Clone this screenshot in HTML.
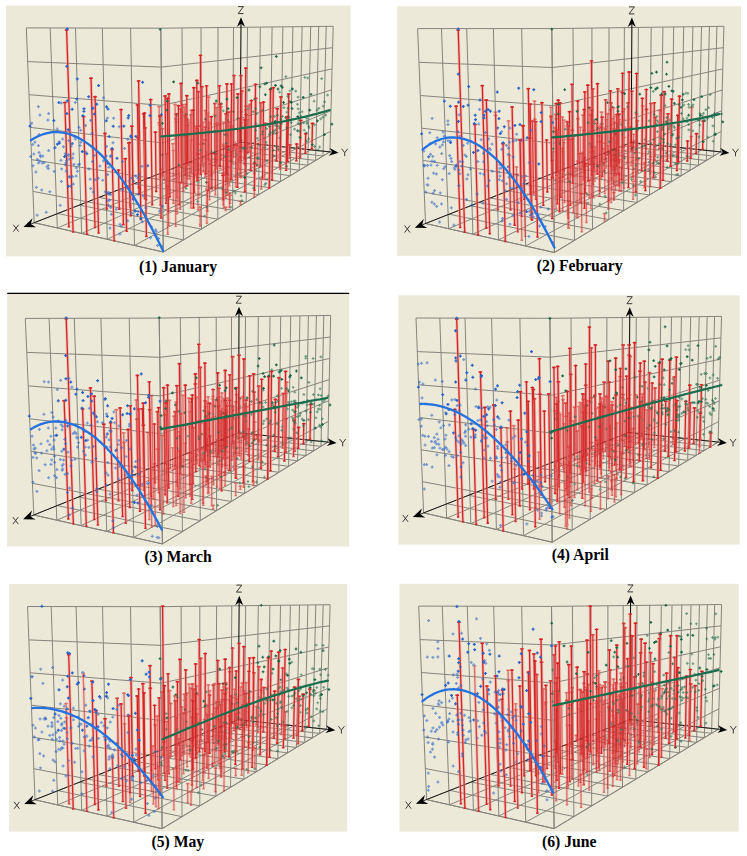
<!DOCTYPE html>
<html><head><meta charset="utf-8"><title>Figure</title>
<style>html,body{margin:0;padding:0;background:#fff;}svg{display:block;}</style></head>
<body><svg width="747" height="856" viewBox="0 0 747 856"><rect x="6" y="5.5" width="344.6" height="250.9" fill="#ECE9D8"/>
<line x1="163.3" y1="252" x2="160.8" y2="28.2" stroke="#86857d" stroke-width="1"/>
<line x1="134.5" y1="245.5" x2="130.6" y2="28.1" stroke="#86857d" stroke-width="1"/>
<line x1="107.3" y1="239.3" x2="102.3" y2="28.1" stroke="#86857d" stroke-width="1"/>
<line x1="81.6" y1="233.5" x2="75.5" y2="28" stroke="#86857d" stroke-width="1"/>
<line x1="57.3" y1="228" x2="50.2" y2="28" stroke="#86857d" stroke-width="1"/>
<line x1="34.2" y1="222.7" x2="26.3" y2="27.9" stroke="#86857d" stroke-width="1"/>
<line x1="163.3" y1="252" x2="34.2" y2="222.7" stroke="#86857d" stroke-width="1"/>
<line x1="162.9" y1="216.2" x2="33" y2="191.4" stroke="#86857d" stroke-width="1"/>
<line x1="162.5" y1="179.9" x2="31.7" y2="159.7" stroke="#86857d" stroke-width="1"/>
<line x1="162.1" y1="142.9" x2="30.4" y2="127.4" stroke="#86857d" stroke-width="1"/>
<line x1="161.7" y1="105.3" x2="29" y2="94.7" stroke="#86857d" stroke-width="1"/>
<line x1="161.2" y1="67.1" x2="27.7" y2="61.6" stroke="#86857d" stroke-width="1"/>
<line x1="160.8" y1="28.2" x2="26.3" y2="27.9" stroke="#86857d" stroke-width="1"/>
<line x1="163.3" y1="252" x2="160.8" y2="28.2" stroke="#86857d" stroke-width="1"/>
<line x1="183.4" y1="239.9" x2="182" y2="28" stroke="#86857d" stroke-width="1"/>
<line x1="201.5" y1="229.1" x2="201" y2="27.7" stroke="#86857d" stroke-width="1"/>
<line x1="217.8" y1="219.2" x2="218" y2="27.6" stroke="#86857d" stroke-width="1"/>
<line x1="232.6" y1="210.3" x2="233.5" y2="27.4" stroke="#86857d" stroke-width="1"/>
<line x1="246.2" y1="202.2" x2="247.5" y2="27.2" stroke="#86857d" stroke-width="1"/>
<line x1="258.6" y1="194.7" x2="260.3" y2="27.1" stroke="#86857d" stroke-width="1"/>
<line x1="270" y1="187.8" x2="272.1" y2="26.9" stroke="#86857d" stroke-width="1"/>
<line x1="280.5" y1="181.5" x2="282.9" y2="26.8" stroke="#86857d" stroke-width="1"/>
<line x1="290.3" y1="175.7" x2="292.9" y2="26.7" stroke="#86857d" stroke-width="1"/>
<line x1="299.3" y1="170.2" x2="302.1" y2="26.6" stroke="#86857d" stroke-width="1"/>
<line x1="307.8" y1="165.2" x2="310.7" y2="26.5" stroke="#86857d" stroke-width="1"/>
<line x1="315.6" y1="160.4" x2="318.7" y2="26.4" stroke="#86857d" stroke-width="1"/>
<line x1="323" y1="156" x2="326.2" y2="26.3" stroke="#86857d" stroke-width="1"/>
<line x1="329.9" y1="151.9" x2="333.2" y2="26.3" stroke="#86857d" stroke-width="1"/>
<line x1="163.3" y1="252" x2="329.9" y2="151.9" stroke="#86857d" stroke-width="1"/>
<line x1="162.9" y1="216.2" x2="330.4" y2="131.4" stroke="#86857d" stroke-width="1"/>
<line x1="162.5" y1="179.9" x2="330.9" y2="110.8" stroke="#86857d" stroke-width="1"/>
<line x1="162.1" y1="142.9" x2="331.5" y2="89.9" stroke="#86857d" stroke-width="1"/>
<line x1="161.7" y1="105.3" x2="332" y2="68.9" stroke="#86857d" stroke-width="1"/>
<line x1="161.2" y1="67.1" x2="332.6" y2="47.7" stroke="#86857d" stroke-width="1"/>
<line x1="160.8" y1="28.2" x2="333.2" y2="26.3" stroke="#86857d" stroke-width="1"/>
<line x1="163.3" y1="252" x2="34.2" y2="222.7" stroke="#86857d" stroke-width="1"/>
<line x1="183.4" y1="239.9" x2="57.8" y2="213.5" stroke="#86857d" stroke-width="1"/>
<line x1="201.5" y1="229.1" x2="79.3" y2="205.1" stroke="#86857d" stroke-width="1"/>
<line x1="217.8" y1="219.2" x2="99" y2="197.4" stroke="#86857d" stroke-width="1"/>
<line x1="232.6" y1="210.3" x2="117.1" y2="190.4" stroke="#86857d" stroke-width="1"/>
<line x1="246.2" y1="202.2" x2="133.7" y2="183.8" stroke="#86857d" stroke-width="1"/>
<line x1="258.6" y1="194.7" x2="149.1" y2="177.8" stroke="#86857d" stroke-width="1"/>
<line x1="270" y1="187.8" x2="163.4" y2="172.2" stroke="#86857d" stroke-width="1"/>
<line x1="280.5" y1="181.5" x2="176.7" y2="167" stroke="#86857d" stroke-width="1"/>
<line x1="290.3" y1="175.7" x2="189.1" y2="162.2" stroke="#86857d" stroke-width="1"/>
<line x1="299.3" y1="170.2" x2="200.7" y2="157.7" stroke="#86857d" stroke-width="1"/>
<line x1="307.8" y1="165.2" x2="211.5" y2="153.4" stroke="#86857d" stroke-width="1"/>
<line x1="315.6" y1="160.4" x2="221.7" y2="149.4" stroke="#86857d" stroke-width="1"/>
<line x1="323" y1="156" x2="231.2" y2="145.7" stroke="#86857d" stroke-width="1"/>
<line x1="329.9" y1="151.9" x2="240.2" y2="142.2" stroke="#86857d" stroke-width="1"/>
<line x1="163.3" y1="252" x2="329.9" y2="151.9" stroke="#86857d" stroke-width="1"/>
<line x1="134.5" y1="245.5" x2="310.8" y2="149.8" stroke="#86857d" stroke-width="1"/>
<line x1="107.3" y1="239.3" x2="292.3" y2="147.8" stroke="#86857d" stroke-width="1"/>
<line x1="81.6" y1="233.5" x2="274.4" y2="145.9" stroke="#86857d" stroke-width="1"/>
<line x1="57.3" y1="228" x2="257" y2="144" stroke="#86857d" stroke-width="1"/>
<line x1="34.2" y1="222.7" x2="240.2" y2="142.2" stroke="#86857d" stroke-width="1"/>
<line x1="240.2" y1="142.2" x2="241" y2="21.2" stroke="#000" stroke-width="1"/>
<polygon points="241,17.2 245,26.8 241,23.7 237,26.7" fill="#000"/>
<line x1="240.2" y1="142.2" x2="28.2" y2="225.1" stroke="#111" stroke-width="0.9"/>
<polygon points="23.5,226.9 32.5,218.3 30.8,224.1 36,227.2" fill="#000"/>
<line x1="240.2" y1="142.2" x2="334.6" y2="152.4" stroke="#111" stroke-width="0.9"/>
<polygon points="338.6,152.8 328.7,155.7 332.2,152.1 329.6,147.9" fill="#000"/>
<path d="M238.1 6.6H243.5L238.1 13.6H243.5M13.3 224.7L18.7 231.7M18.7 224.7L13.3 231.7M341.7 148.8L344.7 152.7L347.7 148.8M344.7 152.7V156.2" stroke="#3a3a3a" stroke-width="1" fill="none"/>
<path d="M66.6 29L73.1 232M200.5 54.4L200.8 174.6M245.8 67.3L244.9 191.7M91 77.3L95 227.6M196.8 79.5L197.2 180.5M138.6 80L140.9 219.5M181 82.5L181.7 182.7M226.9 83L226.6 174.6M231.6 83L231.2 179.2M255.5 83.4L254.5 190.3M206.6 84.9L206.7 173.9M219.4 84.9L219.3 165.8M193.8 86.7L194.2 192.3M273.3 86.8L272.1 180M270.5 88.6L269.2 188.1M168.9 93L169.9 196.7M238 93L237.5 187.3M288.8 93L287.6 161.5M165.1 95L166.2 203.3M186.8 94.8L187.2 162.8M95 95.7L98.6 233.1M280.9 96L279.8 166M167.3 97.5L168.4 211.4M150.7 98.6L152.2 204.8M251.4 99.6L250.8 170.4M263.5 101.1L262.6 177.7M64.8 101.6L68.9 226.9M137.5 104L139 193.8M178.4 104.8L179.2 204.8M277.3 107.7L276.5 160.8M121 108.6L123.4 224.7M193.1 109.3L193.5 208M144.5 112.1L146.4 236.5M143.6 112.9L144.9 198.9M159.9 115.2L161.1 218.1M83.5 115.6L86.9 234.3M211.2 115.8L211.2 176.1M287 115.8L286.1 170.4M300.9 119.5L300.1 157.9M312.5 122.5L311.9 149M131.8 125.2L133.1 198.9M155.4 131.3L156.2 191.5M104.9 132.5L106.7 209M305.7 132.8L305.3 153.4M129.3 141.6L130.7 215.8M296.7 143.1L296.4 160.8M112 148.5L114.1 240.9M125.2 157.7L126.6 231.3M118.5 169.1L119.3 209.2M223 174.4L222.9 199.6" stroke="#f0a0a0" stroke-width="3" stroke-opacity="0.55" fill="none"/>
<path d="M66.6 29L73.1 232M200.5 54.4L200.8 174.6M245.8 67.3L244.9 191.7M91 77.3L95 227.6M196.8 79.5L197.2 180.5M138.6 80L140.9 219.5M181 82.5L181.7 182.7M226.9 83L226.6 174.6M231.6 83L231.2 179.2M255.5 83.4L254.5 190.3M206.6 84.9L206.7 173.9M219.4 84.9L219.3 165.8M193.8 86.7L194.2 192.3M273.3 86.8L272.1 180M270.5 88.6L269.2 188.1M168.9 93L169.9 196.7M238 93L237.5 187.3M288.8 93L287.6 161.5M165.1 95L166.2 203.3M186.8 94.8L187.2 162.8M95 95.7L98.6 233.1M280.9 96L279.8 166M167.3 97.5L168.4 211.4M150.7 98.6L152.2 204.8M251.4 99.6L250.8 170.4M263.5 101.1L262.6 177.7M64.8 101.6L68.9 226.9M137.5 104L139 193.8M178.4 104.8L179.2 204.8M277.3 107.7L276.5 160.8M121 108.6L123.4 224.7M193.1 109.3L193.5 208M144.5 112.1L146.4 236.5M143.6 112.9L144.9 198.9M159.9 115.2L161.1 218.1M83.5 115.6L86.9 234.3M211.2 115.8L211.2 176.1M287 115.8L286.1 170.4M300.9 119.5L300.1 157.9M312.5 122.5L311.9 149M131.8 125.2L133.1 198.9M155.4 131.3L156.2 191.5M104.9 132.5L106.7 209M305.7 132.8L305.3 153.4M129.3 141.6L130.7 215.8M296.7 143.1L296.4 160.8M112 148.5L114.1 240.9M125.2 157.7L126.6 231.3M118.5 169.1L119.3 209.2M223 174.4L222.9 199.6" stroke="#d42424" stroke-width="1.3" fill="none"/>
<path d="M64.8 30h3.6M198.7 55.4h3.6M244 68.3h3.6M89.2 78.3h3.6M195 80.5h3.6M136.8 81h3.6M179.2 83.5h3.6M225.1 84h3.6M229.8 84h3.6M253.7 84.4h3.6M204.8 85.9h3.6M217.6 85.9h3.6M192 87.7h3.6M271.5 87.8h3.6M268.7 89.6h3.6M167.1 94h3.6M236.2 94h3.6M287 94h3.6M163.3 96h3.6M185 95.8h3.6M93.2 96.7h3.6M279.1 97h3.6M165.5 98.5h3.6M148.9 99.6h3.6M249.6 100.6h3.6M261.7 102.1h3.6M63 102.6h3.6M135.7 105h3.6M176.6 105.8h3.6M275.5 108.7h3.6M119.2 109.6h3.6M191.3 110.3h3.6M142.7 113.1h3.6M141.8 113.9h3.6M158.1 116.2h3.6M81.7 116.6h3.6M209.4 116.8h3.6M285.2 116.8h3.6M299.1 120.5h3.6M310.7 123.5h3.6M130 126.2h3.6M153.6 132.3h3.6M103.1 133.5h3.6M303.9 133.8h3.6M127.5 142.6h3.6M294.9 144.1h3.6M110.2 149.5h3.6M123.4 158.7h3.6M116.7 170.1h3.6M221.2 175.4h3.6M71.9 232h2.4M199.6 174.6h2.4M243.7 191.7h2.4M93.8 227.6h2.4M196 180.5h2.4M139.7 219.5h2.4M180.5 182.7h2.4M225.4 174.6h2.4M230 179.2h2.4M253.3 190.3h2.4M205.5 173.9h2.4M218.1 165.8h2.4M193 192.3h2.4M270.9 180h2.4M268 188.1h2.4M168.7 196.7h2.4M236.3 187.3h2.4M286.4 161.5h2.4M165 203.3h2.4M186 162.8h2.4M97.4 233.1h2.4M278.6 166h2.4M167.2 211.4h2.4M151 204.8h2.4M249.6 170.4h2.4M261.4 177.7h2.4M67.7 226.9h2.4M137.8 193.8h2.4M178 204.8h2.4M275.3 160.8h2.4M122.2 224.7h2.4M192.3 208h2.4M145.2 236.5h2.4M143.7 198.9h2.4M159.9 218.1h2.4M85.7 234.3h2.4M210 176.1h2.4M284.9 170.4h2.4M298.9 157.9h2.4M310.7 149h2.4M131.9 198.9h2.4M155 191.5h2.4M105.5 209h2.4M304.1 153.4h2.4M129.5 215.8h2.4M295.2 160.8h2.4M112.9 240.9h2.4M125.4 231.3h2.4M118.1 209.2h2.4M221.7 199.6h2.4" stroke="#d42424" stroke-width="1.4" fill="none"/>
<path d="M65.9 28.9h3M67.4 27.4v3M65.3 66.3h3M66.8 64.8v3M141.1 82.3h3M142.6 80.8v3M75.8 78.9h3M77.3 77.4v3M75.2 98.9h3M76.7 97.4v3M97.1 85.5h3M98.6 84v3M65.8 100.9h3M67.3 99.4v3M91.3 108.1h3M92.8 106.6v3M105 106.8h3M106.5 105.3v3M148.6 105.3h3M150.1 103.8v3M70.7 109.3h3M72.2 107.8v3M65.4 113.6h3M66.9 112.1v3M95.3 104.2h3M96.8 102.7v3M148.5 115.6h3M150 114.1v3M159.9 114.5h3M161.4 113v3M82.5 108.7h3M84 107.2v3M126.7 117.9h3M128.2 116.4v3M129.2 136h3M130.7 134.5v3M91.1 108.6h3M92.6 107.1v3M28.5 126.1h3M30 124.6v3M87.2 96.7h3M88.7 95.2v3M129.8 137.1h3M131.3 135.6v3M106.5 109.1h3M108 107.6v3M82.4 111.3h3M83.9 109.8v3M107.7 136.5h3M109.2 135v3M134.4 136.4h3M135.9 134.9v3M57.4 102.5h3M58.9 101v3M52.3 120.5h3M53.8 119v3M104.8 120.8h3M106.3 119.3v3M115.5 158.3h3M117 156.8v3M92.8 114h3M94.3 112.5v3M122.3 126.2h3M123.8 124.7v3M127.2 115.6h3M128.7 114.1v3M66.7 129.7h3M68.2 128.2v3M111.7 126.3h3M113.2 124.8v3M81.4 115.7h3M82.9 114.2v3M80.8 151.6h3M82.3 150.1v3M146.2 165.8h3M147.7 164.3v3M137 183.6h3M138.5 182.1v3M131.8 199.2h3M133.3 197.7v3M57.9 143h3M59.4 141.5v3M63.1 156.5h3M64.6 155v3M55.9 144.2h3M57.4 142.7v3M133.8 211.1h3M135.3 209.6v3M85.3 153.7h3M86.8 152.2v3M139.4 218.7h3M140.9 217.2v3M110.6 148.5h3M112.1 147v3M106.2 163.3h3M107.7 161.8v3M66.9 186.3h3M68.4 184.8v3M136 214.7h3M137.5 213.2v3" stroke="#2a64c8" stroke-width="1.25" fill="none"/>
<path d="M158.7 29.3h2.8M160.1 27.9v2.8M274.9 56.5h2.8M276.3 55.1v2.8M259.7 67.8h2.8M261.1 66.4v2.8M172.2 81.9h2.8M173.6 80.5v2.8M265.2 83.2h2.8M266.6 81.8v2.8M196.5 83.2h2.8M197.9 81.8v2.8M258.5 86.8h2.8M259.9 85.4v2.8M279.7 85.9h2.8M281.1 84.5v2.8M274.1 85.4h2.8M275.5 84v2.8M263.5 83.9h2.8M264.9 82.5v2.8M276.6 89h2.8M278 87.6v2.8M291 88.9h2.8M292.4 87.5v2.8M247.6 90h2.8M249 88.6v2.8M281 87.3h2.8M282.4 85.9v2.8M269.4 88.6h2.8M270.8 87.2v2.8M235.7 97.6h2.8M237.1 96.2v2.8M264 94.7h2.8M265.4 93.3v2.8M309.6 94.3h2.8M311 92.9v2.8M225.5 99.2h2.8M226.9 97.8v2.8M288.9 101.8h2.8M290.3 100.4v2.8M165.9 101.1h2.8M167.3 99.7v2.8M301.8 97.4h2.8M303.2 96v2.8M214.8 101h2.8M216.2 99.6v2.8M219.9 103.8h2.8M221.3 102.4v2.8M290.2 102.3h2.8M291.6 100.9v2.8M282.2 102.5h2.8M283.6 101.1v2.8M165.5 110.2h2.8M166.9 108.8v2.8M232.2 111.7h2.8M233.6 110.3v2.8M226.6 108.6h2.8M228 107.2v2.8M308.3 110.1h2.8M309.7 108.7v2.8M184.7 114.3h2.8M186.1 112.9v2.8M225.6 112h2.8M227 110.6v2.8M175.4 115h2.8M176.8 113.6v2.8M226.3 120.4h2.8M227.7 119v2.8M203.9 119.2h2.8M205.3 117.8v2.8M161 123.3h2.8M162.4 121.9v2.8M273.9 121.4h2.8M275.3 120v2.8M296.4 116.6h2.8M297.8 115.2v2.8M316.1 120.8h2.8M317.5 119.4v2.8M330.5 124.1h2.8M331.9 122.7v2.8M223.3 134.7h2.8M224.7 133.3v2.8M239.5 140.4h2.8M240.9 139v2.8M201.9 143.6h2.8M203.3 142.2v2.8M323 134.6h2.8M324.4 133.2v2.8M199 150.2h2.8M200.4 148.8v2.8M310.9 144.7h2.8M312.3 143.3v2.8M160.8 155h2.8M162.2 153.6v2.8M177.1 165h2.8M178.5 163.6v2.8M205.1 182.4h2.8M206.5 181v2.8M243.3 177.5h2.8M244.7 176.1v2.8" stroke="#1b6848" stroke-width="1.1" fill="none"/>
<g opacity="0.6"><path d="M234 74.6L233.6 157.3M241 74.6L240.4 173.3M201.9 85.7L202.1 161.3M241.8 90L241.2 177.7M198.3 90.8L198.5 166.1M255.8 97.4L255.2 155.3M260.9 101.9L260.2 167.4M214.8 102.6L214.8 165.5M220.4 103.3L220.3 168.8M228.1 111.4L228 147.4M176.3 112.9L177 197.5M225.9 112.9L225.7 171.1M246.2 113.6L245.9 158.9M280.8 121.7L280.1 167.5M265.3 122.5L264.9 159.9M145.2 126.9L146.3 199.7M138 136.5L138.9 188M128.8 142L130 207.6M289.8 143.9L289.6 158.3M236 144.3L235.8 177.1M227.2 145L227 195.3M211.7 152.4L211.7 189M215.4 153.1L215.4 195.1M254.5 162.3L254.2 197.2M208.7 181.4L208.7 190.8M223.5 143.4L223.4 175.3M231.2 126.9L231 179.8M175.9 118L176.4 175.1M214.7 114.3L214.7 154.9M181.7 111L182.1 168.1M207.7 112.4L207.8 159.6M176.5 120.7L176.9 171M163.6 134.9L164.1 179.7M249.9 103.5L249.5 151.3M216.3 132.1L216.3 155.1M185.1 114.7L185.5 174.5M214.9 129.7L214.9 153.6M247.7 119L247.4 153.7M162.3 127.7L162.8 176.2M191.3 109.5L191.6 173.8M198.5 153.3L198.6 170.3M231.4 125.7L231.3 157.2M231.4 130.9L231.3 161.1M203.2 121.4L203.3 172M187.3 124.5L187.6 176M234.1 141L234 149.4M217 122L217 163.6M198.4 125.6L198.5 173.5M208.8 121.5L208.9 156M232.6 125.1L232.4 163.2M205.4 109.6L205.5 173.9M231.8 124.8L231.6 162M210.8 159L210.8 189M166.7 153L167.2 200.3M212.1 164.4L212.1 189.7M186.8 117.4L187.2 186M229.1 132.8L228.9 175.4M244.5 119.3L244.2 163.7M229.3 121.6L229.1 178.1M229.4 179.6L229.4 185.7M257.4 142.8L257.2 166.1M217.5 123.7L217.5 187.5M238.8 129.7L238.5 169.1M229 121.1L228.8 178.6M167.2 185.5L167.7 234.2M225.7 206.2L225.7 210.6M223.2 172L223.1 204.7M209.4 123.1L209.5 199.8M230.2 194.2L230.2 203.4M206.9 187.9L206.9 223.4M206.9 151.3L207 203.3M240.6 200.3L240.6 204.6M225.9 170.7L225.8 198.4M261.4 178.4L261.3 189" stroke="#f0a0a0" stroke-width="3" stroke-opacity="0.55" fill="none"/><path d="M234 74.6L233.6 157.3M241 74.6L240.4 173.3M201.9 85.7L202.1 161.3M241.8 90L241.2 177.7M198.3 90.8L198.5 166.1M255.8 97.4L255.2 155.3M260.9 101.9L260.2 167.4M214.8 102.6L214.8 165.5M220.4 103.3L220.3 168.8M228.1 111.4L228 147.4M176.3 112.9L177 197.5M225.9 112.9L225.7 171.1M246.2 113.6L245.9 158.9M280.8 121.7L280.1 167.5M265.3 122.5L264.9 159.9M145.2 126.9L146.3 199.7M138 136.5L138.9 188M128.8 142L130 207.6M289.8 143.9L289.6 158.3M236 144.3L235.8 177.1M227.2 145L227 195.3M211.7 152.4L211.7 189M215.4 153.1L215.4 195.1M254.5 162.3L254.2 197.2M208.7 181.4L208.7 190.8M223.5 143.4L223.4 175.3M231.2 126.9L231 179.8M175.9 118L176.4 175.1M214.7 114.3L214.7 154.9M181.7 111L182.1 168.1M207.7 112.4L207.8 159.6M176.5 120.7L176.9 171M163.6 134.9L164.1 179.7M249.9 103.5L249.5 151.3M216.3 132.1L216.3 155.1M185.1 114.7L185.5 174.5M214.9 129.7L214.9 153.6M247.7 119L247.4 153.7M162.3 127.7L162.8 176.2M191.3 109.5L191.6 173.8M198.5 153.3L198.6 170.3M231.4 125.7L231.3 157.2M231.4 130.9L231.3 161.1M203.2 121.4L203.3 172M187.3 124.5L187.6 176M234.1 141L234 149.4M217 122L217 163.6M198.4 125.6L198.5 173.5M208.8 121.5L208.9 156M232.6 125.1L232.4 163.2M205.4 109.6L205.5 173.9M231.8 124.8L231.6 162M210.8 159L210.8 189M166.7 153L167.2 200.3M212.1 164.4L212.1 189.7M186.8 117.4L187.2 186M229.1 132.8L228.9 175.4M244.5 119.3L244.2 163.7M229.3 121.6L229.1 178.1M229.4 179.6L229.4 185.7M257.4 142.8L257.2 166.1M217.5 123.7L217.5 187.5M238.8 129.7L238.5 169.1M229 121.1L228.8 178.6M167.2 185.5L167.7 234.2M225.7 206.2L225.7 210.6M223.2 172L223.1 204.7M209.4 123.1L209.5 199.8M230.2 194.2L230.2 203.4M206.9 187.9L206.9 223.4M206.9 151.3L207 203.3M240.6 200.3L240.6 204.6M225.9 170.7L225.8 198.4M261.4 178.4L261.3 189" stroke="#d42424" stroke-width="1.3" fill="none"/><path d="M232.2 75.6h3.6M239.2 75.6h3.6M200.1 86.7h3.6M240 91h3.6M196.5 91.8h3.6M254 98.4h3.6M259.1 102.9h3.6M213 103.6h3.6M218.6 104.3h3.6M226.3 112.4h3.6M174.5 113.9h3.6M224.1 113.9h3.6M244.4 114.6h3.6M279 122.7h3.6M263.5 123.5h3.6M143.4 127.9h3.6M136.2 137.5h3.6M127 143h3.6M288 144.9h3.6M234.2 145.3h3.6M225.4 146h3.6M209.9 153.4h3.6M213.6 154.1h3.6M252.7 163.3h3.6M206.9 182.4h3.6M221.7 144.4h3.6M229.4 127.9h3.6M174.1 119h3.6M212.9 115.3h3.6M179.9 112h3.6M205.9 113.4h3.6M174.7 121.7h3.6M161.8 135.9h3.6M248.1 104.5h3.6M214.5 133.1h3.6M183.3 115.7h3.6M213.1 130.7h3.6M245.9 120h3.6M160.5 128.7h3.6M189.5 110.5h3.6M196.7 154.3h3.6M229.6 126.7h3.6M229.6 131.9h3.6M201.4 122.4h3.6M185.5 125.5h3.6M232.3 142h3.6M215.2 123h3.6M196.6 126.6h3.6M207 122.5h3.6M230.8 126.1h3.6M203.6 110.6h3.6M230 125.8h3.6M209 160h3.6M164.9 154h3.6M210.3 165.4h3.6M185 118.4h3.6M227.3 133.8h3.6M242.7 120.3h3.6M227.5 122.6h3.6M227.6 180.6h3.6M255.6 143.8h3.6M215.7 124.7h3.6M237 130.7h3.6M227.2 122.1h3.6M165.4 186.5h3.6M223.9 207.2h3.6M221.4 173h3.6M207.6 124.1h3.6M228.4 195.2h3.6M205.1 188.9h3.6M205.1 152.3h3.6M238.8 201.3h3.6M224.1 171.7h3.6M259.6 179.4h3.6M232.4 157.3h2.4M239.2 173.3h2.4M200.9 161.3h2.4M240 177.7h2.4M197.3 166.1h2.4M254 155.3h2.4M259 167.4h2.4M213.6 165.5h2.4M219.1 168.8h2.4M226.8 147.4h2.4M175.8 197.5h2.4M224.5 171.1h2.4M244.7 158.9h2.4M278.9 167.5h2.4M263.7 159.9h2.4M145.1 199.7h2.4M137.7 188h2.4M128.8 207.6h2.4M288.4 158.3h2.4M234.6 177.1h2.4M225.8 195.3h2.4M210.5 189h2.4M214.2 195.1h2.4M253 197.2h2.4M207.5 190.8h2.4M222.2 175.3h2.4M229.8 179.8h2.4M175.2 175.1h2.4M213.5 154.9h2.4M180.9 168.1h2.4M206.6 159.6h2.4M175.7 171h2.4M162.9 179.7h2.4M248.3 151.3h2.4M215.1 155.1h2.4M184.3 174.5h2.4M213.7 153.6h2.4M246.2 153.7h2.4M161.6 176.2h2.4M190.4 173.8h2.4M197.4 170.3h2.4M230.1 157.2h2.4M230.1 161.1h2.4M202.1 172h2.4M186.4 176h2.4M232.8 149.4h2.4M215.8 163.6h2.4M197.3 173.5h2.4M207.7 156h2.4M231.2 163.2h2.4M204.3 173.9h2.4M230.4 162h2.4M209.6 189h2.4M166 200.3h2.4M210.9 189.7h2.4M186 186h2.4M227.7 175.4h2.4M243 163.7h2.4M227.9 178.1h2.4M228.2 185.7h2.4M256 166.1h2.4M216.3 187.5h2.4M237.3 169.1h2.4M227.6 178.6h2.4M166.5 234.2h2.4M224.5 210.6h2.4M221.9 204.7h2.4M208.3 199.8h2.4M229 203.4h2.4M205.7 223.4h2.4M205.8 203.3h2.4M239.4 204.6h2.4M224.6 198.4h2.4M260.1 189h2.4" stroke="#d42424" stroke-width="1.4" fill="none"/><path d="M59.9 103h3M61.4 101.5v3M102 97.7h3M103.5 96.2v3M38.4 115.1h3M39.9 113.6v3M112.1 118.2h3M113.6 116.7v3M46.4 120h3M47.9 118.5v3M79.2 142.3h3M80.7 140.8v3M111.5 142.8h3M113 141.3v3M61.1 139.1h3M62.6 137.6v3M73.8 139h3M75.3 137.5v3M31.5 165.7h3M33 164.2v3M90.5 133.4h3M92 131.9v3M84.3 152.2h3M85.8 150.7v3M78.1 164h3M79.6 162.5v3M134 176h3M135.5 174.5v3M101.2 180.3h3M102.7 178.8v3M69.7 146.1h3M71.2 144.6v3M42.6 162.6h3M44.1 161.1v3M71.3 158h3M72.8 156.5v3M126.2 220.8h3M127.7 219.3v3M107.5 194.2h3M109 192.7v3M132 181h3M133.5 179.5v3M107.2 192.4h3M108.7 190.9v3M121.2 189.7h3M122.7 188.2v3M161.1 206.4h3M162.6 204.9v3M108.5 228h3M110 226.5v3M91.8 192.1h3M93.3 190.6v3M107.4 167.3h3M108.9 165.8v3M47.2 150.6h3M48.7 149.1v3M37 162.9h3M38.5 161.4v3M36.9 145.6h3M38.4 144.1v3M41.3 156h3M42.8 154.5v3M39.1 156.7h3M40.6 155.2v3M46.8 168.6h3M48.3 167.1v3M63.7 153.7h3M65.2 152.2v3M40.2 189.9h3M41.7 188.4v3M53.8 147.6h3M55.3 146.1v3M34.9 187.3h3M36.4 185.8v3M67.9 176.5h3M69.4 175v3M38.2 161.1h3M39.7 159.6v3M57.8 141.7h3M59.3 140.2v3M58.7 205.3h3M60.2 203.8v3M59.9 181.4h3M61.4 179.9v3M69 186.2h3M70.5 184.7v3M65.2 160.7h3M66.7 159.2v3M59.4 160.3h3M60.9 158.8v3M44.7 212.3h3M46.2 210.8v3M60.1 168.9h3M61.6 167.4v3M64 164.9h3M65.5 163.4v3M34.4 172h3M35.9 170.5v3M74.6 176.1h3M76.1 174.6v3M70.8 143.5h3M72.3 142v3M71 176.5h3M72.5 175v3M106.4 200.8h3M107.9 199.3v3M88.7 179.2h3M90.2 177.7v3M109.1 207.5h3M110.6 206v3M78.5 145.5h3M80 144v3M96.9 178.2h3M98.4 176.7v3M87.4 169.1h3M88.9 167.6v3M102 160.9h3M103.5 159.4v3M118.4 234.1h3M119.9 232.6v3M106.9 204.9h3M108.4 203.4v3M108.9 156.6h3M110.4 155.1v3M93.7 179.7h3M95.2 178.2v3M102.8 159.8h3M104.3 158.3v3M141.5 195.9h3M143 194.4v3M156.1 245.4h3M157.6 243.9v3M144.3 207.9h3M145.8 206.4v3M123.1 148.4h3M124.6 146.9v3M149 237.7h3M150.5 236.2v3M158 211h3M159.5 209.5v3M127.4 180.9h3M128.9 179.4v3M160.3 246.3h3M161.8 244.8v3M136.5 211.4h3M138 209.9v3M154.8 236.2h3M156.3 234.7v3" stroke="#2a64c8" stroke-width="1.25" fill="none"/><path d="M306.4 78h2.8M307.8 76.6v2.8M284.5 76.6h2.8M285.9 75.2v2.8M294.3 91.1h2.8M295.7 89.7v2.8M278.2 92.2h2.8M279.6 90.8v2.8M286.3 96.4h2.8M287.7 95v2.8M312.7 101.2h2.8M314.1 99.8v2.8M296.1 104.4h2.8M297.5 103v2.8M290.2 108.2h2.8M291.6 106.8v2.8M286.4 108.2h2.8M287.8 106.8v2.8M319.4 118.9h2.8M320.8 117.5v2.8M236.2 118.2h2.8M237.6 116.8v2.8M284.1 117.8h2.8M285.5 116.4v2.8M305.5 118.5h2.8M306.9 117.1v2.8M299.2 123.4h2.8M300.6 122v2.8M307.2 126.3h2.8M308.6 124.9v2.8M225.5 135.3h2.8M226.9 133.9v2.8M240.4 148.3h2.8M241.8 146.9v2.8M210.2 152h2.8M211.6 150.6v2.8M313.2 146.5h2.8M314.6 145.1v2.8M277.1 149h2.8M278.5 147.6v2.8M250.2 147.7h2.8M251.6 146.3v2.8M255.5 157.9h2.8M256.9 156.5v2.8M247.9 157.2h2.8M249.3 155.8v2.8M253.3 162.3h2.8M254.7 160.9v2.8M252.1 188.1h2.8M253.5 186.7v2.8M277.1 149.5h2.8M278.5 148.1v2.8M272.6 130.9h2.8M274 129.5v2.8M267.9 126.5h2.8M269.3 125.1v2.8M305.7 122.1h2.8M307.1 120.7v2.8M279.6 119.3h2.8M281 117.9v2.8M297.4 120h2.8M298.8 118.6v2.8M274.1 130h2.8M275.5 128.6v2.8M258.3 145.4h2.8M259.7 144v2.8M317.4 108.4h2.8M318.8 107v2.8M305.2 141.2h2.8M306.6 139.8v2.8M270.9 122.3h2.8M272.3 120.9v2.8M307.3 139h2.8M308.7 137.6v2.8M313.2 124.8h2.8M314.6 123.4v2.8M263.3 138.1h2.8M264.7 136.7v2.8M273.2 116.3h2.8M274.6 114.9v2.8M279.1 163.4h2.8M280.5 162v2.8M305 132.8h2.8M306.4 131.4v2.8M299.2 137.7h2.8M300.6 136.3v2.8M278.2 128.5h2.8M279.6 127.1v2.8M268.9 132.5h2.8M270.3 131.1v2.8M316.7 150h2.8M318.1 148.6v2.8M293.1 129.1h2.8M294.5 127.7v2.8M275 133.2h2.8M276.4 131.8v2.8M302.8 130.2h2.8M304.2 128.8v2.8M296.5 131.1h2.8M297.9 129.7v2.8M276 115.4h2.8M277.4 114v2.8M298.2 131.1h2.8M299.6 129.7v2.8M255.2 164.8h2.8M256.6 163.4v2.8M229.6 161.1h2.8M231 159.7v2.8M254.4 170.2h2.8M255.8 168.8v2.8M254.7 123.6h2.8M256.1 122.2v2.8M278.3 137.9h2.8M279.7 136.5v2.8M298.1 124.1h2.8M299.5 122.7v2.8M274.7 125.9h2.8M276.1 124.5v2.8M263.4 184.8h2.8M264.8 183.4v2.8M296.6 147.1h2.8M298 145.7v2.8M259.1 127.7h2.8M260.5 126.3v2.8M289.1 134.7h2.8M290.5 133.3v2.8M273.9 125.3h2.8M275.3 123.9v2.8M184.7 188.5h2.8M186.1 187.1v2.8M229.3 207.1h2.8M230.7 205.7v2.8M236.6 174h2.8M238 172.6v2.8M240.4 126.2h2.8M241.8 124.8v2.8M239.7 195.9h2.8M241.1 194.5v2.8M208.5 188.3h2.8M209.9 186.9v2.8M234.9 154.8h2.8M236.3 153.4v2.8M240.5 200.5h2.8M241.9 199.1v2.8M245.6 173.6h2.8M247 172.2v2.8M265.5 179.2h2.8M266.9 177.8v2.8" stroke="#1b6848" stroke-width="1.1" fill="none"/></g>
<g opacity="0.6"><path d="M234 74.6L233.7 148.1M241 74.6L240.5 160.3M201.9 85.7L202.1 165.1M241.8 90L241.4 144.8M198.3 90.8L198.5 159.1M255.8 97.4L255.3 148.2M260.9 101.9L260.4 149.8M214.8 102.6L214.8 170.8M220.4 103.3L220.3 165.7M228.1 111.4L227.8 192M176.3 112.9L177.1 213.8M225.9 112.9L225.7 181.5M246.2 113.6L245.8 171.3M280.8 121.7L280.1 169.2M265.3 122.5L264.6 179.6M145.2 126.9L146 178.6M138 136.5L138.8 187M128.8 142L130 205.3M289.8 143.9L289.6 154.8M236 144.3L235.8 187M227.2 145L227.1 179.6M211.7 152.4L211.7 188.2M215.4 153.1L215.4 188.2M254.5 162.3L254.4 173.5M208.6 96.2L208.7 190.8M223.5 121.4L223.4 175.3M231.1 150.9L231 179.8M175.1 103.5L175.7 179.8M189.1 121.4L189.4 179M159.9 114.5L160.6 174.1M216.8 106.8L216.8 168.9M188 119L188.2 165M160.8 168.4L160.9 174.8M197 127.5L197.2 178.1M173.4 149.6L173.6 176.1M159.6 124.1L160.3 177.6M241.5 110.7L241.3 147.5M205.3 126.3L205.4 176.6M245.7 108.9L245.4 146.2M195.1 125.5L195.3 175M221.1 105.7L221 159.2M190.7 113.9L191 162.5M239.7 117.4L239.4 160.3M205.1 139L205.2 174M244.6 118.4L244.3 158.5M186.7 133.9L187 178.8M248.3 105.2L248 152.3M215 122.9L214.9 161.2M230.6 110.5L230.4 161.1M180.6 108.3L181.1 167.1M159.1 121.8L159.8 177.2M241.2 121.7L241 156.6M184.4 106.3L184.9 187.6M261 109.9L260.4 166.1M198.4 124.9L198.6 188M172.9 142.7L173.4 203.2M185.7 103.5L186.2 186.2M182.8 103.8L183.4 191M198.4 143.1L198.6 195.2M246.1 105.1L245.6 165M240.1 157.5L240 176M180 181.6L180.2 209.2M245.6 132.1L245.4 163.7M159.1 105.8L160.3 204.8M197.9 153.2L198.1 209.8M223.8 189.5L223.8 207.9M229.4 192L229.4 207.6M207.4 189.6L207.4 211.2M223.6 145.3L223.5 199.9M200.3 215.3L200.3 226.3M175.3 178.8L175.7 226.4M168.4 196.5L168.7 225.5M190.6 139.3L191 208.1M200.1 206.2L200.2 224.4" stroke="#f0a0a0" stroke-width="3" stroke-opacity="0.55" fill="none"/><path d="M234 74.6L233.7 148.1M241 74.6L240.5 160.3M201.9 85.7L202.1 165.1M241.8 90L241.4 144.8M198.3 90.8L198.5 159.1M255.8 97.4L255.3 148.2M260.9 101.9L260.4 149.8M214.8 102.6L214.8 170.8M220.4 103.3L220.3 165.7M228.1 111.4L227.8 192M176.3 112.9L177.1 213.8M225.9 112.9L225.7 181.5M246.2 113.6L245.8 171.3M280.8 121.7L280.1 169.2M265.3 122.5L264.6 179.6M145.2 126.9L146 178.6M138 136.5L138.8 187M128.8 142L130 205.3M289.8 143.9L289.6 154.8M236 144.3L235.8 187M227.2 145L227.1 179.6M211.7 152.4L211.7 188.2M215.4 153.1L215.4 188.2M254.5 162.3L254.4 173.5M208.6 96.2L208.7 190.8M223.5 121.4L223.4 175.3M231.1 150.9L231 179.8M175.1 103.5L175.7 179.8M189.1 121.4L189.4 179M159.9 114.5L160.6 174.1M216.8 106.8L216.8 168.9M188 119L188.2 165M160.8 168.4L160.9 174.8M197 127.5L197.2 178.1M173.4 149.6L173.6 176.1M159.6 124.1L160.3 177.6M241.5 110.7L241.3 147.5M205.3 126.3L205.4 176.6M245.7 108.9L245.4 146.2M195.1 125.5L195.3 175M221.1 105.7L221 159.2M190.7 113.9L191 162.5M239.7 117.4L239.4 160.3M205.1 139L205.2 174M244.6 118.4L244.3 158.5M186.7 133.9L187 178.8M248.3 105.2L248 152.3M215 122.9L214.9 161.2M230.6 110.5L230.4 161.1M180.6 108.3L181.1 167.1M159.1 121.8L159.8 177.2M241.2 121.7L241 156.6M184.4 106.3L184.9 187.6M261 109.9L260.4 166.1M198.4 124.9L198.6 188M172.9 142.7L173.4 203.2M185.7 103.5L186.2 186.2M182.8 103.8L183.4 191M198.4 143.1L198.6 195.2M246.1 105.1L245.6 165M240.1 157.5L240 176M180 181.6L180.2 209.2M245.6 132.1L245.4 163.7M159.1 105.8L160.3 204.8M197.9 153.2L198.1 209.8M223.8 189.5L223.8 207.9M229.4 192L229.4 207.6M207.4 189.6L207.4 211.2M223.6 145.3L223.5 199.9M200.3 215.3L200.3 226.3M175.3 178.8L175.7 226.4M168.4 196.5L168.7 225.5M190.6 139.3L191 208.1M200.1 206.2L200.2 224.4" stroke="#d42424" stroke-width="1.3" fill="none"/><path d="M232.2 75.6h3.6M239.2 75.6h3.6M200.1 86.7h3.6M240 91h3.6M196.5 91.8h3.6M254 98.4h3.6M259.1 102.9h3.6M213 103.6h3.6M218.6 104.3h3.6M226.3 112.4h3.6M174.5 113.9h3.6M224.1 113.9h3.6M244.4 114.6h3.6M279 122.7h3.6M263.5 123.5h3.6M143.4 127.9h3.6M136.2 137.5h3.6M127 143h3.6M288 144.9h3.6M234.2 145.3h3.6M225.4 146h3.6M209.9 153.4h3.6M213.6 154.1h3.6M252.7 163.3h3.6M206.8 97.2h3.6M221.7 122.4h3.6M229.3 151.9h3.6M173.3 104.5h3.6M187.3 122.4h3.6M158.1 115.5h3.6M215 107.8h3.6M186.2 120h3.6M159 169.4h3.6M195.2 128.5h3.6M171.6 150.6h3.6M157.8 125.1h3.6M239.7 111.7h3.6M203.5 127.3h3.6M243.9 109.9h3.6M193.3 126.5h3.6M219.3 106.7h3.6M188.9 114.9h3.6M237.9 118.4h3.6M203.3 140h3.6M242.8 119.4h3.6M184.9 134.9h3.6M246.5 106.2h3.6M213.2 123.9h3.6M228.8 111.5h3.6M178.8 109.3h3.6M157.3 122.8h3.6M239.4 122.7h3.6M182.6 107.3h3.6M259.2 110.9h3.6M196.6 125.9h3.6M171.1 143.7h3.6M183.9 104.5h3.6M181 104.8h3.6M196.6 144.1h3.6M244.3 106.1h3.6M238.3 158.5h3.6M178.2 182.6h3.6M243.8 133.1h3.6M157.3 106.8h3.6M196.1 154.2h3.6M222 190.5h3.6M227.6 193h3.6M205.6 190.6h3.6M221.8 146.3h3.6M198.5 216.3h3.6M173.5 179.8h3.6M166.6 197.5h3.6M188.8 140.3h3.6M198.3 207.2h3.6M232.5 148.1h2.4M239.3 160.3h2.4M200.9 165.1h2.4M240.2 144.8h2.4M197.3 159.1h2.4M254.1 148.2h2.4M259.2 149.8h2.4M213.6 170.8h2.4M219.1 165.7h2.4M226.6 192h2.4M175.9 213.8h2.4M224.5 181.5h2.4M244.6 171.3h2.4M278.9 169.2h2.4M263.4 179.6h2.4M144.8 178.6h2.4M137.6 187h2.4M128.8 205.3h2.4M288.4 154.8h2.4M234.6 187h2.4M225.9 179.6h2.4M210.5 188.2h2.4M214.2 188.2h2.4M253.2 173.5h2.4M207.5 190.8h2.4M222.2 175.3h2.4M229.8 179.8h2.4M174.5 179.8h2.4M188.2 179h2.4M159.4 174.1h2.4M215.6 168.9h2.4M187 165h2.4M159.7 174.8h2.4M196 178.1h2.4M172.4 176.1h2.4M159.1 177.6h2.4M240.1 147.5h2.4M204.2 176.6h2.4M244.2 146.2h2.4M194.1 175h2.4M219.8 159.2h2.4M189.8 162.5h2.4M238.2 160.3h2.4M204 174h2.4M243.1 158.5h2.4M185.8 178.8h2.4M246.8 152.3h2.4M213.7 161.2h2.4M229.2 161.1h2.4M179.9 167.1h2.4M158.6 177.2h2.4M239.8 156.6h2.4M183.7 187.6h2.4M259.2 166.1h2.4M197.4 188h2.4M172.2 203.2h2.4M185 186.2h2.4M182.2 191h2.4M197.4 195.2h2.4M244.4 165h2.4M238.8 176h2.4M179 209.2h2.4M244.2 163.7h2.4M159.1 204.8h2.4M196.9 209.8h2.4M222.6 207.9h2.4M228.2 207.6h2.4M206.2 211.2h2.4M222.3 199.9h2.4M199.1 226.3h2.4M174.5 226.4h2.4M167.5 225.5h2.4M189.8 208.1h2.4M199 224.4h2.4" stroke="#d42424" stroke-width="1.4" fill="none"/><path d="M36.9 106.7h3M38.4 105.2v3M73.9 102.4h3M75.4 100.9v3M47.1 113.5h3M48.6 112v3M37.6 134.5h3M39.1 133v3M30.2 123.2h3M31.7 121.7v3M61.9 146.7h3M63.4 145.2v3M71.7 153.9h3M73.2 152.4v3M72.6 136.4h3M74.1 134.9v3M67.1 140.7h3M68.6 139.2v3M126.3 139.3h3M127.8 137.8v3M117.8 126.7h3M119.3 125.2v3M105.1 146.4h3M106.6 144.9v3M104.8 155.9h3M106.3 154.4v3M137.3 174.7h3M138.8 173.2v3M140.7 166.3h3M142.2 164.8v3M29.1 156.6h3M30.6 155.1v3M40.7 163.1h3M42.2 161.6v3M67.5 159.1h3M69 157.6v3M118.6 224.4h3M120.1 222.9v3M125.8 187h3M127.3 185.5v3M103.8 191.8h3M105.3 190.3v3M105.7 193h3M107.2 191.5v3M109.1 194.5h3M110.6 193v3M119.7 226.3h3M121.2 224.8v3M105.9 118h3M107.4 116.5v3M91 161.5h3M92.5 160v3M108.1 200.3h3M109.6 198.8v3M55.7 129h3M57.2 127.5v3M67 154.6h3M68.5 153.1v3M31.2 144.6h3M32.7 143.1v3M70.8 143.5h3M72.3 142v3M35.9 159.4h3M37.4 157.9v3M35.7 215.2h3M37.2 213.7v3M72.4 164.4h3M73.9 162.9v3M48.3 191.7h3M49.8 190.2v3M38.8 155.3h3M40.3 153.8v3M45.6 166.7h3M47.1 165.2v3M76.9 164.8h3M78.4 163.3v3M46.7 165.5h3M48.2 164v3M64.3 163.2h3M65.8 161.7v3M53 148h3M54.5 146.5v3M32.3 154h3M33.8 152.5v3M74.9 167.8h3M76.4 166.3v3M71.8 184h3M73.3 182.5v3M75.9 171.3h3M77.4 169.8v3M64.8 171.1h3M66.3 169.6v3M64.5 155.5h3M66 154v3M52.7 171.4h3M54.2 169.9v3M67.2 155.5h3M68.7 154v3M33.4 142.2h3M34.9 140.7v3M37.5 152.4h3M39 150.9v3M68.3 177.3h3M69.8 175.8v3M79.2 130.2h3M80.7 128.7v3M109.3 155.7h3M110.8 154.2v3M92.7 155.4h3M94.2 153.9v3M98.4 166.1h3M99.9 164.6v3M77.5 127.3h3M79 125.8v3M84.1 125.4h3M85.6 123.9v3M106.2 174.5h3M107.7 173v3M91.2 147h3M92.7 145.5v3M109.9 214.3h3M111.4 212.8v3M114.8 209.3h3M116.3 207.8v3M89.2 188.5h3M90.7 187v3M89.1 120.4h3M90.6 118.9v3M130.1 178.1h3M131.6 176.6v3M150.1 227h3M151.6 225.5v3M154.6 231.4h3M156.1 229.9v3M140.8 221.8h3M142.3 220.3v3M136.3 178h3M137.8 176.5v3M157.1 238.6h3M158.6 237.1v3M136.8 194.4h3M138.3 192.9v3M130.4 213.3h3M131.9 211.8v3M121 161.6h3M122.5 160.1v3M154.2 229.8h3M155.7 228.3v3" stroke="#2a64c8" stroke-width="1.25" fill="none"/><path d="M320.3 78.6h2.8M321.7 77.2v2.8M303.4 77.5h2.8M304.8 76.1v2.8M288.7 90.8h2.8M290.1 89.4v2.8M326.2 95.1h2.8M327.6 93.7v2.8M296.7 97.1h2.8M298.1 95.7v2.8M323.2 101.9h2.8M324.6 100.5v2.8M321.7 106.2h2.8M323.1 104.8v2.8M282.5 107.6h2.8M283.9 106.2v2.8M291 108.6h2.8M292.4 107.2v2.8M255.2 113.7h2.8M256.6 112.3v2.8M213.8 116.2h2.8M215.2 114.8v2.8M269.3 116.6h2.8M270.7 115.2v2.8M287.7 117.1h2.8M289.1 115.7v2.8M296.8 123.2h2.8M298.2 121.8v2.8M279.6 123.9h2.8M281 122.5v2.8M255.9 138.4h2.8M257.3 137v2.8M241.8 148.5h2.8M243.2 147.1v2.8M213.3 152.4h2.8M214.7 151v2.8M318.2 147h2.8M319.6 145.6v2.8M263.4 147.5h2.8M264.8 146.1v2.8M271.9 150.2h2.8M273.3 148.8v2.8M256.6 158h2.8M258 156.6v2.8M257.3 158.3h2.8M258.7 156.9v2.8M285.4 166.3h2.8M286.8 164.9v2.8M252.9 99.2h2.8M254.3 97.8v2.8M277.5 126.4h2.8M278.9 125v2.8M272.3 155.8h2.8M273.7 154.4v2.8M261.1 110.2h2.8M262.5 108.8v2.8M265.1 128.6h2.8M266.5 127.2v2.8M266.1 124.1h2.8M267.5 122.7v2.8M285.5 112.2h2.8M286.9 110.8v2.8M285.4 128h2.8M286.8 126.6v2.8M264.4 183.4h2.8M265.8 182v2.8M267.9 134.6h2.8M269.3 133.2v2.8M265.5 161.1h2.8M266.9 159.7v2.8M260.7 134.2h2.8M262.1 132.8v2.8M321.6 117.1h2.8M323 115.7v2.8M271.8 132.9h2.8M273.2 131.5v2.8M324.2 115.1h2.8M325.6 113.7v2.8M272 133h2.8M273.4 131.6v2.8M300.6 111.8h2.8M302 110.4v2.8M289.8 122.5h2.8M291.2 121.1v2.8M302.2 122.9h2.8M303.6 121.5v2.8M275.4 146.8h2.8M276.8 145.4v2.8M305.6 123.7h2.8M307 122.3v2.8M264.7 142.3h2.8M266.1 140.9v2.8M315.7 110.2h2.8M317.1 108.8v2.8M296.1 130.5h2.8M297.5 129.1v2.8M299.5 116.1h2.8M300.9 114.7v2.8M281 116.5h2.8M282.4 115.1v2.8M261.1 131.8h2.8M262.5 130.4v2.8M307.7 127.8h2.8M309.1 126.4v2.8M251.9 111.7h2.8M253.3 110.3v2.8M297.8 112.8h2.8M299.2 111.4v2.8M254.2 130.4h2.8M255.6 129v2.8M227.2 149.2h2.8M228.6 147.8v2.8M254.3 108.8h2.8M255.7 107.4v2.8M246.8 108.8h2.8M248.2 107.4v2.8M244 148.4h2.8M245.4 147v2.8M296.8 108.9h2.8M298.2 107.5v2.8M279.2 162.4h2.8M280.6 161v2.8M220.6 188.1h2.8M222 186.7v2.8M298.1 137.3h2.8M299.5 135.9v2.8M221.9 110.9h2.8M223.3 109.5v2.8M224.1 156.6h2.8M225.5 155.2v2.8M232.5 191h2.8M233.9 189.6v2.8M234.1 193h2.8M235.5 191.6v2.8M224.4 192.5h2.8M225.8 191.1v2.8M243.3 147.7h2.8M244.7 146.3v2.8M203.2 216.1h2.8M204.6 214.7v2.8M196.9 182.3h2.8M198.3 180.9v2.8M196.3 201.5h2.8M197.7 200.1v2.8M224.8 143.2h2.8M226.2 141.8v2.8M205.5 207.3h2.8M206.9 205.9v2.8" stroke="#1b6848" stroke-width="1.1" fill="none"/></g>
<polyline points="163.1,250.9 160.5,245.6 158,240.5 155.4,235.5 152.9,230.6 150.4,225.8 147.9,221.2 145.4,216.6 142.9,212.2 140.4,208 137.9,203.8 135.5,199.8 133,195.9 130.6,192.1 128.1,188.4 125.7,184.9 123.3,181.4 120.9,178.1 118.5,174.9 116.1,171.9 113.7,168.9 111.4,166.1 109,163.4 106.7,160.8 104.4,158.3 102.1,155.9 99.8,153.7 97.5,151.5 95.2,149.5 92.9,147.6 90.7,145.8 88.4,144.1 86.2,142.6 84,141.1 81.8,139.8 79.6,138.5 77.4,137.4 75.2,136.4 73.1,135.5 71,134.7 68.8,134 66.7,133.4 64.6,132.9 62.5,132.6 60.4,132.3 58.4,132.1 56.3,132.1 54.3,132.1 52.3,132.2 50.3,132.5 48.3,132.8 46.3,133.3 44.3,133.8 42.4,134.5 40.4,135.2 38.5,136 36.6,137 34.7,138 32.8,139.1 30.9,140.3" fill="none" stroke="#2472e0" stroke-width="2.3" stroke-linecap="round"/>
<polyline points="161,136.5 168.7,135.9 176,135.3 183.1,134.7 189.9,134.1 196.4,133.5 202.7,132.9 208.8,132.2 214.6,131.6 220.3,131 225.7,130.3 231,129.7 236.1,129 241,128.4 245.8,127.7 250.4,127 254.9,126.3 259.2,125.7 263.5,125 267.5,124.3 271.5,123.6 275.4,122.9 279.1,122.2 282.7,121.5 286.3,120.8 289.7,120.1 293.1,119.4 296.3,118.7 299.5,118 302.6,117.3 305.6,116.6 308.6,115.8 311.4,115.1 314.2,114.4 317,113.7 319.6,112.9 322.2,112.2 324.8,111.5 327.3,110.7 329.7,110" fill="none" stroke="#1a6e4e" stroke-width="2.2" stroke-linecap="round"/>
<text x="178" y="271.7" text-anchor="middle" font-family="Liberation Serif" font-weight="bold" font-size="15.7">(1) January</text>
<rect x="397.1" y="6.3" width="343.9" height="249.5" fill="#ECE9D8"/>
<line x1="554.4" y1="252.5" x2="551.8" y2="28.6" stroke="#86857d" stroke-width="1"/>
<line x1="525.7" y1="246" x2="521.7" y2="28.6" stroke="#86857d" stroke-width="1"/>
<line x1="498.5" y1="239.9" x2="493.4" y2="28.6" stroke="#86857d" stroke-width="1"/>
<line x1="472.9" y1="234.2" x2="466.7" y2="28.6" stroke="#86857d" stroke-width="1"/>
<line x1="448.6" y1="228.7" x2="441.5" y2="28.6" stroke="#86857d" stroke-width="1"/>
<line x1="425.5" y1="223.5" x2="417.6" y2="28.6" stroke="#86857d" stroke-width="1"/>
<line x1="554.4" y1="252.5" x2="425.5" y2="223.5" stroke="#86857d" stroke-width="1"/>
<line x1="554" y1="216.7" x2="424.3" y2="192.2" stroke="#86857d" stroke-width="1"/>
<line x1="553.6" y1="180.3" x2="423" y2="160.4" stroke="#86857d" stroke-width="1"/>
<line x1="553.2" y1="143.3" x2="421.7" y2="128.2" stroke="#86857d" stroke-width="1"/>
<line x1="552.7" y1="105.7" x2="420.3" y2="95.5" stroke="#86857d" stroke-width="1"/>
<line x1="552.3" y1="67.5" x2="419" y2="62.3" stroke="#86857d" stroke-width="1"/>
<line x1="551.8" y1="28.6" x2="417.6" y2="28.6" stroke="#86857d" stroke-width="1"/>
<line x1="554.4" y1="252.5" x2="551.8" y2="28.6" stroke="#86857d" stroke-width="1"/>
<line x1="574.5" y1="240.4" x2="573" y2="28.3" stroke="#86857d" stroke-width="1"/>
<line x1="592.5" y1="229.5" x2="591.9" y2="28.1" stroke="#86857d" stroke-width="1"/>
<line x1="608.8" y1="219.6" x2="609" y2="27.8" stroke="#86857d" stroke-width="1"/>
<line x1="623.6" y1="210.6" x2="624.4" y2="27.6" stroke="#86857d" stroke-width="1"/>
<line x1="637.1" y1="202.5" x2="638.4" y2="27.4" stroke="#86857d" stroke-width="1"/>
<line x1="649.5" y1="195" x2="651.2" y2="27.3" stroke="#86857d" stroke-width="1"/>
<line x1="660.9" y1="188.1" x2="662.9" y2="27.1" stroke="#86857d" stroke-width="1"/>
<line x1="671.4" y1="181.7" x2="673.7" y2="26.9" stroke="#86857d" stroke-width="1"/>
<line x1="681.1" y1="175.8" x2="683.7" y2="26.8" stroke="#86857d" stroke-width="1"/>
<line x1="690.1" y1="170.4" x2="692.9" y2="26.7" stroke="#86857d" stroke-width="1"/>
<line x1="698.5" y1="165.3" x2="701.5" y2="26.6" stroke="#86857d" stroke-width="1"/>
<line x1="706.4" y1="160.5" x2="709.4" y2="26.5" stroke="#86857d" stroke-width="1"/>
<line x1="713.7" y1="156.1" x2="716.9" y2="26.4" stroke="#86857d" stroke-width="1"/>
<line x1="720.6" y1="151.9" x2="723.9" y2="26.3" stroke="#86857d" stroke-width="1"/>
<line x1="554.4" y1="252.5" x2="720.6" y2="151.9" stroke="#86857d" stroke-width="1"/>
<line x1="554" y1="216.7" x2="721.1" y2="131.5" stroke="#86857d" stroke-width="1"/>
<line x1="553.6" y1="180.3" x2="721.7" y2="110.8" stroke="#86857d" stroke-width="1"/>
<line x1="553.2" y1="143.3" x2="722.2" y2="90" stroke="#86857d" stroke-width="1"/>
<line x1="552.7" y1="105.7" x2="722.8" y2="68.9" stroke="#86857d" stroke-width="1"/>
<line x1="552.3" y1="67.5" x2="723.3" y2="47.7" stroke="#86857d" stroke-width="1"/>
<line x1="551.8" y1="28.6" x2="723.9" y2="26.3" stroke="#86857d" stroke-width="1"/>
<line x1="554.4" y1="252.5" x2="425.5" y2="223.5" stroke="#86857d" stroke-width="1"/>
<line x1="574.5" y1="240.4" x2="449.1" y2="214.2" stroke="#86857d" stroke-width="1"/>
<line x1="592.5" y1="229.5" x2="470.5" y2="205.8" stroke="#86857d" stroke-width="1"/>
<line x1="608.8" y1="219.6" x2="490.2" y2="198" stroke="#86857d" stroke-width="1"/>
<line x1="623.6" y1="210.6" x2="508.2" y2="190.9" stroke="#86857d" stroke-width="1"/>
<line x1="637.1" y1="202.5" x2="524.8" y2="184.4" stroke="#86857d" stroke-width="1"/>
<line x1="649.5" y1="195" x2="540.2" y2="178.3" stroke="#86857d" stroke-width="1"/>
<line x1="660.9" y1="188.1" x2="554.5" y2="172.7" stroke="#86857d" stroke-width="1"/>
<line x1="671.4" y1="181.7" x2="567.7" y2="167.5" stroke="#86857d" stroke-width="1"/>
<line x1="681.1" y1="175.8" x2="580.1" y2="162.6" stroke="#86857d" stroke-width="1"/>
<line x1="690.1" y1="170.4" x2="591.6" y2="158" stroke="#86857d" stroke-width="1"/>
<line x1="698.5" y1="165.3" x2="602.5" y2="153.8" stroke="#86857d" stroke-width="1"/>
<line x1="706.4" y1="160.5" x2="612.6" y2="149.8" stroke="#86857d" stroke-width="1"/>
<line x1="713.7" y1="156.1" x2="622.2" y2="146" stroke="#86857d" stroke-width="1"/>
<line x1="720.6" y1="151.9" x2="631.2" y2="142.5" stroke="#86857d" stroke-width="1"/>
<line x1="554.4" y1="252.5" x2="720.6" y2="151.9" stroke="#86857d" stroke-width="1"/>
<line x1="525.7" y1="246" x2="701.5" y2="149.9" stroke="#86857d" stroke-width="1"/>
<line x1="498.5" y1="239.9" x2="683.1" y2="148" stroke="#86857d" stroke-width="1"/>
<line x1="472.9" y1="234.2" x2="665.2" y2="146.1" stroke="#86857d" stroke-width="1"/>
<line x1="448.6" y1="228.7" x2="647.9" y2="144.2" stroke="#86857d" stroke-width="1"/>
<line x1="425.5" y1="223.5" x2="631.2" y2="142.5" stroke="#86857d" stroke-width="1"/>
<line x1="631.2" y1="142.5" x2="631.9" y2="21.5" stroke="#000" stroke-width="1"/>
<polygon points="631.9,17.5 635.8,27 631.9,23.9 627.8,26.9" fill="#000"/>
<line x1="631.2" y1="142.5" x2="419.5" y2="225.9" stroke="#111" stroke-width="0.9"/>
<polygon points="414.8,227.7 423.8,219.1 422.1,224.9 427.3,228" fill="#000"/>
<line x1="631.2" y1="142.5" x2="725.4" y2="152.4" stroke="#111" stroke-width="0.9"/>
<polygon points="729.4,152.9 719.5,155.7 722.9,152.2 720.3,148" fill="#000"/>
<path d="M629 6.9H634.4L629 13.9H634.4M404.6 225.5L410 232.5M410 225.5L404.6 232.5M732.5 148.9L735.5 152.8L738.5 148.9M735.5 152.8V156.3" stroke="#3a3a3a" stroke-width="1" fill="none"/>
<path d="M458.2 29.1L464.7 232.3M591.5 59.9L591.8 175M629.1 71L628.4 187.6M622.6 72.4L622.1 179.5M636.7 72.6L635.8 192M597.5 82.7L597.7 174.3M572 83.4L572.7 183.1M587.8 84.2L588.2 180.9M482.3 84.7L486.2 228.2M528.3 87.8L530.1 194.3M617.8 87.9L617.5 174.9M646.3 88.6L645.4 190.6M610.4 90L610.3 166.1M584.8 90.9L585.2 192.7M664.1 90.8L663 180.2M622.3 91.5L621.9 180.1M661.2 94.2L660.1 188.3M679.5 95.3L678.4 161.7M642.3 97.4L641.7 170.7M671.6 98.2L670.6 166.2M486.3 99L489.8 233.7M558.3 99.3L559.5 211.9M577.8 100.1L578.2 163.2M541.9 101.8L543.3 205.3M560 102L561 197.2M654.3 101.9L653.5 177.9M556.2 102.6L557.3 203.8M530.1 103.3L532 220M456.1 105.3L460.2 227.6M512.1 106L514.6 225.3M584.1 108.6L584.5 208.4M569.5 110.7L570.2 205.2M668 112.9L667.3 161M677.8 114.4L676.9 170.6M551 115.5L552.2 218.6M602.1 116.3L602.2 176.5M703.3 120.3L702.7 149.1M535.7 120.7L537.5 237M474.9 123.5L478.1 235M522.9 124.7L524.2 199.4M696.5 132.8L696.1 153.5M520.4 138.7L521.8 216.4M546.6 139.1L547.3 192M687.6 140.1L687.2 161M503 142.7L505.3 241.5" stroke="#f0a0a0" stroke-width="3" stroke-opacity="0.55" fill="none"/>
<path d="M458.2 29.1L464.7 232.3M591.5 59.9L591.8 175M629.1 71L628.4 187.6M622.6 72.4L622.1 179.5M636.7 72.6L635.8 192M597.5 82.7L597.7 174.3M572 83.4L572.7 183.1M587.8 84.2L588.2 180.9M482.3 84.7L486.2 228.2M528.3 87.8L530.1 194.3M617.8 87.9L617.5 174.9M646.3 88.6L645.4 190.6M610.4 90L610.3 166.1M584.8 90.9L585.2 192.7M664.1 90.8L663 180.2M622.3 91.5L621.9 180.1M661.2 94.2L660.1 188.3M679.5 95.3L678.4 161.7M642.3 97.4L641.7 170.7M671.6 98.2L670.6 166.2M486.3 99L489.8 233.7M558.3 99.3L559.5 211.9M577.8 100.1L578.2 163.2M541.9 101.8L543.3 205.3M560 102L561 197.2M654.3 101.9L653.5 177.9M556.2 102.6L557.3 203.8M530.1 103.3L532 220M456.1 105.3L460.2 227.6M512.1 106L514.6 225.3M584.1 108.6L584.5 208.4M569.5 110.7L570.2 205.2M668 112.9L667.3 161M677.8 114.4L676.9 170.6M551 115.5L552.2 218.6M602.1 116.3L602.2 176.5M703.3 120.3L702.7 149.1M535.7 120.7L537.5 237M474.9 123.5L478.1 235M522.9 124.7L524.2 199.4M696.5 132.8L696.1 153.5M520.4 138.7L521.8 216.4M546.6 139.1L547.3 192M687.6 140.1L687.2 161M503 142.7L505.3 241.5" stroke="#d42424" stroke-width="1.3" fill="none"/>
<path d="M456.4 30.1h3.6M589.7 60.9h3.6M627.3 72h3.6M620.8 73.4h3.6M634.9 73.6h3.6M595.7 83.7h3.6M570.2 84.4h3.6M586 85.2h3.6M480.5 85.7h3.6M526.5 88.8h3.6M616 88.9h3.6M644.5 89.6h3.6M608.6 91h3.6M583 91.9h3.6M662.3 91.8h3.6M620.5 92.5h3.6M659.4 95.2h3.6M677.7 96.3h3.6M640.5 98.4h3.6M669.8 99.2h3.6M484.5 100h3.6M556.5 100.3h3.6M576 101.1h3.6M540.1 102.8h3.6M558.2 103h3.6M652.5 102.9h3.6M554.4 103.6h3.6M528.3 104.3h3.6M454.3 106.3h3.6M510.3 107h3.6M582.3 109.6h3.6M567.7 111.7h3.6M666.2 113.9h3.6M676 115.4h3.6M549.2 116.5h3.6M600.3 117.3h3.6M701.5 121.3h3.6M533.9 121.7h3.6M473.1 124.5h3.6M521.1 125.7h3.6M694.7 133.8h3.6M518.6 139.7h3.6M544.8 140.1h3.6M685.8 141.1h3.6M501.2 143.7h3.6M463.5 232.3h2.4M590.6 175h2.4M627.2 187.6h2.4M620.9 179.5h2.4M634.6 192h2.4M596.5 174.3h2.4M571.5 183.1h2.4M587 180.9h2.4M485 228.2h2.4M528.9 194.3h2.4M616.3 174.9h2.4M644.2 190.6h2.4M609.1 166.1h2.4M584 192.7h2.4M661.8 180.2h2.4M620.7 180.1h2.4M658.9 188.3h2.4M677.2 161.7h2.4M640.5 170.7h2.4M669.4 166.2h2.4M488.6 233.7h2.4M558.3 211.9h2.4M577 163.2h2.4M542.1 205.3h2.4M559.8 197.2h2.4M652.3 177.9h2.4M556.1 203.8h2.4M530.8 220h2.4M459 227.6h2.4M513.4 225.3h2.4M583.3 208.4h2.4M569 205.2h2.4M666.1 161h2.4M675.7 170.6h2.4M551 218.6h2.4M601 176.5h2.4M701.5 149.1h2.4M536.3 237h2.4M476.9 235h2.4M523 199.4h2.4M694.9 153.5h2.4M520.6 216.4h2.4M546.1 192h2.4M686 161h2.4M504.1 241.5h2.4" stroke="#d42424" stroke-width="1.4" fill="none"/>
<path d="M456.7 29.1h3M458.2 27.6v3M456.8 74.1h3M458.3 72.6v3M517.2 88.2h3M518.7 86.7v3M495.8 92.1h3M497.3 90.6v3M532.3 89.7h3M533.8 88.2v3M461.8 106.4h3M463.3 104.9v3M457 102.2h3M458.5 100.7v3M466.6 105.2h3M468.1 103.7v3M467.2 86.5h3M468.7 85v3M442.9 101.2h3M444.4 99.7v3M482.6 115.2h3M484.1 113.7v3M539.7 112.5h3M541.2 111v3M456.9 121.4h3M458.4 119.9v3M486.6 109.6h3M488.1 108.1v3M539.6 121.6h3M541.1 120.1v3M497.4 118.5h3M498.9 117v3M551 122.5h3M552.5 121v3M520.4 139.9h3M521.9 138.4v3M498.8 133.5h3M500.3 132v3M521 140.9h3M522.5 139.4v3M478.5 100.1h3M480 98.6v3M497.7 111.2h3M499.2 109.7v3M420.1 133.8h3M421.6 132.3v3M473.7 115.2h3M475.2 113.7v3M474 119.7h3M475.5 118.2v3M525.6 137.8h3M527.1 136.3v3M482.5 117.8h3M484 116.3v3M488.9 111.2h3M490.4 109.7v3M448.8 106.3h3M450.3 104.8v3M483.9 111.3h3M485.4 109.8v3M513.4 125.4h3M514.9 123.9v3M496.1 127.9h3M497.6 126.4v3M506.8 166.8h3M508.3 165.3v3M537.3 163.9h3M538.8 162.4v3M502.8 126.7h3M504.3 125.2v3M472 152.4h3M473.5 150.9v3M522.8 195.8h3M524.3 194.3v3M518.5 124.5h3M520 123v3M472.8 123.6h3M474.3 122.1v3M449.1 142.5h3M450.6 141v3M525 211.5h3M526.5 210v3M476.4 150.6h3M477.9 149.1v3M454.6 166.1h3M456.1 164.6v3M530.4 214.1h3M531.9 212.6v3M501.6 142.7h3M503.1 141.2v3" stroke="#2a64c8" stroke-width="1.25" fill="none"/>
<path d="M550.4 29.1h2.8M551.8 27.7v2.8M665.6 62.2h2.8M667 60.8v2.8M655.1 72.1h2.8M656.5 70.7v2.8M665.1 74.2h2.8M666.5 72.8v2.8M650.5 73.3h2.8M651.9 71.9v2.8M667.5 86.4h2.8M668.9 85v2.8M649.4 87.6h2.8M650.8 86.2v2.8M655.9 87.9h2.8M657.3 86.5v2.8M563.3 89.7h2.8M564.7 88.3v2.8M623.2 93.7h2.8M624.6 92.3v2.8M670.5 90.9h2.8M671.9 89.5v2.8M654.3 89.1h2.8M655.7 87.7v2.8M681.7 94.3h2.8M683.1 92.9v2.8M638.4 94.2h2.8M639.8 92.8v2.8M671.8 91.3h2.8M673.2 89.9v2.8M663.9 94h2.8M665.3 92.6v2.8M660.2 94.2h2.8M661.6 92.8v2.8M700.3 96.6h2.8M701.7 95.2v2.8M681 99.9h2.8M682.4 98.5v2.8M692.5 99.6h2.8M693.9 98.2v2.8M557 104.5h2.8M558.4 103.1v2.8M605.8 102.7h2.8M607.2 101.3v2.8M679.6 107.3h2.8M681 105.9v2.8M610.8 107.1h2.8M612.2 105.7v2.8M626.5 106.9h2.8M627.9 105.5v2.8M673 103.3h2.8M674.4 101.9v2.8M616.4 107.2h2.8M617.8 105.8v2.8M587.6 107.8h2.8M589 106.4v2.8M556.6 114h2.8M558 112.6v2.8M575.7 111.3h2.8M577.1 109.9v2.8M616.6 111.2h2.8M618 109.8v2.8M617.5 114.7h2.8M618.9 113.3v2.8M699 115.3h2.8M700.4 113.9v2.8M687.2 115.2h2.8M688.6 113.8v2.8M594.9 119.4h2.8M596.3 118v2.8M664.8 121.7h2.8M666.2 120.3v2.8M721.3 121.9h2.8M722.7 120.5v2.8M566.5 123.7h2.8M567.9 122.3v2.8M552.1 131.6h2.8M553.5 130.2v2.8M614.2 133.9h2.8M615.6 132.5v2.8M713.7 134.5h2.8M715.1 133.1v2.8M590 146.9h2.8M591.4 145.5v2.8M630.4 148.6h2.8M631.8 147.2v2.8M701.8 141.6h2.8M703.2 140.2v2.8M551.7 148.8h2.8M553.1 147.4v2.8" stroke="#1b6848" stroke-width="1.1" fill="none"/>
<g opacity="0.6"><path d="M592.8 87.9L593 162M631.8 90.1L631.3 165.7M605.6 98.9L605.6 161.7M611 101.9L610.9 162.1M628.1 101.9L627.8 162.1M650.9 102.6L650.2 174.1M646.5 108.5L646.2 143.9M618.8 113.3L618.7 152.9M616.6 113.6L616.4 178.2M655.3 116.6L654.8 160M532.4 120.3L533.5 191.7M567.3 120.7L568.1 218.1M523.2 124.9L524.5 194.8M529.7 137.2L531.1 219.3M519.9 139.1L521.8 240.3M534.7 118.3L536 199.4M691.9 106.5L690.9 158M495.5 111.3L497.9 209.6M516.4 166.1L517.7 231.9M508.5 120L510.5 209.8M613.9 162.4L613.9 199.9M599.6 135L599.7 191.2M614.5 115.4L614.4 175.6M623.6 118.3L623.5 147.1M577.8 117.8L578.1 167.8M602 122.7L602 158.1M624.1 107.9L623.9 156M567.3 124.8L567.7 172.7M600.6 137L600.7 169.6M611.4 130.7L611.3 168.7M583.9 129.2L584.1 166.7M590.9 113.7L591.1 160.7M624.2 126.1L624.1 145.8M550.9 106.4L551.7 177.5M617.9 123.5L617.8 162.7M606.1 118.9L606.1 168.1M555.7 113.6L556.4 175.4M572.3 129.3L572.6 175.6M595.2 145.8L595.2 160.7M633.6 133.4L633.5 147.9M613.5 106.7L613.5 152.5M568.4 125L568.7 167.3M619.3 118.6L619.1 163.1M586 163L586 166.4M599 164L599 167.4M552.8 150.9L553.1 178.2M596.4 122.4L596.5 173.6M562.7 150.8L563 176.8M619.5 172.2L619.5 186M594.6 150L594.7 181.1M562.1 147.5L562.7 210.9M580.2 126.4L580.7 202.2M611.8 137.1L611.8 179.5M601 124.1L601.1 178.9M617.2 142.3L617 185.9M613.1 149.3L613.1 170M581.7 151.6L581.9 192.9M563.9 119.3L564.6 202.5M593.4 163.4L593.5 197.7M637.8 158.7L637.7 172.5M633.2 180.4L633.1 199.2M615.6 147.9L615.5 190.5M621.2 166.7L621.1 191.2M567.6 190.4L567.8 214.9M575.9 166.6L576.2 216.9M608.4 181L608.4 209.1M608.3 144.9L608.3 201.6M624.1 136.5L623.9 188.3M590.9 151L591 208.6M577.5 160.2L577.8 217.9" stroke="#f0a0a0" stroke-width="3" stroke-opacity="0.55" fill="none"/><path d="M592.8 87.9L593 162M631.8 90.1L631.3 165.7M605.6 98.9L605.6 161.7M611 101.9L610.9 162.1M628.1 101.9L627.8 162.1M650.9 102.6L650.2 174.1M646.5 108.5L646.2 143.9M618.8 113.3L618.7 152.9M616.6 113.6L616.4 178.2M655.3 116.6L654.8 160M532.4 120.3L533.5 191.7M567.3 120.7L568.1 218.1M523.2 124.9L524.5 194.8M529.7 137.2L531.1 219.3M519.9 139.1L521.8 240.3M534.7 118.3L536 199.4M691.9 106.5L690.9 158M495.5 111.3L497.9 209.6M516.4 166.1L517.7 231.9M508.5 120L510.5 209.8M613.9 162.4L613.9 199.9M599.6 135L599.7 191.2M614.5 115.4L614.4 175.6M623.6 118.3L623.5 147.1M577.8 117.8L578.1 167.8M602 122.7L602 158.1M624.1 107.9L623.9 156M567.3 124.8L567.7 172.7M600.6 137L600.7 169.6M611.4 130.7L611.3 168.7M583.9 129.2L584.1 166.7M590.9 113.7L591.1 160.7M624.2 126.1L624.1 145.8M550.9 106.4L551.7 177.5M617.9 123.5L617.8 162.7M606.1 118.9L606.1 168.1M555.7 113.6L556.4 175.4M572.3 129.3L572.6 175.6M595.2 145.8L595.2 160.7M633.6 133.4L633.5 147.9M613.5 106.7L613.5 152.5M568.4 125L568.7 167.3M619.3 118.6L619.1 163.1M586 163L586 166.4M599 164L599 167.4M552.8 150.9L553.1 178.2M596.4 122.4L596.5 173.6M562.7 150.8L563 176.8M619.5 172.2L619.5 186M594.6 150L594.7 181.1M562.1 147.5L562.7 210.9M580.2 126.4L580.7 202.2M611.8 137.1L611.8 179.5M601 124.1L601.1 178.9M617.2 142.3L617 185.9M613.1 149.3L613.1 170M581.7 151.6L581.9 192.9M563.9 119.3L564.6 202.5M593.4 163.4L593.5 197.7M637.8 158.7L637.7 172.5M633.2 180.4L633.1 199.2M615.6 147.9L615.5 190.5M621.2 166.7L621.1 191.2M567.6 190.4L567.8 214.9M575.9 166.6L576.2 216.9M608.4 181L608.4 209.1M608.3 144.9L608.3 201.6M624.1 136.5L623.9 188.3M590.9 151L591 208.6M577.5 160.2L577.8 217.9" stroke="#d42424" stroke-width="1.3" fill="none"/><path d="M591 88.9h3.6M630 91.1h3.6M603.8 99.9h3.6M609.2 102.9h3.6M626.3 102.9h3.6M649.1 103.6h3.6M644.7 109.5h3.6M617 114.3h3.6M614.8 114.6h3.6M653.5 117.6h3.6M530.6 121.3h3.6M565.5 121.7h3.6M521.4 125.9h3.6M527.9 138.2h3.6M518.1 140.1h3.6M532.9 119.3h3.6M690.1 107.5h3.6M493.7 112.3h3.6M514.6 167.1h3.6M506.7 121h3.6M612.1 163.4h3.6M597.8 136h3.6M612.7 116.4h3.6M621.8 119.3h3.6M576 118.8h3.6M600.2 123.7h3.6M622.3 108.9h3.6M565.5 125.8h3.6M598.8 138h3.6M609.6 131.7h3.6M582.1 130.2h3.6M589.1 114.7h3.6M622.4 127.1h3.6M549.1 107.4h3.6M616.1 124.5h3.6M604.3 119.9h3.6M553.9 114.6h3.6M570.5 130.3h3.6M593.4 146.8h3.6M631.8 134.4h3.6M611.7 107.7h3.6M566.6 126h3.6M617.5 119.6h3.6M584.2 164h3.6M597.2 165h3.6M551 151.9h3.6M594.6 123.4h3.6M560.9 151.8h3.6M617.7 173.2h3.6M592.8 151h3.6M560.3 148.5h3.6M578.4 127.4h3.6M610 138.1h3.6M599.2 125.1h3.6M615.4 143.3h3.6M611.3 150.3h3.6M579.9 152.6h3.6M562.1 120.3h3.6M591.6 164.4h3.6M636 159.7h3.6M631.4 181.4h3.6M613.8 148.9h3.6M619.4 167.7h3.6M565.8 191.4h3.6M574.1 167.6h3.6M606.6 182h3.6M606.5 145.9h3.6M622.3 137.5h3.6M589.1 152h3.6M575.7 161.2h3.6M591.8 162h2.4M630.1 165.7h2.4M604.4 161.7h2.4M609.7 162.1h2.4M626.6 162.1h2.4M649 174.1h2.4M645 143.9h2.4M617.5 152.9h2.4M615.2 178.2h2.4M653.6 160h2.4M532.3 191.7h2.4M566.9 218.1h2.4M523.3 194.8h2.4M529.9 219.3h2.4M520.6 240.3h2.4M534.8 199.4h2.4M689.7 158h2.4M496.7 209.6h2.4M516.5 231.9h2.4M509.3 209.8h2.4M612.7 199.9h2.4M598.5 191.2h2.4M613.2 175.6h2.4M622.3 147.1h2.4M576.9 167.8h2.4M600.8 158.1h2.4M622.7 156h2.4M566.5 172.7h2.4M599.5 169.6h2.4M610.1 168.7h2.4M582.9 166.7h2.4M589.9 160.7h2.4M622.9 145.8h2.4M550.5 177.5h2.4M616.6 162.7h2.4M604.9 168.1h2.4M555.2 175.4h2.4M571.4 175.6h2.4M594 160.7h2.4M632.3 147.9h2.4M612.3 152.5h2.4M567.5 167.3h2.4M617.9 163.1h2.4M584.8 166.4h2.4M597.8 167.4h2.4M551.9 178.2h2.4M595.3 173.6h2.4M561.8 176.8h2.4M618.3 186h2.4M593.5 181.1h2.4M561.5 210.9h2.4M579.5 202.2h2.4M610.6 179.5h2.4M599.9 178.9h2.4M615.8 185.9h2.4M611.9 170h2.4M580.7 192.9h2.4M563.4 202.5h2.4M592.3 197.7h2.4M636.5 172.5h2.4M631.9 199.2h2.4M614.3 190.5h2.4M619.9 191.2h2.4M566.6 214.9h2.4M575 216.9h2.4M607.2 209.1h2.4M607.1 201.6h2.4M622.7 188.3h2.4M589.8 208.6h2.4M576.6 217.9h2.4" stroke="#d42424" stroke-width="1.4" fill="none"/><path d="M430.6 118.4h3M432.1 116.9v3M477.2 124h3M478.7 122.5v3M442.6 136.1h3M444.1 134.6v3M448.9 141h3M450.4 139.5v3M466.1 143.2h3M467.6 141.7v3M514.7 140.4h3M516.2 138.9v3M442.2 168.7h3M443.7 167.2v3M435.7 165.3h3M437.2 163.8v3M489 149.5h3M490.5 148v3M490.8 171.3h3M492.3 169.8v3M442 141.8h3M443.5 140.3v3M515.1 134.2h3M516.6 132.7v3M440.8 144.9h3M442.3 143.4v3M488 148.5h3M489.5 147v3M511.8 141h3M513.3 139.5v3M458.2 136.2h3M459.7 134.7v3M527.7 162.6h3M529.2 161.1v3M446.4 120.9h3M447.9 119.4v3M497.6 172.1h3M499.1 170.6v3M456.4 131.5h3M457.9 130v3M526.8 199.7h3M528.3 198.2v3M498.3 168.4h3M499.8 166.9v3M482 153.3h3M483.5 151.8v3M426.5 178.3h3M428 176.8v3M431.3 156.4h3M432.8 154.9v3M432.1 173.2h3M433.6 171.7v3M448.2 155.6h3M449.7 154.1v3M433 161.6h3M434.5 160.1v3M457.3 185.5h3M458.8 184v3M465.4 178.9h3M466.9 177.4v3M434.9 173.9h3M436.4 172.4v3M427.1 156.5h3M428.6 155v3M424.3 192h3M425.8 190.5v3M428.3 132.7h3M429.8 131.2v3M458.3 173.7h3M459.8 172.2v3M458.5 161.6h3M460 160.1v3M428.4 143.6h3M429.9 142.1v3M443.7 166.7h3M445.2 165.2v3M432.9 204h3M434.4 202.5v3M440 203.9h3M441.5 202.4v3M429 154.3h3M430.5 152.8v3M422.3 165.3h3M423.8 163.8v3M460.4 166.3h3M461.9 164.8v3M438 222h3M439.5 220.5v3M452.4 225.1h3M453.9 223.6v3M433.1 190.6h3M434.6 189.1v3M461.1 161.8h3M462.6 160.3v3M438.8 192.9h3M440.3 191.4v3M508.5 224.2h3M510 222.7v3M475.6 193.9h3M477.1 192.4v3M500.1 167.7h3M501.6 166.2v3M500.2 149.3h3M501.7 147.8v3M487.8 180.5h3M489.3 179v3M476.3 161.5h3M477.8 160v3M505.1 183.8h3M506.6 182.3v3M470.5 204.9h3M472 203.4v3M486 185.9h3M487.5 184.4v3M487 138.9h3M488.5 137.4v3M505 199.3h3M506.5 197.8v3M500.5 221h3M502 219.5v3M543.7 226.5h3M545.2 225v3M512 188h3M513.5 186.5v3M519 213h3M520.5 211.5v3M511.6 215.3h3M513.1 213.8v3M520.9 188.1h3M522.4 186.6v3M536.7 215.1h3M538.2 213.6v3M524 175.9h3M525.5 174.4v3M515.8 175.6h3M517.3 174.1v3M520.2 176.8h3M521.7 175.3v3M523.6 180.4h3M525.1 178.9v3" stroke="#2a64c8" stroke-width="1.25" fill="none"/><path d="M684.5 93.2h2.8M685.9 91.8v2.8M686.4 93.3h2.8M687.8 91.9v2.8M687.2 104.5h2.8M688.6 103.1v2.8M687.6 107.3h2.8M689 105.9v2.8M690.6 106.3h2.8M692 104.9v2.8M677.7 104.5h2.8M679.1 103.1v2.8M720.3 114h2.8M721.7 112.6v2.8M702.3 120.1h2.8M703.7 118.7v2.8M665.2 117.6h2.8M666.6 116.2v2.8M698.2 120.1h2.8M699.6 118.7v2.8M627.7 129.4h2.8M629.1 128v2.8M599.5 123.8h2.8M600.9 122.4v2.8M620.9 134.8h2.8M622.3 133.4v2.8M588.5 143.9h2.8M589.9 142.5v2.8M558 143.6h2.8M559.4 142.2v2.8M617.2 126h2.8M618.6 124.6v2.8M707.2 107.7h2.8M708.6 106.3v2.8M592.9 120.1h2.8M594.3 118.7v2.8M568.2 173.8h2.8M569.6 172.4v2.8M596 128.5h2.8M597.4 127.1v2.8M634.3 165.2h2.8M635.7 163.8v2.8M643.4 139.6h2.8M644.8 138.2v2.8M668.4 120h2.8M669.8 118.6v2.8M711.6 125.9h2.8M713 124.5v2.8M672.5 126.2h2.8M673.9 124.8v2.8M691.3 130.9h2.8M692.7 129.5v2.8M698.8 113.6h2.8M700.2 112.2v2.8M663 134.1h2.8M664.4 132.7v2.8M674 144.8h2.8M675.4 143.4v2.8M677.5 137.2h2.8M678.9 135.8v2.8M675.1 138.3h2.8M676.5 136.9v2.8M685.6 121.6h2.8M687 120.2v2.8M713.5 134.4h2.8M714.9 133v2.8M652.7 114.5h2.8M654.1 113.1v2.8M687.5 129.9h2.8M688.9 128.5v2.8M677.5 125.2h2.8M678.9 123.8v2.8M656.7 122.3h2.8M658.1 120.9v2.8M659.7 138.2h2.8M661.1 136.8v2.8M685.8 156.1h2.8M687.2 154.7v2.8M711.7 141.2h2.8M713.1 139.8v2.8M702.1 113.3h2.8M703.5 111.9v2.8M671.1 135h2.8M672.5 133.6v2.8M687.2 124.5h2.8M688.6 123.1v2.8M675.3 174.9h2.8M676.7 173.5v2.8M676.3 174.3h2.8M677.7 172.9v2.8M651.5 163.2h2.8M652.9 161.8v2.8M667.7 129h2.8M669.1 127.6v2.8M655.6 162.3h2.8M657 160.9v2.8M654.2 177.1h2.8M655.6 175.7v2.8M656.2 157.3h2.8M657.6 155.9v2.8M607.8 153h2.8M609.2 151.6v2.8M624.1 130.7h2.8M625.5 129.3v2.8M662.2 142.4h2.8M663.6 141v2.8M660.9 129.7h2.8M662.3 128.3v2.8M654.2 146.4h2.8M655.6 145v2.8M675.7 156.7h2.8M677.1 155.3v2.8M637 158.4h2.8M638.4 157v2.8M619.9 124.5h2.8M621.3 123.1v2.8M632.8 168.7h2.8M634.2 167.3v2.8M676.6 163.6h2.8M678 162.2v2.8M639.3 181.5h2.8M640.7 180.1v2.8M647.5 151.7h2.8M648.9 150.3v2.8M647.5 170.3h2.8M648.9 168.9v2.8M603.7 196.4h2.8M605.1 195v2.8M603.2 170.5h2.8M604.6 169.1v2.8M620.9 183h2.8M622.3 181.6v2.8M631.1 147.6h2.8M632.5 146.2v2.8M652.4 139.5h2.8M653.8 138.1v2.8M617.7 154.4h2.8M619.1 153v2.8M602.2 163.6h2.8M603.6 162.2v2.8" stroke="#1b6848" stroke-width="1.1" fill="none"/></g>
<g opacity="0.6"><path d="M592.8 87.9L593.1 184.4M631.8 90.1L631.4 150.4M605.6 98.9L605.6 158.7M611 101.9L610.9 178.5M628.1 101.9L627.8 168.3M650.9 102.6L650.2 170.7M646.5 108.5L646.1 148.9M618.8 113.3L618.6 185.5M616.6 113.6L616.5 166.4M655.3 116.6L654.9 156.1M532.4 120.3L533.6 194M567.3 120.7L568.2 227.9M523.2 124.9L525.2 236.4M529.7 137.2L530.5 186M519.9 139.1L521.1 200.7M534.5 100.2L536 199.4M691.3 135.6L690.9 158M495.6 114.5L497.9 209.6M516.6 173.5L517.7 231.9M509.3 154.4L510.5 209.8M613.9 191.6L613.9 199.9M599.6 141L599.7 191.2M614.5 121.5L614.4 175.6M582.4 152.6L582.5 166.9M594 120.6L594.1 169.5M589.8 106.6L590 164.3M583 114.3L583.3 180.1M636.5 112.9L636.2 152.4M573.7 134.9L574 176.8M562.4 116.3L562.9 177.5M570.9 138.8L571.1 174.6M563.6 141.6L563.9 170.7M610.5 108.9L610.4 152.9M604.9 128L604.9 154.1M607.6 112.8L607.6 155.4M557.4 128.8L557.9 171.9M556.3 117.9L556.9 172.3M622.7 110.6L622.5 147.5M568.1 134.8L568.4 182M630.7 126.1L630.6 146M568.4 125.3L568.8 167.7M584.5 156.8L584.6 172.7M642.6 105.1L642.2 154.3M637.4 119.7L637.1 157.6M601.6 111.2L601.7 162M552.2 159.4L552.4 177M659.6 109.5L659.1 148.7M604 147.6L604 171.5M604.8 142.3L604.8 193.6M632.7 141L632.5 177.3M633.5 140.2L633.3 179.5M615.3 128.6L615.2 173.4M611.9 117.7L611.8 190.1M599.4 126.2L599.5 196.3M613.9 127.6L613.8 184.2M584.9 162.5L585 188.6M579.5 152.6L579.8 202.6M591.8 109.1L592 196.6M555.1 126.7L556 208.7M589 179.3L589.1 197.5M568.6 199.9L568.8 228.2M572.9 137.9L573.4 212.8M604.6 212.6L604.6 220.9M586.4 201.8L586.4 222.5M650.6 155.6L650.3 186.6M608.8 150.4L608.8 200.2M611.2 176.6L611.1 202.5M581.6 192.9L581.8 231.7M619.3 158.7L619.2 191M644.7 161.8L644.4 187.6" stroke="#f0a0a0" stroke-width="3" stroke-opacity="0.55" fill="none"/><path d="M592.8 87.9L593.1 184.4M631.8 90.1L631.4 150.4M605.6 98.9L605.6 158.7M611 101.9L610.9 178.5M628.1 101.9L627.8 168.3M650.9 102.6L650.2 170.7M646.5 108.5L646.1 148.9M618.8 113.3L618.6 185.5M616.6 113.6L616.5 166.4M655.3 116.6L654.9 156.1M532.4 120.3L533.6 194M567.3 120.7L568.2 227.9M523.2 124.9L525.2 236.4M529.7 137.2L530.5 186M519.9 139.1L521.1 200.7M534.5 100.2L536 199.4M691.3 135.6L690.9 158M495.6 114.5L497.9 209.6M516.6 173.5L517.7 231.9M509.3 154.4L510.5 209.8M613.9 191.6L613.9 199.9M599.6 141L599.7 191.2M614.5 121.5L614.4 175.6M582.4 152.6L582.5 166.9M594 120.6L594.1 169.5M589.8 106.6L590 164.3M583 114.3L583.3 180.1M636.5 112.9L636.2 152.4M573.7 134.9L574 176.8M562.4 116.3L562.9 177.5M570.9 138.8L571.1 174.6M563.6 141.6L563.9 170.7M610.5 108.9L610.4 152.9M604.9 128L604.9 154.1M607.6 112.8L607.6 155.4M557.4 128.8L557.9 171.9M556.3 117.9L556.9 172.3M622.7 110.6L622.5 147.5M568.1 134.8L568.4 182M630.7 126.1L630.6 146M568.4 125.3L568.8 167.7M584.5 156.8L584.6 172.7M642.6 105.1L642.2 154.3M637.4 119.7L637.1 157.6M601.6 111.2L601.7 162M552.2 159.4L552.4 177M659.6 109.5L659.1 148.7M604 147.6L604 171.5M604.8 142.3L604.8 193.6M632.7 141L632.5 177.3M633.5 140.2L633.3 179.5M615.3 128.6L615.2 173.4M611.9 117.7L611.8 190.1M599.4 126.2L599.5 196.3M613.9 127.6L613.8 184.2M584.9 162.5L585 188.6M579.5 152.6L579.8 202.6M591.8 109.1L592 196.6M555.1 126.7L556 208.7M589 179.3L589.1 197.5M568.6 199.9L568.8 228.2M572.9 137.9L573.4 212.8M604.6 212.6L604.6 220.9M586.4 201.8L586.4 222.5M650.6 155.6L650.3 186.6M608.8 150.4L608.8 200.2M611.2 176.6L611.1 202.5M581.6 192.9L581.8 231.7M619.3 158.7L619.2 191M644.7 161.8L644.4 187.6" stroke="#d42424" stroke-width="1.3" fill="none"/><path d="M591 88.9h3.6M630 91.1h3.6M603.8 99.9h3.6M609.2 102.9h3.6M626.3 102.9h3.6M649.1 103.6h3.6M644.7 109.5h3.6M617 114.3h3.6M614.8 114.6h3.6M653.5 117.6h3.6M530.6 121.3h3.6M565.5 121.7h3.6M521.4 125.9h3.6M527.9 138.2h3.6M518.1 140.1h3.6M532.7 101.2h3.6M689.5 136.6h3.6M493.8 115.5h3.6M514.8 174.5h3.6M507.5 155.4h3.6M612.1 192.6h3.6M597.8 142h3.6M612.7 122.5h3.6M580.6 153.6h3.6M592.2 121.6h3.6M588 107.6h3.6M581.2 115.3h3.6M634.7 113.9h3.6M571.9 135.9h3.6M560.6 117.3h3.6M569.1 139.8h3.6M561.8 142.6h3.6M608.7 109.9h3.6M603.1 129h3.6M605.8 113.8h3.6M555.6 129.8h3.6M554.5 118.9h3.6M620.9 111.6h3.6M566.3 135.8h3.6M628.9 127.1h3.6M566.6 126.3h3.6M582.7 157.8h3.6M640.8 106.1h3.6M635.6 120.7h3.6M599.8 112.2h3.6M550.4 160.4h3.6M657.8 110.5h3.6M602.2 148.6h3.6M603 143.3h3.6M630.9 142h3.6M631.7 141.2h3.6M613.5 129.6h3.6M610.1 118.7h3.6M597.6 127.2h3.6M612.1 128.6h3.6M583.1 163.5h3.6M577.7 153.6h3.6M590 110.1h3.6M553.3 127.7h3.6M587.2 180.3h3.6M566.8 200.9h3.6M571.1 138.9h3.6M602.8 213.6h3.6M584.6 202.8h3.6M648.8 156.6h3.6M607 151.4h3.6M609.4 177.6h3.6M579.8 193.9h3.6M617.5 159.7h3.6M642.9 162.8h3.6M591.9 184.4h2.4M630.2 150.4h2.4M604.4 158.7h2.4M609.7 178.5h2.4M626.6 168.3h2.4M649 170.7h2.4M644.9 148.9h2.4M617.4 185.5h2.4M615.3 166.4h2.4M653.7 156.1h2.4M532.4 194h2.4M567 227.9h2.4M524 236.4h2.4M529.3 186h2.4M519.9 200.7h2.4M534.8 199.4h2.4M689.7 158h2.4M496.7 209.6h2.4M516.5 231.9h2.4M509.3 209.8h2.4M612.7 199.9h2.4M598.5 191.2h2.4M613.2 175.6h2.4M581.3 166.9h2.4M592.9 169.5h2.4M588.8 164.3h2.4M582.1 180.1h2.4M635 152.4h2.4M572.8 176.8h2.4M561.7 177.5h2.4M569.9 174.6h2.4M562.7 170.7h2.4M609.2 152.9h2.4M603.7 154.1h2.4M606.4 155.4h2.4M556.7 171.9h2.4M555.7 172.3h2.4M621.3 147.5h2.4M567.2 182h2.4M629.4 146h2.4M567.6 167.7h2.4M583.4 172.7h2.4M641 154.3h2.4M635.9 157.6h2.4M600.5 162h2.4M551.2 177h2.4M657.9 148.7h2.4M602.8 171.5h2.4M603.6 193.6h2.4M631.3 177.3h2.4M632.1 179.5h2.4M614 173.4h2.4M610.6 190.1h2.4M598.3 196.3h2.4M612.6 184.2h2.4M583.8 188.6h2.4M578.6 202.6h2.4M590.8 196.6h2.4M554.8 208.7h2.4M587.9 197.5h2.4M567.6 228.2h2.4M572.2 212.8h2.4M603.4 220.9h2.4M585.2 222.5h2.4M649.1 186.6h2.4M607.6 200.2h2.4M609.9 202.5h2.4M580.6 231.7h2.4M618 191h2.4M643.2 187.6h2.4" stroke="#d42424" stroke-width="1.4" fill="none"/><path d="M478.1 109.4h3M479.6 107.9v3M441.6 131.9h3M443.1 130.4v3M435.7 137.7h3M437.2 136.2v3M483.9 132.5h3M485.4 131v3M479.6 139.7h3M481.1 138.2v3M508 142.3h3M509.5 140.8v3M454.9 165h3M456.4 163.5v3M504.9 145.4h3M506.4 143.9v3M464.8 156.4h3M466.3 154.9v3M482.2 174.2h3M483.7 172.7v3M446.5 140.7h3M448 139.2v3M529.6 130.3h3M531.1 128.8v3M508.6 128.1h3M510.1 126.6v3M429.4 165.1h3M430.9 163.6v3M449.5 158.4h3M451 156.9v3M457.5 114.8h3M459 113.3v3M528.5 210.5h3M530 209v3M446.5 124.5h3M448 123v3M497.8 179.7h3M499.3 178.2v3M457.6 170h3M459.1 168.5v3M527.4 236.4h3M528.9 234.9v3M498.5 176.1h3M500 174.6v3M482.2 161.7h3M483.7 160.2v3M435.2 206.4h3M436.7 204.9v3M450.1 161.5h3M451.6 160v3M434.1 143.9h3M435.6 142.4v3M461.8 145.4h3M463.3 143.9v3M452.9 167.9h3M454.4 166.4v3M447.7 173.6h3M449.2 172.1v3M438.4 147h3M439.9 145.5v3M440.9 179.7h3M442.4 178.2v3M426.4 185h3M427.9 183.5v3M427.2 157h3M428.7 155.5v3M425.8 184.7h3M427.3 183.2v3M430.5 161h3M432 159.5v3M422.9 166.1h3M424.4 164.6v3M422.3 151.1h3M423.8 149.6v3M426 165.4h3M427.5 163.9v3M453.3 169.3h3M454.8 167.8v3M431.7 193.2h3M433.2 191.7v3M423.2 165.4h3M424.7 163.9v3M449.9 207.8h3M451.4 206.3v3M463.5 155.1h3M465 153.6v3M466.5 174.8h3M468 173.3v3M440.2 153.6h3M441.7 152.1v3M430.4 202.3h3M431.9 200.8v3M469 169h3M470.5 167.5v3M465 199.4h3M466.5 197.9v3M507.4 177h3M508.9 175.5v3M504 190.8h3M505.5 189.3v3M509 188.1h3M510.5 186.6v3M478.7 173.4h3M480.2 171.9v3M507 148h3M508.5 146.5v3M506.8 154.3h3M508.3 152.8v3M498.5 164.8h3M500 163.3v3M481.5 203.2h3M483 201.7v3M500.9 180.8h3M502.4 179.3v3M500.1 131.7h3M501.6 130.2v3M490.5 144h3M492 142.5v3M501.1 218.4h3M502.6 216.9v3M531.9 216.9h3M533.4 215.4v3M511.6 156.9h3M513.1 155.4v3M551.1 242.6h3M552.6 241.1v3M538 225.9h3M539.5 224.4v3M539.2 207.1h3M540.7 205.6v3M522.3 183.6h3M523.8 182.1v3M528.8 215.1h3M530.3 213.6v3M546.8 209h3M548.3 207.5v3M516.6 202.4h3M518.1 200.9v3M535.2 213.6h3M536.7 212.1v3" stroke="#2a64c8" stroke-width="1.25" fill="none"/><path d="M651.9 91.4h2.8M653.3 90v2.8M708.8 94.6h2.8M710.2 93.2v2.8M691.6 104.8h2.8M693 103.4v2.8M663.8 105.7h2.8M665.2 104.3v2.8M681.7 105.7h2.8M683.1 104.3v2.8M682.4 104.8h2.8M683.8 103.4v2.8M713 113.5h2.8M714.4 112.1v2.8M655.5 116.3h2.8M656.9 114.9v2.8M682 119h2.8M683.4 117.6v2.8M703.7 120.6h2.8M705.1 119.2v2.8M624.3 129.1h2.8M625.7 127.7v2.8M586.6 122.6h2.8M588 121.2v2.8M563.9 129.1h2.8M565.3 127.7v2.8M635.1 149.1h2.8M636.5 147.7v2.8M611.6 149.8h2.8M613 148.4v2.8M617.3 106.4h2.8M618.7 105v2.8M706.5 137.2h2.8M707.9 135.8v2.8M592.9 123.6h2.8M594.3 122.2v2.8M568.3 181.5h2.8M569.7 180.1v2.8M596.1 166.1h2.8M597.5 164.7v2.8M634.1 195h2.8M635.5 193.6v2.8M643.3 145.9h2.8M644.7 144.5v2.8M668.3 126.3h2.8M669.7 124.9v2.8M674.1 163.9h2.8M675.5 162.5v2.8M673.1 127.8h2.8M674.5 126.4v2.8M680.1 113.5h2.8M681.5 112.1v2.8M655.7 120.5h2.8M657.1 119.1v2.8M706 118.5h2.8M707.4 117.1v2.8M658.1 143.9h2.8M659.5 142.5v2.8M655.1 124.5h2.8M656.5 123.1v2.8M660.7 148.7h2.8M662.1 147.3v2.8M664.8 153.1h2.8M666.2 151.7v2.8M700.9 115.8h2.8M702.3 114.4v2.8M697.6 137h2.8M699 135.6v2.8M696.6 120h2.8M698 118.6v2.8M662 139.4h2.8M663.4 138v2.8M661.4 127.4h2.8M662.8 126v2.8M711.1 117.5h2.8M712.5 116.1v2.8M649.5 143.5h2.8M650.9 142.1v2.8M714.2 133.8h2.8M715.6 132.4v2.8M670.5 135.2h2.8M671.9 133.8v2.8M665.9 167.2h2.8M667.3 165.8v2.8M704.5 109.6h2.8M705.9 108.2v2.8M698.5 125h2.8M699.9 123.6v2.8M685.7 118h2.8M687.1 116.6v2.8M653 172.9h2.8M654.4 171.5v2.8M715.3 113.7h2.8M716.7 112.3v2.8M671.7 155.4h2.8M673.1 154v2.8M641.1 146.4h2.8M642.5 145v2.8M669.2 145h2.8M670.6 143.6v2.8M666.3 143.7h2.8M667.7 142.3v2.8M671.5 134.1h2.8M672.9 132.7v2.8M647.7 120.8h2.8M649.1 119.4v2.8M636.4 129.8h2.8M637.8 128.4v2.8M656.1 131.6h2.8M657.5 130.2v2.8M643.4 170.3h2.8M644.8 168.9v2.8M623.2 158.1h2.8M624.6 156.7v2.8M634.5 112.5h2.8M635.9 111.1v2.8M609.2 132.2h2.8M610.6 130.8v2.8M632.1 185.8h2.8M633.5 184.4v2.8M586.7 203.2h2.8M588.1 201.8v2.8M608 141.8h2.8M609.4 140.4v2.8M604.8 212.9h2.8M606.2 211.5v2.8M598.4 204h2.8M599.8 202.6v2.8M659.8 156.8h2.8M661.2 155.4v2.8M633 153.3h2.8M634.4 151.9v2.8M630.2 179.5h2.8M631.6 178.1v2.8M585.5 193.7h2.8M586.9 192.3v2.8M647.6 162.4h2.8M649 161v2.8M657.2 163.5h2.8M658.6 162.1v2.8" stroke="#1b6848" stroke-width="1.1" fill="none"/></g>
<polyline points="554.4,247.4 551.8,242.2 549.3,237.2 546.7,232.3 544.2,227.6 541.7,222.9 539.2,218.4 536.7,214.1 534.2,209.8 531.7,205.7 529.2,201.7 526.7,197.8 524.3,194.1 521.8,190.5 519.4,187 517,183.6 514.6,180.3 512.2,177.2 509.8,174.2 507.4,171.3 505,168.6 502.7,165.9 500.3,163.4 498,161 495.7,158.7 493.4,156.6 491.1,154.6 488.8,152.6 486.5,150.8 484.2,149.1 482,147.6 479.8,146.1 477.5,144.8 475.3,143.6 473.1,142.4 471,141.4 468.8,140.6 466.6,139.8 464.5,139.1 462.3,138.6 460.2,138.1 458.1,137.8 456,137.6 453.9,137.5 451.9,137.4 449.8,137.5 447.8,137.7 445.8,138 443.7,138.5 441.7,139 439.8,139.6 437.8,140.3 435.8,141.1 433.9,142 432,143 430,144.2 428.1,145.4 426.3,146.7 424.4,148.1 422.5,149.6" fill="none" stroke="#2472e0" stroke-width="2.3" stroke-linecap="round"/>
<polyline points="552.2,137.4 559.8,136.8 567.1,136.1 574.1,135.4 580.8,134.8 587.3,134.1 593.5,133.5 599.6,132.8 605.4,132.2 611,131.6 616.4,130.9 621.6,130.3 626.7,129.7 631.6,129.1 636.3,128.5 640.9,127.9 645.3,127.3 649.7,126.7 653.8,126.1 657.9,125.5 661.8,124.9 665.7,124.3 669.4,123.7 673,123.1 676.5,122.5 679.9,122 683.3,121.4 686.5,120.8 689.7,120.2 692.8,119.7 695.8,119.1 698.7,118.5 701.5,118 704.3,117.4 707,116.8 709.7,116.3 712.3,115.7 714.8,115.2 717.3,114.6 719.7,114" fill="none" stroke="#1a6e4e" stroke-width="2.2" stroke-linecap="round"/>
<text x="579.6" y="270.9" text-anchor="middle" font-family="Liberation Serif" font-weight="bold" font-size="15.7">(2) February</text>
<rect x="7.2" y="293.4" width="342" height="253.1" fill="#ECE9D8"/>
<line x1="162.4" y1="543.9" x2="159.2" y2="318.1" stroke="#86857d" stroke-width="1"/>
<line x1="133.7" y1="537.4" x2="129.2" y2="318.2" stroke="#86857d" stroke-width="1"/>
<line x1="106.7" y1="531.4" x2="100.9" y2="318.3" stroke="#86857d" stroke-width="1"/>
<line x1="81.1" y1="525.6" x2="74.3" y2="318.3" stroke="#86857d" stroke-width="1"/>
<line x1="56.8" y1="520.2" x2="49.1" y2="318.4" stroke="#86857d" stroke-width="1"/>
<line x1="33.8" y1="515" x2="25.3" y2="318.4" stroke="#86857d" stroke-width="1"/>
<line x1="162.4" y1="543.9" x2="33.8" y2="515" stroke="#86857d" stroke-width="1"/>
<line x1="161.9" y1="507.8" x2="32.5" y2="483.4" stroke="#86857d" stroke-width="1"/>
<line x1="161.4" y1="471.1" x2="31.1" y2="451.3" stroke="#86857d" stroke-width="1"/>
<line x1="160.9" y1="433.8" x2="29.7" y2="418.8" stroke="#86857d" stroke-width="1"/>
<line x1="160.3" y1="395.9" x2="28.2" y2="385.9" stroke="#86857d" stroke-width="1"/>
<line x1="159.8" y1="357.3" x2="26.8" y2="352.4" stroke="#86857d" stroke-width="1"/>
<line x1="159.2" y1="318.1" x2="25.3" y2="318.4" stroke="#86857d" stroke-width="1"/>
<line x1="162.4" y1="543.9" x2="159.2" y2="318.1" stroke="#86857d" stroke-width="1"/>
<line x1="182.4" y1="531.6" x2="180.3" y2="317.8" stroke="#86857d" stroke-width="1"/>
<line x1="200.3" y1="520.6" x2="199.2" y2="317.5" stroke="#86857d" stroke-width="1"/>
<line x1="216.6" y1="510.6" x2="216.2" y2="317.2" stroke="#86857d" stroke-width="1"/>
<line x1="231.3" y1="501.5" x2="231.5" y2="317" stroke="#86857d" stroke-width="1"/>
<line x1="244.7" y1="493.3" x2="245.5" y2="316.7" stroke="#86857d" stroke-width="1"/>
<line x1="257.1" y1="485.7" x2="258.3" y2="316.5" stroke="#86857d" stroke-width="1"/>
<line x1="268.4" y1="478.7" x2="270" y2="316.3" stroke="#86857d" stroke-width="1"/>
<line x1="278.9" y1="472.3" x2="280.7" y2="316.2" stroke="#86857d" stroke-width="1"/>
<line x1="288.6" y1="466.3" x2="290.7" y2="316" stroke="#86857d" stroke-width="1"/>
<line x1="297.6" y1="460.8" x2="299.9" y2="315.9" stroke="#86857d" stroke-width="1"/>
<line x1="305.9" y1="455.6" x2="308.4" y2="315.7" stroke="#86857d" stroke-width="1"/>
<line x1="313.7" y1="450.8" x2="316.4" y2="315.6" stroke="#86857d" stroke-width="1"/>
<line x1="321" y1="446.3" x2="323.8" y2="315.5" stroke="#86857d" stroke-width="1"/>
<line x1="327.9" y1="442.1" x2="330.7" y2="315.4" stroke="#86857d" stroke-width="1"/>
<line x1="162.4" y1="543.9" x2="327.9" y2="442.1" stroke="#86857d" stroke-width="1"/>
<line x1="161.9" y1="507.8" x2="328.3" y2="421.5" stroke="#86857d" stroke-width="1"/>
<line x1="161.4" y1="471.1" x2="328.8" y2="400.7" stroke="#86857d" stroke-width="1"/>
<line x1="160.9" y1="433.8" x2="329.3" y2="379.6" stroke="#86857d" stroke-width="1"/>
<line x1="160.3" y1="395.9" x2="329.8" y2="358.4" stroke="#86857d" stroke-width="1"/>
<line x1="159.8" y1="357.3" x2="330.3" y2="337" stroke="#86857d" stroke-width="1"/>
<line x1="159.2" y1="318.1" x2="330.7" y2="315.4" stroke="#86857d" stroke-width="1"/>
<line x1="162.4" y1="543.9" x2="33.8" y2="515" stroke="#86857d" stroke-width="1"/>
<line x1="182.4" y1="531.6" x2="57.3" y2="505.6" stroke="#86857d" stroke-width="1"/>
<line x1="200.3" y1="520.6" x2="78.6" y2="497" stroke="#86857d" stroke-width="1"/>
<line x1="216.6" y1="510.6" x2="98.2" y2="489.1" stroke="#86857d" stroke-width="1"/>
<line x1="231.3" y1="501.5" x2="116.2" y2="481.9" stroke="#86857d" stroke-width="1"/>
<line x1="244.7" y1="493.3" x2="132.7" y2="475.3" stroke="#86857d" stroke-width="1"/>
<line x1="257.1" y1="485.7" x2="148" y2="469.1" stroke="#86857d" stroke-width="1"/>
<line x1="268.4" y1="478.7" x2="162.3" y2="463.4" stroke="#86857d" stroke-width="1"/>
<line x1="278.9" y1="472.3" x2="175.5" y2="458.1" stroke="#86857d" stroke-width="1"/>
<line x1="288.6" y1="466.3" x2="187.8" y2="453.2" stroke="#86857d" stroke-width="1"/>
<line x1="297.6" y1="460.8" x2="199.3" y2="448.6" stroke="#86857d" stroke-width="1"/>
<line x1="305.9" y1="455.6" x2="210.1" y2="444.2" stroke="#86857d" stroke-width="1"/>
<line x1="313.7" y1="450.8" x2="220.2" y2="440.2" stroke="#86857d" stroke-width="1"/>
<line x1="321" y1="446.3" x2="229.7" y2="436.4" stroke="#86857d" stroke-width="1"/>
<line x1="327.9" y1="442.1" x2="238.6" y2="432.8" stroke="#86857d" stroke-width="1"/>
<line x1="162.4" y1="543.9" x2="327.9" y2="442.1" stroke="#86857d" stroke-width="1"/>
<line x1="133.7" y1="537.4" x2="308.9" y2="440.1" stroke="#86857d" stroke-width="1"/>
<line x1="106.7" y1="531.4" x2="290.5" y2="438.2" stroke="#86857d" stroke-width="1"/>
<line x1="81.1" y1="525.6" x2="272.6" y2="436.3" stroke="#86857d" stroke-width="1"/>
<line x1="56.8" y1="520.2" x2="255.4" y2="434.5" stroke="#86857d" stroke-width="1"/>
<line x1="33.8" y1="515" x2="238.6" y2="432.8" stroke="#86857d" stroke-width="1"/>
<line x1="238.6" y1="432.8" x2="239" y2="310.8" stroke="#000" stroke-width="1"/>
<polygon points="239,306.8 243,316.3 239,313.2 235,316.3" fill="#000"/>
<line x1="238.6" y1="432.8" x2="27.8" y2="517.4" stroke="#111" stroke-width="0.9"/>
<polygon points="23.1,519.3 32,510.5 30.4,516.4 35.6,519.4" fill="#000"/>
<line x1="238.6" y1="432.8" x2="332.7" y2="442.6" stroke="#111" stroke-width="0.9"/>
<polygon points="336.6,443 326.8,445.9 330.2,442.4 327.6,438.2" fill="#000"/>
<path d="M236.1 296.2H241.5L236.1 303.2H241.5M12.9 517.1L18.3 524.1M18.3 517.1L12.9 524.1M339.7 439L342.7 442.9L345.7 439M342.7 442.9V446.4" stroke="#3a3a3a" stroke-width="1" fill="none"/>
<path d="M66.2 317.9L73.3 523.9M198.8 343.4L199.5 465.7M243.9 358L243.4 482.7M204.9 362.1L205.4 464.9M179.4 362.7L180.5 473.9M225.2 369.5L225.2 465.5M271.5 370.5L270.5 470.8M285.6 370.5L284.4 461M217.7 372L217.9 456.7M195.3 373L195.9 471.6M253.6 373L253 481.2M229.8 373.9L229.8 470.2M137.4 374.5L140 511.2M249.7 374.9L249.2 461.2M268.6 375.7L267.6 479M279 376.8L278.1 456.6M261.7 378.4L261 468.5M149.3 380.9L151.2 496.3M167.5 384.2L168.8 488.1M185.3 384.2L185.9 453.8M176.9 384.8L178.1 496.2M163.7 386.7L165.1 494.8M236.3 386.7L236.1 478.3M90.4 387L94.3 519.6M192.3 394.1L193 483.5M94.2 395.2L97.9 525.1M191.6 397.8L192.3 499.4M275.4 398.5L274.8 451.4M64.1 399.7L68.4 519M143.2 402.2L145.5 528.4M166 402.1L167.3 502.9M209.6 402.2L209.8 467.1M295.4 402.2L294.6 451.3M310.7 403.6L310 439.3M130.4 404.9L132.2 490.5M158.6 406.8L160.1 509.7M120.1 407L122.6 516.6M142.4 407.8L143.9 490.4M82.6 408L86.3 526.4M110.6 421.9L113.4 532.9M303.8 422.8L303.4 443.8M154.2 423.1L155.1 482.9M103.8 423.3L105.9 500.8M298.6 426.5L298.3 448.3M128.1 428.5L129.8 507.5" stroke="#f0a0a0" stroke-width="3" stroke-opacity="0.55" fill="none"/>
<path d="M66.2 317.9L73.3 523.9M198.8 343.4L199.5 465.7M243.9 358L243.4 482.7M204.9 362.1L205.4 464.9M179.4 362.7L180.5 473.9M225.2 369.5L225.2 465.5M271.5 370.5L270.5 470.8M285.6 370.5L284.4 461M217.7 372L217.9 456.7M195.3 373L195.9 471.6M253.6 373L253 481.2M229.8 373.9L229.8 470.2M137.4 374.5L140 511.2M249.7 374.9L249.2 461.2M268.6 375.7L267.6 479M279 376.8L278.1 456.6M261.7 378.4L261 468.5M149.3 380.9L151.2 496.3M167.5 384.2L168.8 488.1M185.3 384.2L185.9 453.8M176.9 384.8L178.1 496.2M163.7 386.7L165.1 494.8M236.3 386.7L236.1 478.3M90.4 387L94.3 519.6M192.3 394.1L193 483.5M94.2 395.2L97.9 525.1M191.6 397.8L192.3 499.4M275.4 398.5L274.8 451.4M64.1 399.7L68.4 519M143.2 402.2L145.5 528.4M166 402.1L167.3 502.9M209.6 402.2L209.8 467.1M295.4 402.2L294.6 451.3M310.7 403.6L310 439.3M130.4 404.9L132.2 490.5M158.6 406.8L160.1 509.7M120.1 407L122.6 516.6M142.4 407.8L143.9 490.4M82.6 408L86.3 526.4M110.6 421.9L113.4 532.9M303.8 422.8L303.4 443.8M154.2 423.1L155.1 482.9M103.8 423.3L105.9 500.8M298.6 426.5L298.3 448.3M128.1 428.5L129.8 507.5" stroke="#d42424" stroke-width="1.3" fill="none"/>
<path d="M64.4 318.9h3.6M197 344.4h3.6M242.1 359h3.6M203.1 363.1h3.6M177.6 363.7h3.6M223.4 370.5h3.6M269.7 371.5h3.6M283.8 371.5h3.6M215.9 373h3.6M193.5 374h3.6M251.8 374h3.6M228 374.9h3.6M135.6 375.5h3.6M247.9 375.9h3.6M266.8 376.7h3.6M277.2 377.8h3.6M259.9 379.4h3.6M147.5 381.9h3.6M165.7 385.2h3.6M183.5 385.2h3.6M175.1 385.8h3.6M161.9 387.7h3.6M234.5 387.7h3.6M88.6 388h3.6M190.5 395.1h3.6M92.4 396.2h3.6M189.8 398.8h3.6M273.6 399.5h3.6M62.3 400.7h3.6M141.4 403.2h3.6M164.2 403.1h3.6M207.8 403.2h3.6M293.6 403.2h3.6M308.9 404.6h3.6M128.6 405.9h3.6M156.8 407.8h3.6M118.3 408h3.6M140.6 408.8h3.6M80.8 409h3.6M108.8 422.9h3.6M302 423.8h3.6M152.4 424.1h3.6M102 424.3h3.6M296.8 427.5h3.6M126.3 429.5h3.6M72.1 523.9h2.4M198.3 465.7h2.4M242.2 482.7h2.4M204.2 464.9h2.4M179.3 473.9h2.4M224 465.5h2.4M269.3 470.8h2.4M283.2 461h2.4M216.7 456.7h2.4M194.7 471.6h2.4M251.8 481.2h2.4M228.6 470.2h2.4M138.8 511.2h2.4M248 461.2h2.4M266.4 479h2.4M276.9 456.6h2.4M259.8 468.5h2.4M150 496.3h2.4M167.6 488.1h2.4M184.7 453.8h2.4M176.9 496.2h2.4M163.9 494.8h2.4M234.9 478.3h2.4M93.1 519.6h2.4M191.8 483.5h2.4M96.7 525.1h2.4M191.1 499.4h2.4M273.6 451.4h2.4M67.2 519h2.4M144.3 528.4h2.4M166.1 502.9h2.4M208.6 467.1h2.4M293.4 451.3h2.4M308.8 439.3h2.4M131 490.5h2.4M158.9 509.7h2.4M121.4 516.6h2.4M142.7 490.4h2.4M85.1 526.4h2.4M112.2 532.9h2.4M302.2 443.8h2.4M153.9 482.9h2.4M104.7 500.8h2.4M297.1 448.3h2.4M128.6 507.5h2.4" stroke="#d42424" stroke-width="1.4" fill="none"/>
<path d="M64.7 317.9h3M66.2 316.4v3M64.2 355.6h3M65.7 354.1v3M139.8 373.9h3M141.3 372.4v3M69.2 382.1h3M70.7 380.6v3M64.4 378.7h3M65.9 377.2v3M90.1 393.9h3M91.6 392.4v3M147 397.3h3M148.5 395.8v3M144.1 402.7h3M145.6 401.2v3M64.3 400.3h3M65.8 398.8v3M74.4 394.2h3M75.9 392.7v3M147.3 395.4h3M148.8 393.9v3M103.9 398.7h3M105.4 397.2v3M96.1 380.7h3M97.6 379.2v3M106.1 405.8h3M107.6 404.3v3M158.5 401.2h3M160 399.7v3M128.4 413.9h3M129.9 412.4v3M132.9 408.8h3M134.4 407.3v3M81.1 392.6h3M82.6 391.1v3M81.6 400.6h3M83.1 399.1v3M27.8 416h3M29.3 414.5v3M103.4 399.2h3M104.9 397.7v3M90.1 401h3M91.6 399.5v3M125.6 413.6h3M127.1 412.1v3M75.4 389.2h3M76.9 387.7v3M94.9 416.8h3M96.4 415.3v3M86.4 396.4h3M87.9 394.9v3M121.1 414.8h3M122.6 413.3v3M114.5 450.6h3M116 449.1v3M56.8 400.8h3M58.3 399.3v3M126 405.7h3M127.5 404.2v3M105.8 416.3h3M107.3 414.8v3M79.8 437.3h3M81.3 435.8v3M137.5 459.9h3M139 458.4v3M130.5 475.1h3M132 473.6v3M56.7 421.2h3M58.2 419.7v3M110.6 418.4h3M112.1 416.9v3M92 413h3M93.5 411.5v3M66.1 425.9h3M67.6 424.4v3M80.5 408.2h3M82 406.7v3M109.2 421.8h3M110.7 420.3v3M132.9 502.4h3M134.4 500.9v3M62.4 449.2h3M63.9 447.7v3M55.2 435.3h3M56.7 433.8v3M136.5 502.9h3M138 501.4v3M84.3 440.5h3M85.8 439v3" stroke="#2a64c8" stroke-width="1.25" fill="none"/>
<path d="M157.8 317.6h2.8M159.2 316.2v2.8M272.8 345h2.8M274.2 343.6v2.8M257.8 358.5h2.8M259.2 357.1v2.8M274.9 364.9h2.8M276.3 363.5v2.8M256.7 366h2.8M258.1 364.6v2.8M277.8 372h2.8M279.2 370.6v2.8M279.2 370.9h2.8M280.6 369.5v2.8M295 371h2.8M296.4 369.6v2.8M289 375.5h2.8M290.4 374.1v2.8M263.2 376.6h2.8M264.6 375.2v2.8M261.6 373.5h2.8M263 372.1v2.8M272.2 376.1h2.8M273.6 374.7v2.8M194.9 377.8h2.8M196.3 376.4v2.8M288.4 376.9h2.8M289.8 375.5v2.8M267.5 375.7h2.8M268.9 374.3v2.8M299.9 377.9h2.8M301.3 376.5v2.8M280.4 379.4h2.8M281.8 378v2.8M218.2 385.2h2.8M219.6 383.8v2.8M233.9 388.5h2.8M235.3 387.1v2.8M286.9 390.7h2.8M288.3 389.3v2.8M224.9 387.9h2.8M226.3 386.5v2.8M223.8 390.7h2.8M225.2 389.3v2.8M262.1 388.4h2.8M263.5 387v2.8M171 392.9h2.8M172.4 391.5v2.8M245.7 398h2.8M247.1 396.6v2.8M164.7 401h2.8M166.1 399.6v2.8M224 400.3h2.8M225.4 398.9v2.8M306.3 400.7h2.8M307.7 399.3v2.8M164.2 408.7h2.8M165.6 407.3v2.8M174 404.9h2.8M175.4 403.5v2.8M213.3 406.1h2.8M214.7 404.7v2.8M272.2 407.2h2.8M273.6 405.8v2.8M309.6 403.3h2.8M311 401.9v2.8M328.6 405h2.8M330 403.6v2.8M221.7 413h2.8M223.1 411.6v2.8M202.4 410.8h2.8M203.8 409.4v2.8M183.3 412.8h2.8M184.7 411.4v2.8M224.7 415.3h2.8M226.1 413.9v2.8M159.7 415.6h2.8M161.1 414.2v2.8M159.3 427.3h2.8M160.7 425.9v2.8M321 424.5h2.8M322.4 423.1v2.8M237.9 432h2.8M239.3 430.6v2.8M200.5 434.1h2.8M201.9 432.7v2.8M313.8 428.1h2.8M315.2 426.7v2.8M197.6 436.5h2.8M199 435.1v2.8" stroke="#1b6848" stroke-width="1.1" fill="none"/>
<g opacity="0.6"><path d="M239.1 354.3L238.8 448.9M232.5 355.8L232.4 448.2M200.4 366.5L201 467.4M195.4 383L195.9 459.8M258.7 385.2L258.2 459.8M219 387.4L219.1 453.7M213.1 388.6L213.3 446.7M254.3 391.1L254 434.9M283.3 392.6L282.6 448.3M246.2 399.2L246 444.1M225.1 399.5L225.1 485.5M226.9 404.8L226.9 446.9M139 408.1L140.5 485.4M149.7 408.8L151.7 527.1M157.4 410.7L158.6 487.6M175.1 410.7L176.2 505.6M294.1 419.5L293.6 455.9M143.4 424.3L144.3 475.8M286.8 381.2L285.8 452M136.3 399.1L138 485.3M124 441.5L125.8 523.2M117.4 456.6L118.5 500.9M221.5 434.4L221.6 490.8M207.2 437.7L207.4 482M221.9 418.6L222 466.3M229.6 399.7L229.6 470.8M223.6 418.6L223.6 448M182.9 428.4L183.2 466.6M219.6 411.8L219.6 448.4M198.9 420L199.1 451.7M242.9 395.6L242.8 437M205.8 400.2L206.1 450.1M247.2 412L247.1 442.2M196.5 396.7L196.9 463.8M254.7 421L254.6 439.5M236.6 393.8L236.5 435.3M169.4 399.5L170.3 468.8M204.6 419.2L204.8 460.3M190.5 400.7L191 461M226.2 401.9L226.2 438.4M212.9 395.3L213.1 453.5M212.6 397.9L212.8 444.2M215.2 398.9L215.4 456.6M219.8 395.8L219.8 447.3M246.5 435L246.5 445.1M246.7 406.2L246.6 441.3M259.2 400.9L258.9 441.1M210.3 435.3L210.4 460.4M196 396L196.3 450.4M209.2 412.2L209.3 453.1M212.1 403.4L212.2 444.9M208.1 395.9L208.4 479M238.3 406.9L238.2 455.4M231.8 404.5L231.7 460.2M179.6 430.9L180.2 488.8M221.4 407.9L221.5 467.5M189.7 425.8L190.2 496.3M182.9 394.4L183.8 487.1M189.4 452.1L189.7 490M220.3 400.2L220.4 476.9M241.3 433L241.2 458.9M217.6 396.6L217.8 465.3M176.2 401.3L177.1 486.2M183.6 474L184 512.4M190.9 452.4L191.3 503.2M203 458.3L203.2 505.4M220.1 418.9L220.2 488.3M235.8 482.4L235.7 495.6M217 439.1L217.1 487.1M208.3 415L208.6 492.6M235.4 418.3L235.3 477.6M243.8 465.5L243.7 487.3M172.6 446.9L173.3 506.6" stroke="#f0a0a0" stroke-width="3" stroke-opacity="0.55" fill="none"/><path d="M239.1 354.3L238.8 448.9M232.5 355.8L232.4 448.2M200.4 366.5L201 467.4M195.4 383L195.9 459.8M258.7 385.2L258.2 459.8M219 387.4L219.1 453.7M213.1 388.6L213.3 446.7M254.3 391.1L254 434.9M283.3 392.6L282.6 448.3M246.2 399.2L246 444.1M225.1 399.5L225.1 485.5M226.9 404.8L226.9 446.9M139 408.1L140.5 485.4M149.7 408.8L151.7 527.1M157.4 410.7L158.6 487.6M175.1 410.7L176.2 505.6M294.1 419.5L293.6 455.9M143.4 424.3L144.3 475.8M286.8 381.2L285.8 452M136.3 399.1L138 485.3M124 441.5L125.8 523.2M117.4 456.6L118.5 500.9M221.5 434.4L221.6 490.8M207.2 437.7L207.4 482M221.9 418.6L222 466.3M229.6 399.7L229.6 470.8M223.6 418.6L223.6 448M182.9 428.4L183.2 466.6M219.6 411.8L219.6 448.4M198.9 420L199.1 451.7M242.9 395.6L242.8 437M205.8 400.2L206.1 450.1M247.2 412L247.1 442.2M196.5 396.7L196.9 463.8M254.7 421L254.6 439.5M236.6 393.8L236.5 435.3M169.4 399.5L170.3 468.8M204.6 419.2L204.8 460.3M190.5 400.7L191 461M226.2 401.9L226.2 438.4M212.9 395.3L213.1 453.5M212.6 397.9L212.8 444.2M215.2 398.9L215.4 456.6M219.8 395.8L219.8 447.3M246.5 435L246.5 445.1M246.7 406.2L246.6 441.3M259.2 400.9L258.9 441.1M210.3 435.3L210.4 460.4M196 396L196.3 450.4M209.2 412.2L209.3 453.1M212.1 403.4L212.2 444.9M208.1 395.9L208.4 479M238.3 406.9L238.2 455.4M231.8 404.5L231.7 460.2M179.6 430.9L180.2 488.8M221.4 407.9L221.5 467.5M189.7 425.8L190.2 496.3M182.9 394.4L183.8 487.1M189.4 452.1L189.7 490M220.3 400.2L220.4 476.9M241.3 433L241.2 458.9M217.6 396.6L217.8 465.3M176.2 401.3L177.1 486.2M183.6 474L184 512.4M190.9 452.4L191.3 503.2M203 458.3L203.2 505.4M220.1 418.9L220.2 488.3M235.8 482.4L235.7 495.6M217 439.1L217.1 487.1M208.3 415L208.6 492.6M235.4 418.3L235.3 477.6M243.8 465.5L243.7 487.3M172.6 446.9L173.3 506.6" stroke="#d42424" stroke-width="1.3" fill="none"/><path d="M237.3 355.3h3.6M230.7 356.8h3.6M198.6 367.5h3.6M193.6 384h3.6M256.9 386.2h3.6M217.2 388.4h3.6M211.3 389.6h3.6M252.5 392.1h3.6M281.5 393.6h3.6M244.4 400.2h3.6M223.3 400.5h3.6M225.1 405.8h3.6M137.2 409.1h3.6M147.9 409.8h3.6M155.6 411.7h3.6M173.3 411.7h3.6M292.3 420.5h3.6M141.6 425.3h3.6M285 382.2h3.6M134.5 400.1h3.6M122.2 442.5h3.6M115.6 457.6h3.6M219.7 435.4h3.6M205.4 438.7h3.6M220.1 419.6h3.6M227.8 400.7h3.6M221.8 419.6h3.6M181.1 429.4h3.6M217.8 412.8h3.6M197.1 421h3.6M241.1 396.6h3.6M204 401.2h3.6M245.4 413h3.6M194.7 397.7h3.6M252.9 422h3.6M234.8 394.8h3.6M167.6 400.5h3.6M202.8 420.2h3.6M188.7 401.7h3.6M224.4 402.9h3.6M211.1 396.3h3.6M210.8 398.9h3.6M213.4 399.9h3.6M218 396.8h3.6M244.7 436h3.6M244.9 407.2h3.6M257.4 401.9h3.6M208.5 436.3h3.6M194.2 397h3.6M207.4 413.2h3.6M210.3 404.4h3.6M206.3 396.9h3.6M236.5 407.9h3.6M230 405.5h3.6M177.8 431.9h3.6M219.6 408.9h3.6M187.9 426.8h3.6M181.1 395.4h3.6M187.6 453.1h3.6M218.5 401.2h3.6M239.5 434h3.6M215.8 397.6h3.6M174.4 402.3h3.6M181.8 475h3.6M189.1 453.4h3.6M201.2 459.3h3.6M218.3 419.9h3.6M234 483.4h3.6M215.2 440.1h3.6M206.5 416h3.6M233.6 419.3h3.6M242 466.5h3.6M170.8 447.9h3.6M237.6 448.9h2.4M231.2 448.2h2.4M199.8 467.4h2.4M194.7 459.8h2.4M257 459.8h2.4M217.9 453.7h2.4M212.1 446.7h2.4M252.8 434.9h2.4M281.4 448.3h2.4M244.8 444.1h2.4M223.9 485.5h2.4M225.7 446.9h2.4M139.3 485.4h2.4M150.5 527.1h2.4M157.4 487.6h2.4M175 505.6h2.4M292.4 455.9h2.4M143.1 475.8h2.4M284.6 452h2.4M136.8 485.3h2.4M124.6 523.2h2.4M117.3 500.9h2.4M220.4 490.8h2.4M206.2 482h2.4M220.8 466.3h2.4M228.4 470.8h2.4M222.4 448h2.4M182 466.6h2.4M218.4 448.4h2.4M197.9 451.7h2.4M241.6 437h2.4M204.9 450.1h2.4M245.9 442.2h2.4M195.7 463.8h2.4M253.4 439.5h2.4M235.3 435.3h2.4M169.1 468.8h2.4M203.6 460.3h2.4M189.8 461h2.4M225 438.4h2.4M211.9 453.5h2.4M211.6 444.2h2.4M214.2 456.6h2.4M218.6 447.3h2.4M245.3 445.1h2.4M245.4 441.3h2.4M257.7 441.1h2.4M209.2 460.4h2.4M195.1 450.4h2.4M208.1 453.1h2.4M211 444.9h2.4M207.2 479h2.4M237 455.4h2.4M230.5 460.2h2.4M179 488.8h2.4M220.3 467.5h2.4M189 496.3h2.4M182.6 487.1h2.4M188.5 490h2.4M219.2 476.9h2.4M240 458.9h2.4M216.6 465.3h2.4M175.9 486.2h2.4M182.8 512.4h2.4M190.1 503.2h2.4M202 505.4h2.4M219 488.3h2.4M234.5 495.6h2.4M215.9 487.1h2.4M207.4 492.6h2.4M234.1 477.6h2.4M242.5 487.3h2.4M172.1 506.6h2.4" stroke="#d42424" stroke-width="1.4" fill="none"/><path d="M67.3 378.3h3M68.8 376.8v3M59.1 380.3h3M60.6 378.8v3M70.4 387.1h3M71.9 385.6v3M50.4 412.6h3M51.9 411.1v3M113.2 422.7h3M114.7 421.2v3M59.7 424.5h3M61.2 423v3M37.9 429.4h3M39.4 427.9v3M52 446.8h3M53.5 445.3v3M116.7 444.5h3M118.2 443v3M66.4 452.2h3M67.9 450.7v3M127.9 426.1h3M129.4 424.6v3M53 456h3M54.5 454.5v3M54.3 428.1h3M55.8 426.6v3M129.1 413.5h3M130.6 412v3M73.2 432.1h3M74.7 430.6v3M117.5 425.9h3M119 424.4v3M146 483.7h3M147.5 482.2v3M40 453.2h3M41.5 451.7v3M128 424.2h3M129.5 422.7v3M51.7 417h3M53.2 415.5v3M105.1 446.9h3M106.6 445.4v3M66.1 473.6h3M67.6 472.1v3M134.3 467.3h3M135.8 465.8v3M106.6 475.2h3M108.1 473.7v3M90.4 462.3h3M91.9 460.8v3M105.8 434.4h3M107.3 432.9v3M53.1 475.7h3M54.6 474.2v3M55.4 469.5h3M56.9 468v3M49.6 464.4h3M51.1 462.9v3M37.6 470.6h3M39.1 469.1v3M45.3 450.8h3M46.8 449.3v3M39.5 443.8h3M41 442.3v3M63.6 474.3h3M65.1 472.8v3M60.6 429.8h3M62.1 428.3v3M66 492.6h3M67.5 491.1v3M33.8 448.1h3M35.3 446.6v3M46.8 428.1h3M48.3 426.6v3M61.7 464.4h3M63.2 462.9v3M49.4 436.2h3M50.9 434.7v3M31.5 457.4h3M33 455.9v3M53.7 435.5h3M55.2 434v3M32 445h3M33.5 443.5v3M63.1 439.3h3M64.6 437.8v3M46.2 441h3M47.7 439.5v3M71 508.1h3M72.5 506.6v3M60.7 465.7h3M62.2 464.2v3M73.5 459.3h3M75 457.8v3M68.1 488h3M69.6 486.5v3M30.5 436.2h3M32 434.7v3M50.2 459.9h3M51.7 458.4v3M33.4 452.9h3M34.9 451.4v3M100.8 422.7h3M102.3 421.2v3M83.9 455.1h3M85.4 453.6v3M87.3 447.4h3M88.8 445.9v3M94.2 458.6h3M95.7 457.1v3M92 446.4h3M93.5 444.9v3M115.1 449.6h3M116.6 448.1v3M93.1 414.9h3M94.6 413.4v3M105.1 485.2h3M106.6 483.7v3M108.4 430.7h3M109.9 429.2v3M95.4 491.6h3M96.9 490.1v3M83.5 431.5h3M85 430v3M85.9 423.1h3M87.4 421.6v3M135.5 495.2h3M137 493.7v3M127.5 477.3h3M129 475.8v3M141.2 484.5h3M142.7 483v3M128.5 449.1h3M130 447.6v3M155.9 526.4h3M157.4 524.9v3M124.3 475h3M125.8 473.5v3M125 440.4h3M126.5 438.9v3M124.6 456.5h3M126.1 455v3M150.2 513.3h3M151.7 511.8v3M117.7 466.5h3M119.2 465v3" stroke="#2a64c8" stroke-width="1.25" fill="none"/><path d="M304.5 356.4h2.8M305.9 355v2.8M304.3 358.2h2.8M305.7 356.8v2.8M270.3 369.7h2.8M271.7 368.3v2.8M280.1 388.3h2.8M281.5 386.9v2.8M291.8 387.3h2.8M293.2 385.9v2.8M293.4 392.2h2.8M294.8 390.8v2.8M302.5 394.5h2.8M303.9 393.1v2.8M326.8 395.9h2.8M328.2 394.5v2.8M312 394.5h2.8M313.4 393.1v2.8M311.8 404.1h2.8M313.2 402.7v2.8M250 401.5h2.8M251.4 400.1v2.8M304.4 411.1h2.8M305.8 409.7v2.8M230.9 416.5h2.8M232.3 415.1v2.8M177.4 411.4h2.8M178.8 410v2.8M232.1 417.6h2.8M233.5 416.2v2.8M211.9 414.1h2.8M213.3 412.7v2.8M302.8 420.4h2.8M304.2 419v2.8M245.6 435.3h2.8M247 433.9v2.8M307.5 382.4h2.8M308.9 381v2.8M230.5 406.9h2.8M231.9 405.5v2.8M175.8 448.2h2.8M177.2 446.8v2.8M203.8 469.2h2.8M205.2 467.8v2.8M242 436.7h2.8M243.4 435.3v2.8M250.8 442.8h2.8M252.2 441.4v2.8M275.6 423.8h2.8M277 422.4v2.8M271 402.9h2.8M272.4 401.5v2.8M302 426h2.8M303.4 424.6v2.8M267.1 437.5h2.8M268.5 436.1v2.8M300.8 419h2.8M302.2 417.6v2.8M292 429.1h2.8M293.4 427.7v2.8M321.7 401.2h2.8M323.1 399.8v2.8M295.9 407.3h2.8M297.3 405.9v2.8M314.5 417.8h2.8M315.9 416.4v2.8M274.3 402.5h2.8M275.7 401.1v2.8M319.4 427.1h2.8M320.8 425.7v2.8M323.3 399.8h2.8M324.7 398.4v2.8M261.6 406.9h2.8M263 405.5v2.8M280.7 426.6h2.8M282.1 425.2v2.8M277.1 407.6h2.8M278.5 406.2v2.8M316.8 409h2.8M318.2 407.6v2.8M292.5 401.1h2.8M293.9 399.7v2.8M305.9 404.9h2.8M307.3 403.5v2.8M288.3 404.5h2.8M289.7 403.1v2.8M302.7 401.9h2.8M304.1 400.5v2.8M309.8 441.9h2.8M311.2 440.5v2.8M315.8 411.9h2.8M317.2 410.5v2.8M318.2 405.3h2.8M319.6 403.9v2.8M281.4 443.3h2.8M282.8 441.9v2.8M293.8 403.3h2.8M295.2 401.9v2.8M292 419.6h2.8M293.4 418.2v2.8M304.7 410.9h2.8M306.1 409.5v2.8M255.3 399.5h2.8M256.7 398.1v2.8M294.1 411.5h2.8M295.5 410.1v2.8M286.1 408.9h2.8M287.5 407.5v2.8M235.5 437.1h2.8M236.9 435.7v2.8M273.8 412.3h2.8M275.2 410.9v2.8M227.7 429.9h2.8M229.1 428.5v2.8M238.7 398.6h2.8M240.1 397.2v2.8M235.9 458.3h2.8M237.3 456.9v2.8M260.6 403.3h2.8M262 401.9v2.8M289.4 438.2h2.8M290.8 436.8v2.8M276.4 401h2.8M277.8 399.6v2.8M238.5 406.4h2.8M239.9 405v2.8M205.1 477.5h2.8M206.5 476.1v2.8M218.8 456.2h2.8M220.2 454.8v2.8M218.6 460.5h2.8M220 459.1v2.8M245 421.4h2.8M246.4 420v2.8M238.4 483h2.8M239.8 481.6v2.8M245.8 442.5h2.8M247.2 441.1v2.8M236.7 417.7h2.8M238.1 416.3v2.8M262.6 420.9h2.8M264 419.5v2.8M251 466.7h2.8M252.4 465.3v2.8M209.9 451.8h2.8M211.3 450.4v2.8" stroke="#1b6848" stroke-width="1.1" fill="none"/></g>
<g opacity="0.6"><path d="M239.1 354.3L238.9 438.7M232.5 355.8L232.4 443.2M200.4 366.5L200.9 460.5M195.4 383L195.9 456.1M258.7 385.2L258.3 441M219 387.4L219.1 475.9M213.1 388.6L213.4 483M254.3 391.1L254 439.6M283.3 392.6L282.6 444.7M246.2 399.2L246 451.7M225.1 399.5L225.1 475.1M226.9 404.8L226.9 468.6M139 408.1L140.5 489.2M149.7 408.8L151.3 504.8M157.4 410.7L158.6 492.8M175.1 410.7L175.7 466.9M294.1 419.5L293.5 456.6M143.4 424.3L144.7 496M286.3 417.8L285.8 452M136.7 418.3L138 485.3M123.7 432L125.8 523.2M116.2 408.7L118.5 500.9M221.5 429.7L221.6 490.8M207.2 427.8L207.4 482M221.9 392.1L222 466.3M229.6 399.1L229.6 470.8M174 415.3L174.6 469.3M221 410.1L221 451.9M243.1 412.1L243 437.2M224 412L224 455.6M188.9 397.2L189.5 474.1M227.6 416.9L227.6 437.4M157.5 448.3L157.8 467.1M193.5 426.7L193.8 464.6M204.7 399.9L205 466.9M256.7 434.1L256.7 438.9M164.7 413.6L165.4 463.6M207.5 402.5L207.8 466.2M218.4 405.6L218.5 453.7M205.4 405.6L205.6 447.9M244.8 403.4L244.6 439.2M235.9 400.7L235.8 453.1M180.9 412.7L181.4 465.2M206.3 414.9L206.5 451.4M180.1 435.3L180.4 467.5M226.4 409.4L226.4 450.9M225.1 415.3L225.1 454.8M227.2 397.1L227.2 457.1M223.4 397.6L223.4 458.7M203.5 422.6L203.6 460.4M218.9 405L219 442.8M207.8 435.3L208 480.6M239.8 397L239.7 456M207.7 410.5L208 482.7M233.6 405.4L233.5 456.8M206 475.2L206 484.7M213.2 441.5L213.3 484.9M189.3 410.9L189.9 484.2M234.1 441.5L234 469.1M151.7 394.9L153.4 499M248.4 428.1L248.3 455.5M185.2 442.4L185.7 497.7M224.5 471.5L224.5 475.3M154.4 462.7L155.4 525.6M162.2 434.6L163.3 514M240.4 485.3L240.4 489.4M213.1 504.4L213.1 509M147.8 431.6L149.3 519.6M211.7 475.4L211.8 505.9M207.8 444.8L208 493.6M179.5 449.7L180.2 513.6M253.5 481.5L253.5 485.6M202.8 448.3L203.1 503.2" stroke="#f0a0a0" stroke-width="3" stroke-opacity="0.55" fill="none"/><path d="M239.1 354.3L238.9 438.7M232.5 355.8L232.4 443.2M200.4 366.5L200.9 460.5M195.4 383L195.9 456.1M258.7 385.2L258.3 441M219 387.4L219.1 475.9M213.1 388.6L213.4 483M254.3 391.1L254 439.6M283.3 392.6L282.6 444.7M246.2 399.2L246 451.7M225.1 399.5L225.1 475.1M226.9 404.8L226.9 468.6M139 408.1L140.5 489.2M149.7 408.8L151.3 504.8M157.4 410.7L158.6 492.8M175.1 410.7L175.7 466.9M294.1 419.5L293.5 456.6M143.4 424.3L144.7 496M286.3 417.8L285.8 452M136.7 418.3L138 485.3M123.7 432L125.8 523.2M116.2 408.7L118.5 500.9M221.5 429.7L221.6 490.8M207.2 427.8L207.4 482M221.9 392.1L222 466.3M229.6 399.1L229.6 470.8M174 415.3L174.6 469.3M221 410.1L221 451.9M243.1 412.1L243 437.2M224 412L224 455.6M188.9 397.2L189.5 474.1M227.6 416.9L227.6 437.4M157.5 448.3L157.8 467.1M193.5 426.7L193.8 464.6M204.7 399.9L205 466.9M256.7 434.1L256.7 438.9M164.7 413.6L165.4 463.6M207.5 402.5L207.8 466.2M218.4 405.6L218.5 453.7M205.4 405.6L205.6 447.9M244.8 403.4L244.6 439.2M235.9 400.7L235.8 453.1M180.9 412.7L181.4 465.2M206.3 414.9L206.5 451.4M180.1 435.3L180.4 467.5M226.4 409.4L226.4 450.9M225.1 415.3L225.1 454.8M227.2 397.1L227.2 457.1M223.4 397.6L223.4 458.7M203.5 422.6L203.6 460.4M218.9 405L219 442.8M207.8 435.3L208 480.6M239.8 397L239.7 456M207.7 410.5L208 482.7M233.6 405.4L233.5 456.8M206 475.2L206 484.7M213.2 441.5L213.3 484.9M189.3 410.9L189.9 484.2M234.1 441.5L234 469.1M151.7 394.9L153.4 499M248.4 428.1L248.3 455.5M185.2 442.4L185.7 497.7M224.5 471.5L224.5 475.3M154.4 462.7L155.4 525.6M162.2 434.6L163.3 514M240.4 485.3L240.4 489.4M213.1 504.4L213.1 509M147.8 431.6L149.3 519.6M211.7 475.4L211.8 505.9M207.8 444.8L208 493.6M179.5 449.7L180.2 513.6M253.5 481.5L253.5 485.6M202.8 448.3L203.1 503.2" stroke="#d42424" stroke-width="1.3" fill="none"/><path d="M237.3 355.3h3.6M230.7 356.8h3.6M198.6 367.5h3.6M193.6 384h3.6M256.9 386.2h3.6M217.2 388.4h3.6M211.3 389.6h3.6M252.5 392.1h3.6M281.5 393.6h3.6M244.4 400.2h3.6M223.3 400.5h3.6M225.1 405.8h3.6M137.2 409.1h3.6M147.9 409.8h3.6M155.6 411.7h3.6M173.3 411.7h3.6M292.3 420.5h3.6M141.6 425.3h3.6M284.5 418.8h3.6M134.9 419.3h3.6M121.9 433h3.6M114.4 409.7h3.6M219.7 430.7h3.6M205.4 428.8h3.6M220.1 393.1h3.6M227.8 400.1h3.6M172.2 416.3h3.6M219.2 411.1h3.6M241.3 413.1h3.6M222.2 413h3.6M187.1 398.2h3.6M225.8 417.9h3.6M155.7 449.3h3.6M191.7 427.7h3.6M202.9 400.9h3.6M254.9 435.1h3.6M162.9 414.6h3.6M205.7 403.5h3.6M216.6 406.6h3.6M203.6 406.6h3.6M243 404.4h3.6M234.1 401.7h3.6M179.1 413.7h3.6M204.5 415.9h3.6M178.3 436.3h3.6M224.6 410.4h3.6M223.3 416.3h3.6M225.4 398.1h3.6M221.6 398.6h3.6M201.7 423.6h3.6M217.1 406h3.6M206 436.3h3.6M238 398h3.6M205.9 411.5h3.6M231.8 406.4h3.6M204.2 476.2h3.6M211.4 442.5h3.6M187.5 411.9h3.6M232.3 442.5h3.6M149.9 395.9h3.6M246.6 429.1h3.6M183.4 443.4h3.6M222.7 472.5h3.6M152.6 463.7h3.6M160.4 435.6h3.6M238.6 486.3h3.6M211.3 505.4h3.6M146 432.6h3.6M209.9 476.4h3.6M206 445.8h3.6M177.7 450.7h3.6M251.7 482.5h3.6M201 449.3h3.6M237.7 438.7h2.4M231.2 443.2h2.4M199.7 460.5h2.4M194.7 456.1h2.4M257.1 441h2.4M217.9 475.9h2.4M212.2 483h2.4M252.8 439.6h2.4M281.4 444.7h2.4M244.8 451.7h2.4M223.9 475.1h2.4M225.7 468.6h2.4M139.3 489.2h2.4M150.1 504.8h2.4M157.4 492.8h2.4M174.5 466.9h2.4M292.3 456.6h2.4M143.5 496h2.4M284.6 452h2.4M136.8 485.3h2.4M124.6 523.2h2.4M117.3 500.9h2.4M220.4 490.8h2.4M206.2 482h2.4M220.8 466.3h2.4M228.4 470.8h2.4M173.4 469.3h2.4M219.8 451.9h2.4M241.8 437.2h2.4M222.8 455.6h2.4M188.3 474.1h2.4M226.4 437.4h2.4M156.6 467.1h2.4M192.6 464.6h2.4M203.8 466.9h2.4M255.5 438.9h2.4M164.2 463.6h2.4M206.6 466.2h2.4M217.3 453.7h2.4M204.4 447.9h2.4M243.4 439.2h2.4M234.6 453.1h2.4M180.2 465.2h2.4M205.3 451.4h2.4M179.2 467.5h2.4M225.2 450.9h2.4M223.9 454.8h2.4M226 457.1h2.4M222.2 458.7h2.4M202.4 460.4h2.4M217.8 442.8h2.4M206.8 480.6h2.4M238.5 456h2.4M206.8 482.7h2.4M232.3 456.8h2.4M204.8 484.7h2.4M212.1 484.9h2.4M188.7 484.2h2.4M232.8 469.1h2.4M152.2 499h2.4M247.1 455.5h2.4M184.5 497.7h2.4M223.3 475.3h2.4M154.2 525.6h2.4M162.1 514h2.4M239.2 489.4h2.4M211.9 509h2.4M148.1 519.6h2.4M210.6 505.9h2.4M206.8 493.6h2.4M179 513.6h2.4M252.3 485.6h2.4M201.9 503.2h2.4" stroke="#d42424" stroke-width="1.4" fill="none"/><path d="M42.7 381.7h3M44.2 380.2v3M47 382h3M48.5 380.5v3M55.8 389.5h3M57.3 388v3M42.4 414.3h3M43.9 412.8v3M71.6 433.6h3M73.1 432.1v3M105 413.9h3M106.5 412.4v3M112.3 411.9h3M113.8 410.4v3M63.9 443.5h3M65.4 442v3M108.8 447h3M110.3 445.5v3M83.7 447.1h3M85.2 445.6v3M109.6 431.2h3M111.1 429.7v3M99.2 442.3h3M100.7 440.8v3M61.2 426.4h3M62.7 424.9v3M96 421.8h3M97.5 420.3v3M82.2 429.7h3M83.7 428.2v3M48.3 444.6h3M49.8 443.1v3M147.5 483.1h3M149 481.6v3M76.9 442.7h3M78.4 441.2v3M129.3 482.8h3M130.8 481.3v3M52.6 440.1h3M54.1 438.6v3M104.8 437h3M106.3 435.5v3M64.2 420.3h3M65.7 418.8v3M134.2 461.5h3M135.7 460v3M106.3 462.5h3M107.8 461v3M89.3 425.2h3M90.8 423.7v3M105.8 433.5h3M107.3 432v3M52.4 449.2h3M53.9 447.7v3M58.9 459.6h3M60.4 458.1v3M47.1 477.7h3M48.6 476.2v3M70.1 460.3h3M71.6 458.8v3M74.3 424.7h3M75.8 423.2v3M31.4 482.3h3M32.9 480.8v3M35.4 491.4h3M36.9 489.9v3M60.7 470.3h3M62.2 468.8v3M74.7 433.6h3M76.2 432.1v3M67.6 515.1h3M69.1 513.6v3M32.6 449h3M34.1 447.5v3M75.9 438h3M77.4 436.5v3M60.3 451.3h3M61.8 449.8v3M34.2 453.2h3M35.7 451.7v3M53.2 462.4h3M54.7 460.9v3M76 447h3M77.5 445.5v3M50.1 449.1h3M51.6 447.6v3M43.7 464.7h3M45.2 463.2v3M55.1 477.7h3M56.6 476.2v3M62 460.1h3M63.5 458.6v3M69.5 465.9h3M71 464.4v3M75.7 438h3M77.2 436.5v3M75.3 437.2h3M76.8 435.7v3M61.1 469h3M62.6 467.5v3M35.2 457.9h3M36.7 456.4v3M104.7 473.1h3M106.2 471.6v3M86.2 440.1h3M87.7 438.6v3M107.5 439.8h3M109 438.3v3M82 451.2h3M83.5 449.7v3M111.3 520.8h3M112.8 519.3v3M117.2 479h3M118.7 477.5v3M93.9 437.4h3M95.4 435.9v3M108.5 494.2h3M110 492.7v3M87.8 408.3h3M89.3 406.8v3M95.4 488.5h3M96.9 487v3M114 468.1h3M115.5 466.6v3M111.8 527.8h3M113.3 526.3v3M131.1 471.2h3M132.6 469.7v3M120.3 447.7h3M121.8 446.2v3M150.8 536.3h3M152.3 534.8v3M155.7 537.4h3M157.2 535.9v3M117.4 440.4h3M118.9 438.9v3M149.5 505.6h3M151 504.1v3M126.8 476.6h3M128.3 475.1v3M133.6 466.6h3M135.1 465.1v3M157.3 537.7h3M158.8 536.2v3M137.5 474.2h3M139 472.7v3" stroke="#2a64c8" stroke-width="1.25" fill="none"/><path d="M319.5 356.9h2.8M320.9 355.5v2.8M311.7 358.5h2.8M313.1 357.1v2.8M280.3 370.1h2.8M281.7 368.7v2.8M285.4 388.6h2.8M286.8 387.2v2.8M318.7 388.8h2.8M320.1 387.4v2.8M261.8 390.2h2.8M263.2 388.8v2.8M250.9 391.2h2.8M252.3 389.8v2.8M319.8 395.5h2.8M321.2 394.1v2.8M317 394.9h2.8M318.4 393.5v2.8M300.8 403.3h2.8M302.2 401.9v2.8M264.1 402.5h2.8M265.5 401.1v2.8M273.4 408.6h2.8M274.8 407.2v2.8M225.6 416h2.8M227 414.6v2.8M206.8 414.1h2.8M208.2 412.7v2.8M225 417h2.8M226.4 415.6v2.8M265.4 418.9h2.8M266.8 417.5v2.8M301.8 420.3h2.8M303.2 418.9v2.8M217.2 432.3h2.8M218.6 430.9v2.8M306.8 419.7h2.8M308.2 418.3v2.8M230.5 427.9h2.8M231.9 426.5v2.8M175.7 438.2h2.8M177.1 436.8v2.8M203.6 417h2.8M205 415.6v2.8M242 432h2.8M243.4 430.6v2.8M250.8 432.5h2.8M252.2 431.1v2.8M275.9 395.9h2.8M277.3 394.5v2.8M271 402.3h2.8M272.4 400.9v2.8M261.7 423.7h2.8M263.1 422.3v2.8M296 416.6h2.8M297.4 415.2v2.8M321 418.8h2.8M322.4 417.4v2.8M291.2 417.9h2.8M292.6 416.5v2.8M258.2 402.6h2.8M259.6 401.2v2.8M318.2 425.2h2.8M319.6 423.8v2.8M260.8 461.9h2.8M262.2 460.5v2.8M272.3 435.1h2.8M273.7 433.7v2.8M271.5 405.1h2.8M272.9 403.7v2.8M320.3 440.9h2.8M321.7 439.5v2.8M267.9 423.4h2.8M269.3 422v2.8M273.1 407.8h2.8M274.5 406.4v2.8M292.9 411.8h2.8M294.3 410.4v2.8M299 413.4h2.8M300.4 412v2.8M318.7 409.2h2.8M320.1 407.8v2.8M297.1 405.4h2.8M298.5 404v2.8M269 420.9h2.8M270.4 419.5v2.8M293.9 423h2.8M295.3 421.6v2.8M265.2 445.2h2.8M266.6 443.8v2.8M298.4 415.6h2.8M299.8 414.2v2.8M292.5 421.5h2.8M293.9 420.1v2.8M289.9 401.8h2.8M291.3 400.4v2.8M286.9 402.3h2.8M288.3 400.9v2.8M280.2 430.3h2.8M281.6 428.9v2.8M309 412.4h2.8M310.4 411v2.8M252.7 440.4h2.8M254.1 439v2.8M293.7 400.9h2.8M295.1 399.5v2.8M250.1 414.3h2.8M251.5 412.9v2.8M291.2 410.1h2.8M292.6 408.7v2.8M246.6 481.5h2.8M248 480.1v2.8M248 445.7h2.8M249.4 444.3v2.8M244 415.9h2.8M245.4 414.5v2.8M273.7 446.2h2.8M275.1 444.8v2.8M215.2 399.9h2.8M216.6 398.5v2.8M295.5 432.9h2.8M296.9 431.5v2.8M224.7 447.3h2.8M226.1 445.9v2.8M263 477.2h2.8M264.4 475.8v2.8M180.8 466.7h2.8M182.2 465.3v2.8M197.6 438.9h2.8M199 437.5v2.8M247.5 486.6h2.8M248.9 485.2v2.8M216.3 505.3h2.8M217.7 503.9v2.8M186.7 436.1h2.8M188.1 434.7v2.8M220 476.8h2.8M221.4 475.4v2.8M235.2 448.2h2.8M236.6 446.8v2.8M202.4 452.8h2.8M203.8 451.4v2.8M255.1 482h2.8M256.5 480.6v2.8M221.5 450.8h2.8M222.9 449.4v2.8" stroke="#1b6848" stroke-width="1.1" fill="none"/></g>
<polyline points="161.8,529.6 159.3,524.8 156.7,520.1 154.2,515.5 151.7,511 149.2,506.7 146.7,502.4 144.2,498.3 141.7,494.3 139.3,490.4 136.8,486.6 134.4,482.9 131.9,479.3 129.5,475.9 127.1,472.5 124.7,469.3 122.3,466.2 119.9,463.2 117.6,460.3 115.2,457.5 112.9,454.8 110.5,452.2 108.2,449.7 105.9,447.4 103.6,445.1 101.3,443 99,440.9 96.8,439 94.5,437.2 92.3,435.4 90,433.8 87.8,432.3 85.6,430.9 83.4,429.5 81.2,428.3 79.1,427.2 76.9,426.2 74.8,425.3 72.7,424.5 70.5,423.8 68.4,423.1 66.3,422.6 64.3,422.2 62.2,421.9 60.1,421.6 58.1,421.5 56.1,421.5 54.1,421.5 52.1,421.7 50.1,421.9 48.1,422.2 46.1,422.6 44.2,423.2 42.2,423.8 40.3,424.4 38.4,425.2 36.5,426.1 34.6,427 32.8,428.1 30.9,429.2" fill="none" stroke="#2472e0" stroke-width="2.3" stroke-linecap="round"/>
<polyline points="161,429.2 168.5,427.7 175.7,426.4 182.6,425.1 189.3,423.8 195.7,422.6 201.9,421.4 207.9,420.3 213.7,419.2 219.2,418.1 224.6,417.1 229.8,416.1 234.8,415.2 239.7,414.3 244.4,413.4 248.9,412.5 253.4,411.7 257.6,410.9 261.8,410.1 265.8,409.3 269.8,408.6 273.6,407.9 277.3,407.2 280.9,406.5 284.4,405.9 287.8,405.2 291.1,404.6 294.3,404 297.4,403.4 300.5,402.9 303.5,402.3 306.4,401.8 309.2,401.2 312,400.7 314.7,400.2 317.3,399.7 319.9,399.3 322.4,398.8 324.9,398.4 327.3,397.9" fill="none" stroke="#1a6e4e" stroke-width="2.2" stroke-linecap="round"/>
<text x="178" y="562" text-anchor="middle" font-family="Liberation Serif" font-weight="bold" font-size="15.7">(3) March</text>
<rect x="398.4" y="295.3" width="341.2" height="249.3" fill="#ECE9D8"/>
<line x1="552.2" y1="542.2" x2="549.9" y2="318.3" stroke="#86857d" stroke-width="1"/>
<line x1="523.5" y1="535.7" x2="519.9" y2="318.2" stroke="#86857d" stroke-width="1"/>
<line x1="496.4" y1="529.5" x2="491.6" y2="318.1" stroke="#86857d" stroke-width="1"/>
<line x1="470.8" y1="523.7" x2="465" y2="318.1" stroke="#86857d" stroke-width="1"/>
<line x1="446.6" y1="518.2" x2="439.8" y2="318" stroke="#86857d" stroke-width="1"/>
<line x1="423.6" y1="512.9" x2="416" y2="318" stroke="#86857d" stroke-width="1"/>
<line x1="552.2" y1="542.2" x2="423.6" y2="512.9" stroke="#86857d" stroke-width="1"/>
<line x1="551.8" y1="506.4" x2="422.4" y2="481.6" stroke="#86857d" stroke-width="1"/>
<line x1="551.4" y1="470" x2="421.2" y2="449.8" stroke="#86857d" stroke-width="1"/>
<line x1="551.1" y1="433" x2="419.9" y2="417.6" stroke="#86857d" stroke-width="1"/>
<line x1="550.7" y1="395.4" x2="418.6" y2="384.8" stroke="#86857d" stroke-width="1"/>
<line x1="550.3" y1="357.2" x2="417.3" y2="351.6" stroke="#86857d" stroke-width="1"/>
<line x1="549.9" y1="318.3" x2="416" y2="318" stroke="#86857d" stroke-width="1"/>
<line x1="552.2" y1="542.2" x2="549.9" y2="318.3" stroke="#86857d" stroke-width="1"/>
<line x1="572.2" y1="530.1" x2="571" y2="318" stroke="#86857d" stroke-width="1"/>
<line x1="590.2" y1="519.3" x2="589.9" y2="317.8" stroke="#86857d" stroke-width="1"/>
<line x1="606.5" y1="509.5" x2="606.9" y2="317.6" stroke="#86857d" stroke-width="1"/>
<line x1="621.3" y1="500.5" x2="622.3" y2="317.5" stroke="#86857d" stroke-width="1"/>
<line x1="634.7" y1="492.4" x2="636.3" y2="317.3" stroke="#86857d" stroke-width="1"/>
<line x1="647.1" y1="484.9" x2="649" y2="317.2" stroke="#86857d" stroke-width="1"/>
<line x1="658.5" y1="478.1" x2="660.7" y2="317.1" stroke="#86857d" stroke-width="1"/>
<line x1="669" y1="471.7" x2="671.5" y2="316.9" stroke="#86857d" stroke-width="1"/>
<line x1="678.7" y1="465.9" x2="681.4" y2="316.8" stroke="#86857d" stroke-width="1"/>
<line x1="687.7" y1="460.4" x2="690.7" y2="316.7" stroke="#86857d" stroke-width="1"/>
<line x1="696.1" y1="455.4" x2="699.2" y2="316.6" stroke="#86857d" stroke-width="1"/>
<line x1="703.9" y1="450.6" x2="707.2" y2="316.5" stroke="#86857d" stroke-width="1"/>
<line x1="711.3" y1="446.2" x2="714.6" y2="316.5" stroke="#86857d" stroke-width="1"/>
<line x1="718.1" y1="442.1" x2="721.5" y2="316.4" stroke="#86857d" stroke-width="1"/>
<line x1="552.2" y1="542.2" x2="718.1" y2="442.1" stroke="#86857d" stroke-width="1"/>
<line x1="551.8" y1="506.4" x2="718.7" y2="421.6" stroke="#86857d" stroke-width="1"/>
<line x1="551.4" y1="470" x2="719.3" y2="400.9" stroke="#86857d" stroke-width="1"/>
<line x1="551.1" y1="433" x2="719.8" y2="380.1" stroke="#86857d" stroke-width="1"/>
<line x1="550.7" y1="395.4" x2="720.4" y2="359.1" stroke="#86857d" stroke-width="1"/>
<line x1="550.3" y1="357.2" x2="721" y2="337.8" stroke="#86857d" stroke-width="1"/>
<line x1="549.9" y1="318.3" x2="721.5" y2="316.4" stroke="#86857d" stroke-width="1"/>
<line x1="552.2" y1="542.2" x2="423.6" y2="512.9" stroke="#86857d" stroke-width="1"/>
<line x1="572.2" y1="530.1" x2="447.1" y2="503.7" stroke="#86857d" stroke-width="1"/>
<line x1="590.2" y1="519.3" x2="468.6" y2="495.3" stroke="#86857d" stroke-width="1"/>
<line x1="606.5" y1="509.5" x2="488.2" y2="487.6" stroke="#86857d" stroke-width="1"/>
<line x1="621.3" y1="500.5" x2="506.2" y2="480.5" stroke="#86857d" stroke-width="1"/>
<line x1="634.7" y1="492.4" x2="522.8" y2="474" stroke="#86857d" stroke-width="1"/>
<line x1="647.1" y1="484.9" x2="538.1" y2="468" stroke="#86857d" stroke-width="1"/>
<line x1="658.5" y1="478.1" x2="552.3" y2="462.4" stroke="#86857d" stroke-width="1"/>
<line x1="669" y1="471.7" x2="565.6" y2="457.2" stroke="#86857d" stroke-width="1"/>
<line x1="678.7" y1="465.9" x2="577.9" y2="452.4" stroke="#86857d" stroke-width="1"/>
<line x1="687.7" y1="460.4" x2="589.4" y2="447.8" stroke="#86857d" stroke-width="1"/>
<line x1="696.1" y1="455.4" x2="600.2" y2="443.6" stroke="#86857d" stroke-width="1"/>
<line x1="703.9" y1="450.6" x2="610.4" y2="439.6" stroke="#86857d" stroke-width="1"/>
<line x1="711.3" y1="446.2" x2="619.9" y2="435.9" stroke="#86857d" stroke-width="1"/>
<line x1="718.1" y1="442.1" x2="628.9" y2="432.4" stroke="#86857d" stroke-width="1"/>
<line x1="552.2" y1="542.2" x2="718.1" y2="442.1" stroke="#86857d" stroke-width="1"/>
<line x1="523.5" y1="535.7" x2="699.1" y2="440" stroke="#86857d" stroke-width="1"/>
<line x1="496.4" y1="529.5" x2="680.7" y2="438" stroke="#86857d" stroke-width="1"/>
<line x1="470.8" y1="523.7" x2="662.9" y2="436.1" stroke="#86857d" stroke-width="1"/>
<line x1="446.6" y1="518.2" x2="645.6" y2="434.2" stroke="#86857d" stroke-width="1"/>
<line x1="423.6" y1="512.9" x2="628.9" y2="432.4" stroke="#86857d" stroke-width="1"/>
<line x1="628.9" y1="432.4" x2="629.8" y2="311.3" stroke="#000" stroke-width="1"/>
<polygon points="629.8,307.3 633.7,316.9 629.8,313.8 625.7,316.8" fill="#000"/>
<line x1="628.9" y1="432.4" x2="417.6" y2="515.3" stroke="#111" stroke-width="0.9"/>
<polygon points="412.9,517.1 421.9,508.5 420.2,514.3 425.4,517.4" fill="#000"/>
<line x1="628.9" y1="432.4" x2="722.9" y2="442.6" stroke="#111" stroke-width="0.9"/>
<polygon points="726.9,443 717,445.9 720.5,442.3 717.9,438.1" fill="#000"/>
<path d="M626.9 296.7H632.3L626.9 303.7H632.3M402.7 514.9L408.1 521.9M408.1 514.9L402.7 521.9M730 439L733 442.9L736 439M733 442.9V446.4" stroke="#3a3a3a" stroke-width="1" fill="none"/>
<path d="M456.7 318.2L462.9 521.9M589.4 326.1L589.6 464.8M634.6 341.8L633.5 481.9M595.4 344L595.5 464.1M569.8 347.4L570.5 472.9M676.4 356.2L674.5 460.6M615.7 357.2L615.3 464.8M539.4 357.8L541.1 495M662.2 358.2L660.6 470.2M669.8 359.2L668.3 456.2M608.3 360.2L608 456M644.3 360.3L643 480.5M640.3 362.1L639.4 460.6M659.3 362.1L657.7 478.3M585.7 363.1L586 470.7M575.6 364.6L576 453M557.7 365.5L558.8 486.9M553.9 366.5L555.1 493.5M620.4 367.6L619.9 469.4M480.4 371L484.2 517.8M626.8 375.3L626.1 477.5M526.4 380.9L528 484M652.2 382.1L651.1 467.9M701.5 383.9L700.3 439.2M689.8 384.2L688.5 448.1M532.4 386.6L533.9 489.1M533.4 388.5L535.3 526.7M567.4 390.5L568 495M520.5 390.8L522.1 489.1M548.8 393L550 508.3M582.7 393L583 482.5M600 393L599.9 466.3M677 399.6L676 451.7M528.2 400.4L529.9 509.7M685.8 400.4L684.8 451M665.8 400.4L665 451M556.4 402.9L557.3 501.6M493.7 404L495.8 499.2M484.8 406.5L487.7 523.3M694.5 407L693.7 443.6M454.7 408.4L458.2 517.1M544.3 410.3L545.1 481.7M510.4 410.3L512.4 514.9M518.2 419.3L519.7 506M500.9 427L503.2 531.1M473.4 428.5L476.1 524.5" stroke="#f0a0a0" stroke-width="3" stroke-opacity="0.55" fill="none"/>
<path d="M456.7 318.2L462.9 521.9M589.4 326.1L589.6 464.8M634.6 341.8L633.5 481.9M595.4 344L595.5 464.1M569.8 347.4L570.5 472.9M676.4 356.2L674.5 460.6M615.7 357.2L615.3 464.8M539.4 357.8L541.1 495M662.2 358.2L660.6 470.2M669.8 359.2L668.3 456.2M608.3 360.2L608 456M644.3 360.3L643 480.5M640.3 362.1L639.4 460.6M659.3 362.1L657.7 478.3M585.7 363.1L586 470.7M575.6 364.6L576 453M557.7 365.5L558.8 486.9M553.9 366.5L555.1 493.5M620.4 367.6L619.9 469.4M480.4 371L484.2 517.8M626.8 375.3L626.1 477.5M526.4 380.9L528 484M652.2 382.1L651.1 467.9M701.5 383.9L700.3 439.2M689.8 384.2L688.5 448.1M532.4 386.6L533.9 489.1M533.4 388.5L535.3 526.7M567.4 390.5L568 495M520.5 390.8L522.1 489.1M548.8 393L550 508.3M582.7 393L583 482.5M600 393L599.9 466.3M677 399.6L676 451.7M528.2 400.4L529.9 509.7M685.8 400.4L684.8 451M665.8 400.4L665 451M556.4 402.9L557.3 501.6M493.7 404L495.8 499.2M484.8 406.5L487.7 523.3M694.5 407L693.7 443.6M454.7 408.4L458.2 517.1M544.3 410.3L545.1 481.7M510.4 410.3L512.4 514.9M518.2 419.3L519.7 506M500.9 427L503.2 531.1M473.4 428.5L476.1 524.5" stroke="#d42424" stroke-width="1.3" fill="none"/>
<path d="M454.9 319.2h3.6M587.6 327.1h3.6M632.8 342.8h3.6M593.6 345h3.6M568 348.4h3.6M674.6 357.2h3.6M613.9 358.2h3.6M537.6 358.8h3.6M660.4 359.2h3.6M668 360.2h3.6M606.5 361.2h3.6M642.5 361.3h3.6M638.5 363.1h3.6M657.5 363.1h3.6M583.9 364.1h3.6M573.8 365.6h3.6M555.9 366.5h3.6M552.1 367.5h3.6M618.6 368.6h3.6M478.6 372h3.6M625 376.3h3.6M524.6 381.9h3.6M650.4 383.1h3.6M699.7 384.9h3.6M688 385.2h3.6M530.6 387.6h3.6M531.6 389.5h3.6M565.6 391.5h3.6M518.7 391.8h3.6M547 394h3.6M580.9 394h3.6M598.2 394h3.6M675.2 400.6h3.6M526.4 401.4h3.6M684 401.4h3.6M664 401.4h3.6M554.6 403.9h3.6M491.9 405h3.6M483 407.5h3.6M692.7 408h3.6M452.9 409.4h3.6M542.5 411.3h3.6M508.6 411.3h3.6M516.4 420.3h3.6M499.1 428h3.6M471.6 429.5h3.6M461.7 521.9h2.4M588.4 464.8h2.4M632.3 481.9h2.4M594.3 464.1h2.4M569.3 472.9h2.4M673.3 460.6h2.4M614.1 464.8h2.4M539.9 495h2.4M659.4 470.2h2.4M667.1 456.2h2.4M606.8 456h2.4M641.8 480.5h2.4M638.2 460.6h2.4M656.5 478.3h2.4M584.8 470.7h2.4M574.8 453h2.4M557.6 486.9h2.4M553.9 493.5h2.4M618.7 469.4h2.4M483 517.8h2.4M624.9 477.5h2.4M526.8 484h2.4M649.9 467.9h2.4M699.1 439.2h2.4M687.3 448.1h2.4M532.7 489.1h2.4M534.1 526.7h2.4M566.8 495h2.4M520.9 489.1h2.4M548.8 508.3h2.4M581.8 482.5h2.4M598.7 466.3h2.4M674.8 451.7h2.4M528.7 509.7h2.4M683.6 451h2.4M663.8 451h2.4M556.1 501.6h2.4M494.6 499.2h2.4M486.5 523.3h2.4M692.5 443.6h2.4M457 517.1h2.4M543.9 481.7h2.4M511.2 514.9h2.4M518.5 506h2.4M502 531.1h2.4M474.9 524.5h2.4" stroke="#d42424" stroke-width="1.4" fill="none"/>
<path d="M455.2 318.2h3M456.7 316.7v3M454 330.8h3M455.5 329.3v3M530 351.5h3M531.5 350v3M458.8 356.1h3M460.3 354.6v3M454.2 357.9h3M455.7 356.4v3M534.2 379.6h3M535.7 378.1v3M480 375.6h3M481.5 374.1v3M470.8 365.3h3M472.3 363.8v3M537.2 378.5h3M538.7 377v3M518.2 385.2h3M519.7 383.7v3M454.1 382.1h3M455.6 380.6v3M537.4 377.4h3M538.9 375.9v3M496 385.8h3M497.5 384.3v3M548.6 381.5h3M550.1 380v3M464.3 380.1h3M465.8 378.6v3M416.9 387h3M418.4 385.5v3M471.3 377.3h3M472.8 375.8v3M479.8 376.6h3M481.3 375.1v3M494 389.2h3M495.5 387.7v3M465.3 372.7h3M466.8 371.2v3M515.6 397.5h3M517.1 396v3M441.2 394.7h3M442.7 393.2v3M523.3 413.2h3M524.8 411.7v3M520 438.9h3M521.5 437.4v3M525.3 431.8h3M526.8 430.3v3M455.5 400.4h3M457 398.9v3M516.1 391.5h3M517.6 390v3M493.9 405.6h3M495.4 404.1v3M446.4 404.4h3M447.9 402.9v3M500.6 402.7h3M502.1 401.2v3M485.1 414.8h3M486.6 413.3v3M469.6 423.8h3M471.1 422.3v3M518.8 452.6h3M520.3 451.1v3M487.2 408.9h3M488.7 407.4v3M527.5 455.8h3M529 454.3v3M504.7 452.5h3M506.2 451v3M496.1 416.8h3M497.6 415.3v3M444.7 413.8h3M446.2 412.3v3M477.1 407.8h3M478.6 406.3v3M522.4 474.3h3M523.9 472.8v3M447.4 409.6h3M448.9 408.1v3M452 432.9h3M453.5 431.4v3M482.4 416.4h3M483.9 414.9v3M474.2 430.2h3M475.7 428.7v3M499.5 427h3M501 425.5v3M471.4 428.6h3M472.9 427.1v3" stroke="#2a64c8" stroke-width="1.25" fill="none"/>
<path d="M548.5 318.4h2.8M549.9 317v2.8M663.7 326.8h2.8M665.1 325.4v2.8M648.6 342.2h2.8M650 340.8v2.8M665.7 345.9h2.8M667.1 344.5v2.8M647.5 349.9h2.8M648.9 348.5v2.8M685.8 356.6h2.8M687.2 355.2v2.8M668.5 359.3h2.8M669.9 357.9v2.8M608.7 360.8h2.8M610.1 359.4v2.8M669.9 358.5h2.8M671.3 357.1v2.8M690.8 360.1h2.8M692.2 358.7v2.8M679.8 363.3h2.8M681.2 361.9v2.8M652.3 360.7h2.8M653.7 359.3v2.8M679.2 363.8h2.8M680.6 362.4v2.8M658.2 362.2h2.8M659.6 360.8v2.8M653.8 366.3h2.8M655.2 364.9v2.8M677.8 369.5h2.8M679.2 368.1v2.8M624.5 368.9h2.8M625.9 367.5v2.8M614.3 369.6h2.8M615.7 368.2v2.8M662.8 369.8h2.8M664.2 368.4v2.8M561.2 375.9h2.8M562.6 374.5v2.8M652.7 376.9h2.8M654.1 375.5v2.8M621 387.3h2.8M622.4 385.9v2.8M670.8 383.3h2.8M672.2 381.9v2.8M719.6 385.1h2.8M721 383.7v2.8M705.1 385.3h2.8M706.5 383.9v2.8M615.1 392.8h2.8M616.5 391.4v2.8M564.3 390.9h2.8M565.7 389.5v2.8M615.3 394.1h2.8M616.7 392.7v2.8M612.1 398.1h2.8M613.5 396.7v2.8M592.7 396.5h2.8M594.1 395.1v2.8M636.1 397.1h2.8M637.5 395.7v2.8M662.7 397.7h2.8M664.1 396.3v2.8M697.6 401.3h2.8M699 399.9v2.8M585.5 405.5h2.8M586.9 404.1v2.8M700 401.6h2.8M701.4 400.2v2.8M696.7 402.9h2.8M698.1 401.5v2.8M603.6 407.1h2.8M605 405.7v2.8M590.7 413.3h2.8M592.1 411.9v2.8M555.1 413.6h2.8M556.5 412.2v2.8M711.7 408.5h2.8M713.1 407.1v2.8M554.6 418.9h2.8M556 417.5v2.8M628.3 418.4h2.8M629.7 417v2.8M573.7 416.7h2.8M575.1 415.3v2.8M587.8 427h2.8M589.2 425.6v2.8M549.6 432.9h2.8M551 431.5v2.8M550.2 438.1h2.8M551.6 436.7v2.8" stroke="#1b6848" stroke-width="1.1" fill="none"/>
<g opacity="0.6"><path d="M629.2 343.8L628.5 447.4M623.2 344L622.7 435M591.3 346.9L591.4 448.7M629.2 354.2L628.6 438.8M630 355.5L629.4 433.7M639.9 370.2L639.2 442.6M649.5 371.7L648.6 447.3M570.7 373.4L571.2 456.3M674.2 376.1L673 444M558.4 380.8L559.2 476.9M645 381.2L644.3 449.9M604.1 381.3L604 442.7M609.3 381.3L609.1 467.6M585.7 384.2L585.9 475.6M655.1 387.1L654.4 442.9M540 393.3L541.1 485M615.9 394.1L615.6 470.5M534.4 397.7L535.9 507.7M690.4 401.9L689.6 442.4M565.8 402.2L566.4 494.5M600.4 403.3L600.3 467.8M700.3 412.2L699.4 453.3M710.6 432L710.2 446.8M582.1 455.6L582.3 498.2M514.6 468.2L515.6 521.5M507.2 440.7L508.4 499.4M611.8 414.8L611.6 489.8M597.4 415.9L597.4 481M612.3 403.5L612.1 465.5M620 410.4L619.7 470M560.5 413.6L560.9 465.2M628.3 397.7L627.9 448.8M581.2 404L581.4 461.8M583.2 398.4L583.4 457.3M603.6 403.3L603.5 450.1M642.3 396.4L641.9 437.6M642.7 404.6L642.4 437.2M610.5 424.6L610.5 440.2M626.5 407.3L626.3 437.3M602.2 401L602.1 450.2M584.9 404.8L585.1 470.1M578.9 405.6L579.1 467.9M558.9 411.7L559.4 466.9M607.2 396.2L607.1 448M596 407.5L596 456.4M563.2 398.7L563.8 471.7M631.4 411.4L631.1 447.1M623.2 393.7L622.9 436.2M611.8 400.8L611.6 456.8M625 404.9L624.7 446M603.3 398.5L603.2 458.9M556.4 396.5L556.9 461.1M580.8 402.1L581.1 472M580.6 416L580.8 462M640.8 401L640.4 439.9M627 411.9L626.7 459.6M599.8 402.7L599.7 466.2M601.4 423.4L601.4 478.3M611.7 470.7L611.7 474.5M629.6 393.8L629.2 459.9M649.9 409.1L649.3 459.2M629.6 412.7L629.2 461.5M594.4 449.3L594.5 483.4M574.1 423.8L574.5 497.5M614.9 410.2L614.7 465.4M580 401.6L580.3 474.1M622.8 434.3L622.6 469.5M570.4 419.8L570.9 505.5M585 426.7L585.2 505.7M616 477.1L615.9 496.8M614.6 473.7L614.5 502.1M621.4 451.5L621.2 494.6M565.3 482.5L565.6 526.5M569 460.7L569.4 518M590.9 487.9L590.9 511.4M600.5 481.1L600.5 509.4M559.1 444.8L559.7 513.9" stroke="#f0a0a0" stroke-width="3" stroke-opacity="0.55" fill="none"/><path d="M629.2 343.8L628.5 447.4M623.2 344L622.7 435M591.3 346.9L591.4 448.7M629.2 354.2L628.6 438.8M630 355.5L629.4 433.7M639.9 370.2L639.2 442.6M649.5 371.7L648.6 447.3M570.7 373.4L571.2 456.3M674.2 376.1L673 444M558.4 380.8L559.2 476.9M645 381.2L644.3 449.9M604.1 381.3L604 442.7M609.3 381.3L609.1 467.6M585.7 384.2L585.9 475.6M655.1 387.1L654.4 442.9M540 393.3L541.1 485M615.9 394.1L615.6 470.5M534.4 397.7L535.9 507.7M690.4 401.9L689.6 442.4M565.8 402.2L566.4 494.5M600.4 403.3L600.3 467.8M700.3 412.2L699.4 453.3M710.6 432L710.2 446.8M582.1 455.6L582.3 498.2M514.6 468.2L515.6 521.5M507.2 440.7L508.4 499.4M611.8 414.8L611.6 489.8M597.4 415.9L597.4 481M612.3 403.5L612.1 465.5M620 410.4L619.7 470M560.5 413.6L560.9 465.2M628.3 397.7L627.9 448.8M581.2 404L581.4 461.8M583.2 398.4L583.4 457.3M603.6 403.3L603.5 450.1M642.3 396.4L641.9 437.6M642.7 404.6L642.4 437.2M610.5 424.6L610.5 440.2M626.5 407.3L626.3 437.3M602.2 401L602.1 450.2M584.9 404.8L585.1 470.1M578.9 405.6L579.1 467.9M558.9 411.7L559.4 466.9M607.2 396.2L607.1 448M596 407.5L596 456.4M563.2 398.7L563.8 471.7M631.4 411.4L631.1 447.1M623.2 393.7L622.9 436.2M611.8 400.8L611.6 456.8M625 404.9L624.7 446M603.3 398.5L603.2 458.9M556.4 396.5L556.9 461.1M580.8 402.1L581.1 472M580.6 416L580.8 462M640.8 401L640.4 439.9M627 411.9L626.7 459.6M599.8 402.7L599.7 466.2M601.4 423.4L601.4 478.3M611.7 470.7L611.7 474.5M629.6 393.8L629.2 459.9M649.9 409.1L649.3 459.2M629.6 412.7L629.2 461.5M594.4 449.3L594.5 483.4M574.1 423.8L574.5 497.5M614.9 410.2L614.7 465.4M580 401.6L580.3 474.1M622.8 434.3L622.6 469.5M570.4 419.8L570.9 505.5M585 426.7L585.2 505.7M616 477.1L615.9 496.8M614.6 473.7L614.5 502.1M621.4 451.5L621.2 494.6M565.3 482.5L565.6 526.5M569 460.7L569.4 518M590.9 487.9L590.9 511.4M600.5 481.1L600.5 509.4M559.1 444.8L559.7 513.9" stroke="#d42424" stroke-width="1.3" fill="none"/><path d="M627.4 344.8h3.6M621.4 345h3.6M589.5 347.9h3.6M627.4 355.2h3.6M628.2 356.5h3.6M638.1 371.2h3.6M647.7 372.7h3.6M568.9 374.4h3.6M672.4 377.1h3.6M556.6 381.8h3.6M643.2 382.2h3.6M602.3 382.3h3.6M607.5 382.3h3.6M583.9 385.2h3.6M653.3 388.1h3.6M538.2 394.3h3.6M614.1 395.1h3.6M532.6 398.7h3.6M688.6 402.9h3.6M564 403.2h3.6M598.6 404.3h3.6M698.5 413.2h3.6M708.8 433h3.6M580.3 456.6h3.6M512.8 469.2h3.6M505.4 441.7h3.6M610 415.8h3.6M595.6 416.9h3.6M610.5 404.5h3.6M618.2 411.4h3.6M558.7 414.6h3.6M626.5 398.7h3.6M579.4 405h3.6M581.4 399.4h3.6M601.8 404.3h3.6M640.5 397.4h3.6M640.9 405.6h3.6M608.7 425.6h3.6M624.7 408.3h3.6M600.4 402h3.6M583.1 405.8h3.6M577.1 406.6h3.6M557.1 412.7h3.6M605.4 397.2h3.6M594.2 408.5h3.6M561.4 399.7h3.6M629.6 412.4h3.6M621.4 394.7h3.6M610 401.8h3.6M623.2 405.9h3.6M601.5 399.5h3.6M554.6 397.5h3.6M579 403.1h3.6M578.8 417h3.6M639 402h3.6M625.2 412.9h3.6M598 403.7h3.6M599.6 424.4h3.6M609.9 471.7h3.6M627.8 394.8h3.6M648.1 410.1h3.6M627.8 413.7h3.6M592.6 450.3h3.6M572.3 424.8h3.6M613.1 411.2h3.6M578.2 402.6h3.6M621 435.3h3.6M568.6 420.8h3.6M583.2 427.7h3.6M614.2 478.1h3.6M612.8 474.7h3.6M619.6 452.5h3.6M563.5 483.5h3.6M567.2 461.7h3.6M589.1 488.9h3.6M598.7 482.1h3.6M557.3 445.8h3.6M627.3 447.4h2.4M621.5 435h2.4M590.2 448.7h2.4M627.4 438.8h2.4M628.2 433.7h2.4M638 442.6h2.4M647.4 447.3h2.4M570 456.3h2.4M671.8 444h2.4M558 476.9h2.4M643.1 449.9h2.4M602.8 442.7h2.4M607.9 467.6h2.4M584.7 475.6h2.4M653.2 442.9h2.4M539.9 485h2.4M614.4 470.5h2.4M534.7 507.7h2.4M688.4 442.4h2.4M565.2 494.5h2.4M599.1 467.8h2.4M698.2 453.3h2.4M709 446.8h2.4M581.1 498.2h2.4M514.4 521.5h2.4M507.2 499.4h2.4M610.4 489.8h2.4M596.2 481h2.4M610.9 465.5h2.4M618.5 470h2.4M559.7 465.2h2.4M626.7 448.8h2.4M580.2 461.8h2.4M582.2 457.3h2.4M602.3 450.1h2.4M640.7 437.6h2.4M641.2 437.2h2.4M609.3 440.2h2.4M625.1 437.3h2.4M600.9 450.2h2.4M583.9 470.1h2.4M577.9 467.9h2.4M558.2 466.9h2.4M605.9 448h2.4M594.8 456.4h2.4M562.6 471.7h2.4M629.9 447.1h2.4M621.7 436.2h2.4M610.4 456.8h2.4M623.5 446h2.4M602 458.9h2.4M555.7 461.1h2.4M579.9 472h2.4M579.6 462h2.4M639.2 439.9h2.4M625.5 459.6h2.4M598.5 466.2h2.4M600.2 478.3h2.4M610.5 474.5h2.4M628 459.9h2.4M648.1 459.2h2.4M628 461.5h2.4M593.3 483.4h2.4M573.3 497.5h2.4M613.5 465.4h2.4M579.1 474.1h2.4M621.4 469.5h2.4M569.7 505.5h2.4M584 505.7h2.4M614.7 496.8h2.4M613.3 502.1h2.4M620 494.6h2.4M564.4 526.5h2.4M568.2 518h2.4M589.7 511.4h2.4M599.3 509.4h2.4M558.5 513.9h2.4" stroke="#d42424" stroke-width="1.4" fill="none"/><path d="M454.5 360.9h3M456 359.4v3M416.8 364h3M418.3 362.5v3M420.1 363.3h3M421.6 361.8v3M433.8 380.1h3M435.3 378.6v3M421.4 384.1h3M422.9 382.6v3M455.7 405.5h3M457.2 404v3M477.1 406.8h3M478.6 405.3v3M420.6 397.9h3M422.1 396.4v3M497.6 418.5h3M499.1 417v3M453.5 399.4h3M455 397.9v3M478.9 419.9h3M480.4 418.4v3M420 418.9h3M421.5 417.4v3M480.4 408h3M481.9 406.5v3M474.5 406.5h3M476 405v3M473.9 434.8h3M475.4 433.3v3M454.2 410.4h3M455.7 408.9v3M492.9 425h3M494.4 423.5v3M488.7 407h3M490.2 405.5v3M514.6 465.7h3M516.1 464.2v3M492 419.7h3M493.5 418.2v3M473.3 437.3h3M474.8 435.8v3M549.8 475.8h3M551.3 474.3v3M550.3 517.3h3M551.8 515.8v3M512.6 483.3h3M514.1 481.8v3M495.9 474.6h3M497.4 473.1v3M455.6 455.7h3M457.1 454.2v3M524 442.1h3M525.5 440.6v3M496 446.4h3M497.5 444.9v3M480 440.3h3M481.5 438.8v3M496.3 448.4h3M497.8 446.9v3M432.9 447.6h3M434.4 446.1v3M459.7 443.9h3M461.2 442.4v3M443.6 439h3M445.1 437.5v3M435.3 434h3M436.8 432.5v3M438.4 448.1h3M439.9 446.6v3M447.6 451.6h3M449.1 450.1v3M447.5 465.6h3M449 464.1v3M422.8 489.1h3M424.3 487.6v3M430.7 467h3M432.2 465.5v3M437.3 444.3h3M438.8 442.8v3M464 436.2h3M465.5 434.7v3M454.2 437.7h3M455.7 436.2v3M435.1 443.9h3M436.6 442.4v3M436.6 439.3h3M438.1 437.8v3M445.5 449.1h3M447 447.6v3M447.9 424.9h3M449.4 423.4v3M459.7 466.8h3M461.2 465.3v3M423.6 445.1h3M425.1 443.6v3M461.3 441.4h3M462.8 439.9v3M450.2 456.4h3M451.7 454.9v3M457.5 435.8h3M459 434.3v3M419.8 426.2h3M421.3 424.7v3M464 431.1h3M465.5 429.6v3M444 455.3h3M445.5 453.8v3M451.9 457.3h3M453.4 455.8v3M482.6 458.1h3M484.1 456.6v3M469.5 437.2h3M471 435.7v3M495 458.3h3M496.5 456.8v3M499 525.4h3M500.5 523.9v3M485.1 431.8h3M486.6 430.3v3M505 457.6h3M506.5 456.1v3M489 458.3h3M490.5 456.8v3M498.4 487.3h3M499.9 485.8v3M504.2 444.9h3M505.7 443.4v3M482.6 450.1h3M484.1 448.6v3M467.4 429.3h3M468.9 427.8v3M498.9 482.2h3M500.4 480.7v3M513.6 436h3M515.1 434.5v3M526.1 445.4h3M527.6 443.9v3M540 515.8h3M541.5 514.3v3M546.6 507.3h3M548.1 505.8v3M540.9 486.6h3M542.4 485.1v3M540.3 493.4h3M541.8 491.9v3M531.5 475.4h3M533 473.9v3M540 513.2h3M541.5 511.7v3M545.1 508.4h3M546.6 506.9v3M517.8 458.9h3M519.3 457.4v3" stroke="#2a64c8" stroke-width="1.25" fill="none"/><path d="M696.6 345.6h2.8M698 344.2v2.8M714.3 346.4h2.8M715.7 345v2.8M687.7 349.8h2.8M689.1 348.4v2.8M709.2 357.1h2.8M710.6 355.7v2.8M717 358.8h2.8M718.4 357.4v2.8M705 373.5h2.8M706.4 372.1v2.8M699.8 374.3h2.8M701.2 372.9v2.8M671.6 379.2h2.8M673 377.8v2.8M708.6 378h2.8M710 376.6v2.8M638.7 386.1h2.8M640.1 384.7v2.8M695 384.3h2.8M696.4 382.9v2.8M698.2 387.3h2.8M699.6 385.9v2.8M662.9 384.7h2.8M664.3 383.3v2.8M646.6 388.3h2.8M648 386.9v2.8M706.8 390.5h2.8M708.2 389.1v2.8M622.7 399.9h2.8M624.1 398.5v2.8M659.9 397.5h2.8M661.3 396.1v2.8M589.8 402.5h2.8M591.2 401.1v2.8M712.8 403.7h2.8M714.2 402.3v2.8M615.6 406.6h2.8M617 405.2v2.8M660.5 408.5h2.8M661.9 407.1v2.8M699 412.2h2.8M700.4 410.8v2.8M709.3 432h2.8M710.7 430.6v2.8M614.1 460.2h2.8M615.5 458.8v2.8M566.1 476.6h2.8M567.5 475.2v2.8M593.9 452.3h2.8M595.3 450.9v2.8M632.4 416.8h2.8M633.8 415.4v2.8M641.2 420.2h2.8M642.6 418.8v2.8M666.1 408.1h2.8M667.5 406.7v2.8M661.2 414.2h2.8M662.6 412.8v2.8M655.6 423.1h2.8M657 421.7v2.8M693.2 402.7h2.8M694.6 401.3v2.8M665.1 411.3h2.8M666.5 409.9v2.8M672.3 405.7h2.8M673.7 404.3v2.8M686.7 410.4h2.8M688.1 409v2.8M712.1 401.7h2.8M713.5 400.3v2.8M712.6 410.5h2.8M714 409.1v2.8M702.1 434.3h2.8M703.5 432.9v2.8M709.6 414.6h2.8M711 413.2v2.8M686.3 408h2.8M687.7 406.6v2.8M653.9 410.9h2.8M655.3 409.5v2.8M655.8 412.5h2.8M657.2 411.1v2.8M652.8 420.9h2.8M654.2 419.5v2.8M690.6 402.7h2.8M692 401.3v2.8M675.9 414.7h2.8M677.3 413.3v2.8M647.1 405.7h2.8M648.5 404.3v2.8M696 417.3h2.8M697.4 415.9v2.8M711 400.2h2.8M712.4 398.8v2.8M678.5 406.3h2.8M679.9 404.9v2.8M696.6 411h2.8M698 409.6v2.8M673.9 404.2h2.8M675.3 402.8v2.8M661 405.1h2.8M662.4 403.7v2.8M650.3 408h2.8M651.7 406.6v2.8M664.4 424.3h2.8M665.8 422.9v2.8M708.4 406.5h2.8M709.8 405.1v2.8M677.3 416.6h2.8M678.7 415.2v2.8M662.7 408.1h2.8M664.1 406.7v2.8M645.7 428.1h2.8M647.1 426.7v2.8M652.5 476.9h2.8M653.9 475.5v2.8M677.6 397.4h2.8M679 396v2.8M682.1 411.9h2.8M683.5 410.5v2.8M675.1 416.9h2.8M676.5 415.5v2.8M637 454.9h2.8M638.4 453.5v2.8M613.4 428.2h2.8M614.8 426.8v2.8M666.6 415h2.8M668 413.6v2.8M647.2 407.3h2.8M648.6 405.9v2.8M662.2 438.9h2.8M663.6 437.5v2.8M601.8 423.2h2.8M603.2 421.8v2.8M605 429h2.8M606.4 427.6v2.8M623.7 478.5h2.8M625.1 477.1v2.8M616.4 474.2h2.8M617.8 472.8v2.8M627.9 452.5h2.8M629.3 451.1v2.8M573.4 484.1h2.8M574.8 482.7v2.8M585.1 463.2h2.8M586.5 461.8v2.8M598.9 489.5h2.8M600.3 488.1v2.8M603.8 481.8h2.8M605.2 480.4v2.8M587.8 448.7h2.8M589.2 447.3v2.8" stroke="#1b6848" stroke-width="1.1" fill="none"/></g>
<g opacity="0.6"><path d="M629.2 343.8L628.5 447.4M623.2 344L622.6 453.4M591.3 346.9L591.4 450.9M629.2 354.2L628.6 432.8M630 355.5L629.4 441.2M639.9 370.2L639.2 443.8M649.5 371.7L648.7 439.1M570.7 373.4L571.3 482.4M674.2 376.1L673.1 438.7M558.4 380.8L559.2 475.3M645 381.2L644.3 448.8M604.1 381.3L604 441.8M609.3 381.3L609.1 470.5M585.7 384.2L585.9 460.6M655.1 387.1L654.3 447.6M540 393.3L541 472.6M615.9 394.1L615.6 456.1M534.4 397.7L535.6 486.8M690.4 401.9L689.4 447.9M565.8 402.2L566.2 458.9M600.4 403.3L600.3 467.8M700.3 412.2L699.5 446.6M710.6 432L710.2 447.4M582.1 455L582.3 498.2M513.8 424.7L515.6 521.5M506.9 427L508.4 499.4M611.6 479.8L611.6 489.8M597.4 439.3L597.4 481M612.3 404.4L612.1 465.5M620.1 375.6L619.7 470M573.5 420.2L573.7 455.2M638.6 415.3L638.3 443.6M598.8 406.1L598.7 453.7M642.2 393.3L641.8 436.3M591.5 396.7L591.5 450.3M558.2 400.5L558.8 469.6M636 393.9L635.6 444.4M586.5 412.1L586.6 455.7M562.7 394.8L563.3 467M602.5 405.1L602.4 451.6M594.8 394.1L594.9 465.9M612.1 409.1L612 440.9M605.9 395.2L605.7 451.9M610.6 404.6L610.4 458.6M609.2 408.6L609.1 456.8M586.9 399.6L587 454.7M622.6 396.8L622.3 439.3M554.6 409.9L555.1 466.3M574.4 406.2L574.7 459.8M622.6 393.2L622.3 440.5M628.9 397.6L628.5 449.8M581.7 425L581.8 470M584.4 406.9L584.6 468.5M557.2 403.2L557.7 461.3M584.1 393.3L584.3 460.1M640 400.7L639.5 455.4M601.1 397L601 473.9M647 408.9L646.4 458.3M565.8 415.4L566.3 488.8M633 427.5L632.8 460.3M639.8 416.4L639.3 461.2M569.2 412.2L569.6 486.6M583.2 410.9L583.4 482M630.1 427.5L629.8 465.5M631.1 406.4L630.6 467M568.9 445.7L569.2 497.3M577.3 430.1L577.5 490.1M608.1 475L608.1 498.9M538.7 451.4L539.6 519.2M643.1 438.4L642.6 481.1M563.8 422.9L564.4 507.3M589.1 400.1L589.2 492.1M612.2 448.6L612 495.4M566.9 499.5L567.1 528.7M567 464.2L567.4 524.9M616.9 422.1L616.6 478.9M591.7 441.6L591.8 498" stroke="#f0a0a0" stroke-width="3" stroke-opacity="0.55" fill="none"/><path d="M629.2 343.8L628.5 447.4M623.2 344L622.6 453.4M591.3 346.9L591.4 450.9M629.2 354.2L628.6 432.8M630 355.5L629.4 441.2M639.9 370.2L639.2 443.8M649.5 371.7L648.7 439.1M570.7 373.4L571.3 482.4M674.2 376.1L673.1 438.7M558.4 380.8L559.2 475.3M645 381.2L644.3 448.8M604.1 381.3L604 441.8M609.3 381.3L609.1 470.5M585.7 384.2L585.9 460.6M655.1 387.1L654.3 447.6M540 393.3L541 472.6M615.9 394.1L615.6 456.1M534.4 397.7L535.6 486.8M690.4 401.9L689.4 447.9M565.8 402.2L566.2 458.9M600.4 403.3L600.3 467.8M700.3 412.2L699.5 446.6M710.6 432L710.2 447.4M582.1 455L582.3 498.2M513.8 424.7L515.6 521.5M506.9 427L508.4 499.4M611.6 479.8L611.6 489.8M597.4 439.3L597.4 481M612.3 404.4L612.1 465.5M620.1 375.6L619.7 470M573.5 420.2L573.7 455.2M638.6 415.3L638.3 443.6M598.8 406.1L598.7 453.7M642.2 393.3L641.8 436.3M591.5 396.7L591.5 450.3M558.2 400.5L558.8 469.6M636 393.9L635.6 444.4M586.5 412.1L586.6 455.7M562.7 394.8L563.3 467M602.5 405.1L602.4 451.6M594.8 394.1L594.9 465.9M612.1 409.1L612 440.9M605.9 395.2L605.7 451.9M610.6 404.6L610.4 458.6M609.2 408.6L609.1 456.8M586.9 399.6L587 454.7M622.6 396.8L622.3 439.3M554.6 409.9L555.1 466.3M574.4 406.2L574.7 459.8M622.6 393.2L622.3 440.5M628.9 397.6L628.5 449.8M581.7 425L581.8 470M584.4 406.9L584.6 468.5M557.2 403.2L557.7 461.3M584.1 393.3L584.3 460.1M640 400.7L639.5 455.4M601.1 397L601 473.9M647 408.9L646.4 458.3M565.8 415.4L566.3 488.8M633 427.5L632.8 460.3M639.8 416.4L639.3 461.2M569.2 412.2L569.6 486.6M583.2 410.9L583.4 482M630.1 427.5L629.8 465.5M631.1 406.4L630.6 467M568.9 445.7L569.2 497.3M577.3 430.1L577.5 490.1M608.1 475L608.1 498.9M538.7 451.4L539.6 519.2M643.1 438.4L642.6 481.1M563.8 422.9L564.4 507.3M589.1 400.1L589.2 492.1M612.2 448.6L612 495.4M566.9 499.5L567.1 528.7M567 464.2L567.4 524.9M616.9 422.1L616.6 478.9M591.7 441.6L591.8 498" stroke="#d42424" stroke-width="1.3" fill="none"/><path d="M627.4 344.8h3.6M621.4 345h3.6M589.5 347.9h3.6M627.4 355.2h3.6M628.2 356.5h3.6M638.1 371.2h3.6M647.7 372.7h3.6M568.9 374.4h3.6M672.4 377.1h3.6M556.6 381.8h3.6M643.2 382.2h3.6M602.3 382.3h3.6M607.5 382.3h3.6M583.9 385.2h3.6M653.3 388.1h3.6M538.2 394.3h3.6M614.1 395.1h3.6M532.6 398.7h3.6M688.6 402.9h3.6M564 403.2h3.6M598.6 404.3h3.6M698.5 413.2h3.6M708.8 433h3.6M580.3 456h3.6M512 425.7h3.6M505.1 428h3.6M609.8 480.8h3.6M595.6 440.3h3.6M610.5 405.4h3.6M618.3 376.6h3.6M571.7 421.2h3.6M636.8 416.3h3.6M597 407.1h3.6M640.4 394.3h3.6M589.7 397.7h3.6M556.4 401.5h3.6M634.2 394.9h3.6M584.7 413.1h3.6M560.9 395.8h3.6M600.7 406.1h3.6M593 395.1h3.6M610.3 410.1h3.6M604.1 396.2h3.6M608.8 405.6h3.6M607.4 409.6h3.6M585.1 400.6h3.6M620.8 397.8h3.6M552.8 410.9h3.6M572.6 407.2h3.6M620.8 394.2h3.6M627.1 398.6h3.6M579.9 426h3.6M582.6 407.9h3.6M555.4 404.2h3.6M582.3 394.3h3.6M638.2 401.7h3.6M599.3 398h3.6M645.2 409.9h3.6M564 416.4h3.6M631.2 428.5h3.6M638 417.4h3.6M567.4 413.2h3.6M581.4 411.9h3.6M628.3 428.5h3.6M629.3 407.4h3.6M567.1 446.7h3.6M575.5 431.1h3.6M606.3 476h3.6M536.9 452.4h3.6M641.3 439.4h3.6M562 423.9h3.6M587.3 401.1h3.6M610.4 449.6h3.6M565.1 500.5h3.6M565.2 465.2h3.6M615.1 423.1h3.6M589.9 442.6h3.6M627.3 447.4h2.4M621.4 453.4h2.4M590.2 450.9h2.4M627.4 432.8h2.4M628.2 441.2h2.4M638 443.8h2.4M647.5 439.1h2.4M570.1 482.4h2.4M671.9 438.7h2.4M558 475.3h2.4M643.1 448.8h2.4M602.8 441.8h2.4M607.9 470.5h2.4M584.7 460.6h2.4M653.1 447.6h2.4M539.8 472.6h2.4M614.4 456.1h2.4M534.4 486.8h2.4M688.2 447.9h2.4M565 458.9h2.4M599.1 467.8h2.4M698.3 446.6h2.4M709 447.4h2.4M581.1 498.2h2.4M514.4 521.5h2.4M507.2 499.4h2.4M610.4 489.8h2.4M596.2 481h2.4M610.9 465.5h2.4M618.5 470h2.4M572.5 455.2h2.4M637.1 443.6h2.4M597.5 453.7h2.4M640.6 436.3h2.4M590.3 450.3h2.4M557.6 469.6h2.4M634.4 444.4h2.4M585.4 455.7h2.4M562.1 467h2.4M601.2 451.6h2.4M593.7 465.9h2.4M610.8 440.9h2.4M604.5 451.9h2.4M609.2 458.6h2.4M607.9 456.8h2.4M585.8 454.7h2.4M621.1 439.3h2.4M553.9 466.3h2.4M573.5 459.8h2.4M621.1 440.5h2.4M627.3 449.8h2.4M580.6 470h2.4M583.4 468.5h2.4M556.5 461.3h2.4M583.1 460.1h2.4M638.3 455.4h2.4M599.8 473.9h2.4M645.2 458.3h2.4M565.1 488.8h2.4M631.6 460.3h2.4M638.1 461.2h2.4M568.4 486.6h2.4M582.2 482h2.4M628.6 465.5h2.4M629.4 467h2.4M568 497.3h2.4M576.3 490.1h2.4M606.9 498.9h2.4M538.4 519.2h2.4M641.4 481.1h2.4M563.2 507.3h2.4M588 492.1h2.4M610.8 495.4h2.4M565.9 528.7h2.4M566.2 524.9h2.4M615.4 478.9h2.4M590.6 498h2.4" stroke="#d42424" stroke-width="1.4" fill="none"/><path d="M454.5 360.9h3M456 359.4v3M462.2 359.5h3M463.7 358v3M425.6 362.8h3M427.1 361.3v3M417.9 382.2h3M419.4 380.7v3M440.8 381.4h3M442.3 379.9v3M458.6 405h3M460.1 403.5v3M457.6 410.8h3M459.1 409.3v3M474 389.1h3M475.5 387.6v3M485.2 421.5h3M486.7 420v3M450.4 399.9h3M451.9 398.4v3M476.4 420.5h3M477.9 419v3M417.5 419.5h3M419 418v3M486.1 406.8h3M487.6 405.3v3M444.2 412.7h3M445.7 411.2v3M484.9 431.9h3M486.4 430.4v3M430.3 415.3h3M431.8 413.8v3M463.3 432.6h3M464.8 431.1v3M453.2 414.5h3M454.7 413v3M526.6 461.4h3M528.1 459.9v3M423.4 436.3h3M424.9 434.8v3M473.3 437.3h3M474.8 435.8v3M536.1 481.6h3M537.6 480.1v3M551.5 516.6h3M553 515.1v3M512.6 482.5h3M514.1 481v3M494.9 429.4h3M496.4 427.9v3M455.1 440.4h3M456.6 438.9v3M525.3 523.9h3M526.8 522.4v3M496.7 476.7h3M498.2 475.2v3M480 441.6h3M481.5 440.1v3M495.3 400.1h3M496.8 398.6v3M422.9 464.6h3M424.4 463.1v3M459.2 477h3M460.7 475.5v3M442.1 449.2h3M443.6 447.7v3M444.1 447.3h3M445.6 445.8v3M427 436.4h3M428.5 434.9v3M439.4 427.8h3M440.9 426.3v3M457.4 442h3M458.9 440.5v3M435.4 454.8h3M436.9 453.3v3M437.7 421.9h3M439.2 420.4v3M441 449.5h3M442.5 448v3M464.1 424.9h3M465.6 423.4v3M425.1 464.5h3M426.6 463v3M444.4 435.2h3M445.9 433.7v3M464.2 445.6h3M465.7 444.1v3M459.2 452.3h3M460.7 450.8v3M432.8 437.6h3M434.3 436.1v3M430.9 448h3M432.4 446.5v3M430 441.4h3M431.5 439.9v3M433.3 442.3h3M434.8 440.8v3M433.9 441.4h3M435.4 439.9v3M462.6 443.2h3M464.1 441.7v3M461.6 462.7h3M463.1 461.2v3M460.4 439.8h3M461.9 438.3v3M421.2 435.3h3M422.7 433.8v3M442 425.5h3M443.5 424v3M486.5 446.2h3M488 444.7v3M485.6 425.8h3M487.1 424.3v3M500.2 457.5h3M501.7 456v3M482.7 438.1h3M484.2 436.6v3M490.7 481.2h3M492.2 479.7v3M498.9 465.5h3M500.4 464v3M481.5 435.6h3M483 434.1v3M485.2 437.9h3M486.7 436.4v3M498.1 476.8h3M499.6 475.3v3M501.3 446h3M502.8 444.5v3M500 470.3h3M501.5 468.8v3M494.7 456.8h3M496.2 455.3v3M536.2 510.2h3M537.7 508.7v3M510 461h3M511.5 459.5v3M539.3 482.7h3M540.8 481.2v3M511.3 438h3M512.8 436.5v3M507.4 420.2h3M508.9 418.7v3M534 481h3M535.5 479.5v3M544.6 510.2h3M546.1 508.7v3M539.4 475h3M540.9 473.5v3M510.1 458.4h3M511.6 456.9v3M520.2 468h3M521.7 466.5v3" stroke="#2a64c8" stroke-width="1.25" fill="none"/><path d="M696.6 345.6h2.8M698 344.2v2.8M686.7 345.7h2.8M688.1 344.3v2.8M684.3 349.7h2.8M685.7 348.3v2.8M718.3 357.4h2.8M719.7 356v2.8M705.8 358.4h2.8M707.2 357v2.8M703.2 373.5h2.8M704.6 372.1v2.8M711.8 375h2.8M713.2 373.6v2.8M633.8 377.1h2.8M635.2 375.7v2.8M716.2 378.4h2.8M717.6 377v2.8M641 386.3h2.8M642.4 384.9v2.8M696.5 384.4h2.8M697.9 383v2.8M699.7 387.4h2.8M701.1 386v2.8M658.8 384.5h2.8M660.2 383.1v2.8M668.1 389.8h2.8M669.5 388.4v2.8M699.9 390.1h2.8M701.3 388.7v2.8M640.5 401.3h2.8M641.9 399.9v2.8M680.5 399h2.8M681.9 397.6v2.8M618.7 404.9h2.8M620.1 403.5v2.8M705.1 403.1h2.8M706.5 401.7v2.8M666.2 410.9h2.8M667.6 409.5v2.8M660.5 408.5h2.8M661.9 407.1v2.8M708.4 413h2.8M709.8 411.6v2.8M708.5 431.9h2.8M709.9 430.5v2.8M614.1 459.5h2.8M615.5 458.1v2.8M565.8 430.8h2.8M567.2 429.4v2.8M593.9 437.4h2.8M595.3 436v2.8M631.8 483.1h2.8M633.2 481.7v2.8M640.9 444.7h2.8M642.3 443.3v2.8M666.1 409.1h2.8M667.5 407.7v2.8M661.8 378h2.8M663.2 376.6v2.8M672.9 430.6h2.8M674.3 429.2v2.8M702.3 421.3h2.8M703.7 419.9v2.8M680.4 413.3h2.8M681.8 411.9v2.8M714.1 398.5h2.8M715.5 397.1v2.8M684.2 404h2.8M685.6 402.6v2.8M649 408.3h2.8M650.4 406.9v2.8M701.1 398.7h2.8M702.5 397.3v2.8M675 420.5h2.8M676.4 419.1v2.8M653.9 402.1h2.8M655.3 400.7v2.8M684.2 412.2h2.8M685.6 410.8v2.8M662.2 399.3h2.8M663.6 397.9v2.8M701.7 417.2h2.8M703.1 415.8v2.8M684.6 401.2h2.8M686 399.8v2.8M675.6 410.2h2.8M677 408.8v2.8M677.8 414.7h2.8M679.2 413.3v2.8M676.8 407h2.8M678.2 405.6v2.8M706.3 403.3h2.8M707.7 401.9v2.8M652.8 419.3h2.8M654.2 417.9v2.8M666.6 414.5h2.8M668 413.1v2.8M704.5 399.3h2.8M705.9 397.9v2.8M691.9 402.5h2.8M693.3 401.1v2.8M653.1 432.8h2.8M654.5 431.4v2.8M656.1 413.4h2.8M657.5 412v2.8M660.8 412.3h2.8M662.2 410.9v2.8M668.4 399.7h2.8M669.8 398.3v2.8M685.9 404.5h2.8M687.3 403.1v2.8M652.1 401.1h2.8M653.5 399.7v2.8M682.8 412.1h2.8M684.2 410.7v2.8M623.3 421.2h2.8M624.7 419.8v2.8M677.1 432.2h2.8M678.5 430.8v2.8M677.3 420h2.8M678.7 418.6v2.8M627.1 417.8h2.8M628.5 416.4v2.8M636.7 416h2.8M638.1 414.6v2.8M669.3 431.7h2.8M670.7 430.3v2.8M667.6 409.6h2.8M669 408.2v2.8M612.3 451.5h2.8M613.7 450.1v2.8M624.1 435.5h2.8M625.5 434.1v2.8M619.2 476.9h2.8M620.6 475.5v2.8M575.6 456.7h2.8M577 455.3v2.8M650.4 439.4h2.8M651.8 438v2.8M597.7 426.6h2.8M599.1 425.2v2.8M624.3 403h2.8M625.7 401.6v2.8M624.7 450.4h2.8M626.1 449v2.8M571.1 500.5h2.8M572.5 499.1v2.8M575.8 465.7h2.8M577.2 464.3v2.8M648.2 425.4h2.8M649.6 424v2.8M616.7 444.8h2.8M618.1 443.4v2.8" stroke="#1b6848" stroke-width="1.1" fill="none"/></g>
<polyline points="552.4,509.4 549.9,505.6 547.3,501.9 544.8,498.2 542.3,494.6 539.8,491.1 537.3,487.7 534.8,484.3 532.3,481 529.9,477.8 527.4,474.7 525,471.6 522.5,468.6 520.1,465.7 517.7,462.8 515.3,460.1 512.9,457.3 510.5,454.7 508.1,452.1 505.8,449.6 503.4,447.2 501.1,444.9 498.8,442.6 496.4,440.4 494.1,438.2 491.8,436.2 489.5,434.1 487.3,432.2 485,430.3 482.7,428.5 480.5,426.8 478.3,425.1 476,423.5 473.8,422 471.6,420.5 469.4,419.1 467.3,417.7 465.1,416.5 462.9,415.3 460.8,414.1 458.7,413 456.5,412 454.4,411 452.3,410.1 450.2,409.3 448.1,408.5 446.1,407.8 444,407.2 442,406.6 439.9,406 437.9,405.6 435.9,405.2 433.9,404.8 431.9,404.5 429.9,404.3 427.9,404.1 426,404 424,403.9 422.1,403.9 420.2,404" fill="none" stroke="#2472e0" stroke-width="2.3" stroke-linecap="round"/>
<polyline points="549.8,431.9 557.5,429.7 565,427.5 572.1,425.5 578.9,423.5 585.5,421.6 591.9,419.8 598,418.1 603.9,416.4 609.6,414.8 615.1,413.3 620.4,411.8 625.6,410.4 630.5,409 635.4,407.7 640,406.4 644.5,405.1 648.9,403.9 653.1,402.8 657.3,401.7 661.3,400.6 665.1,399.6 668.9,398.6 672.6,397.6 676.1,396.7 679.6,395.7 683,394.9 686.2,394 689.4,393.2 692.5,392.4 695.6,391.6 698.5,390.9 701.4,390.1 704.2,389.4 707,388.8 709.6,388.1 712.2,387.5 714.8,386.8 717.3,386.2 719.7,385.6" fill="none" stroke="#1a6e4e" stroke-width="2.2" stroke-linecap="round"/>
<text x="580.3" y="560.2" text-anchor="middle" font-family="Liberation Serif" font-weight="bold" font-size="15.7">(4) April</text>
<rect x="9.1" y="584" width="338" height="247.5" fill="#ECE9D8"/>
<line x1="162.1" y1="828.7" x2="160.2" y2="606.7" stroke="#86857d" stroke-width="1"/>
<line x1="133.8" y1="822.2" x2="130.5" y2="606.6" stroke="#86857d" stroke-width="1"/>
<line x1="107" y1="816.1" x2="102.5" y2="606.6" stroke="#86857d" stroke-width="1"/>
<line x1="81.7" y1="810.4" x2="76.1" y2="606.6" stroke="#86857d" stroke-width="1"/>
<line x1="57.7" y1="804.9" x2="51.2" y2="606.5" stroke="#86857d" stroke-width="1"/>
<line x1="35" y1="799.8" x2="27.6" y2="606.5" stroke="#86857d" stroke-width="1"/>
<line x1="162.1" y1="828.7" x2="35" y2="799.8" stroke="#86857d" stroke-width="1"/>
<line x1="161.8" y1="793.2" x2="33.8" y2="768.7" stroke="#86857d" stroke-width="1"/>
<line x1="161.5" y1="757.1" x2="32.6" y2="737.2" stroke="#86857d" stroke-width="1"/>
<line x1="161.2" y1="720.5" x2="31.4" y2="705.2" stroke="#86857d" stroke-width="1"/>
<line x1="160.9" y1="683.2" x2="30.2" y2="672.8" stroke="#86857d" stroke-width="1"/>
<line x1="160.5" y1="645.3" x2="28.9" y2="639.9" stroke="#86857d" stroke-width="1"/>
<line x1="160.2" y1="606.7" x2="27.6" y2="606.5" stroke="#86857d" stroke-width="1"/>
<line x1="162.1" y1="828.7" x2="160.2" y2="606.7" stroke="#86857d" stroke-width="1"/>
<line x1="182" y1="816.7" x2="181.1" y2="606.4" stroke="#86857d" stroke-width="1"/>
<line x1="199.8" y1="805.9" x2="199.8" y2="606.2" stroke="#86857d" stroke-width="1"/>
<line x1="215.9" y1="796.2" x2="216.6" y2="606" stroke="#86857d" stroke-width="1"/>
<line x1="230.6" y1="787.3" x2="231.8" y2="605.8" stroke="#86857d" stroke-width="1"/>
<line x1="243.9" y1="779.2" x2="245.7" y2="605.7" stroke="#86857d" stroke-width="1"/>
<line x1="256.2" y1="771.8" x2="258.3" y2="605.5" stroke="#86857d" stroke-width="1"/>
<line x1="267.4" y1="765" x2="269.9" y2="605.4" stroke="#86857d" stroke-width="1"/>
<line x1="277.8" y1="758.7" x2="280.5" y2="605.2" stroke="#86857d" stroke-width="1"/>
<line x1="287.5" y1="752.9" x2="290.4" y2="605.1" stroke="#86857d" stroke-width="1"/>
<line x1="296.4" y1="747.5" x2="299.5" y2="605" stroke="#86857d" stroke-width="1"/>
<line x1="304.7" y1="742.4" x2="307.9" y2="604.9" stroke="#86857d" stroke-width="1"/>
<line x1="312.5" y1="737.8" x2="315.8" y2="604.8" stroke="#86857d" stroke-width="1"/>
<line x1="319.7" y1="733.4" x2="323.2" y2="604.7" stroke="#86857d" stroke-width="1"/>
<line x1="326.5" y1="729.3" x2="330.1" y2="604.7" stroke="#86857d" stroke-width="1"/>
<line x1="162.1" y1="828.7" x2="326.5" y2="729.3" stroke="#86857d" stroke-width="1"/>
<line x1="161.8" y1="793.2" x2="327.1" y2="709" stroke="#86857d" stroke-width="1"/>
<line x1="161.5" y1="757.1" x2="327.7" y2="688.5" stroke="#86857d" stroke-width="1"/>
<line x1="161.2" y1="720.5" x2="328.3" y2="667.8" stroke="#86857d" stroke-width="1"/>
<line x1="160.9" y1="683.2" x2="328.9" y2="647" stroke="#86857d" stroke-width="1"/>
<line x1="160.5" y1="645.3" x2="329.5" y2="625.9" stroke="#86857d" stroke-width="1"/>
<line x1="160.2" y1="606.7" x2="330.1" y2="604.7" stroke="#86857d" stroke-width="1"/>
<line x1="162.1" y1="828.7" x2="35" y2="799.8" stroke="#86857d" stroke-width="1"/>
<line x1="182" y1="816.7" x2="58.2" y2="790.6" stroke="#86857d" stroke-width="1"/>
<line x1="199.8" y1="805.9" x2="79.5" y2="782.2" stroke="#86857d" stroke-width="1"/>
<line x1="215.9" y1="796.2" x2="98.9" y2="774.6" stroke="#86857d" stroke-width="1"/>
<line x1="230.6" y1="787.3" x2="116.7" y2="767.6" stroke="#86857d" stroke-width="1"/>
<line x1="243.9" y1="779.2" x2="133.1" y2="761.1" stroke="#86857d" stroke-width="1"/>
<line x1="256.2" y1="771.8" x2="148.3" y2="755.1" stroke="#86857d" stroke-width="1"/>
<line x1="267.4" y1="765" x2="162.4" y2="749.6" stroke="#86857d" stroke-width="1"/>
<line x1="277.8" y1="758.7" x2="175.5" y2="744.4" stroke="#86857d" stroke-width="1"/>
<line x1="287.5" y1="752.9" x2="187.7" y2="739.6" stroke="#86857d" stroke-width="1"/>
<line x1="296.4" y1="747.5" x2="199.2" y2="735.1" stroke="#86857d" stroke-width="1"/>
<line x1="304.7" y1="742.4" x2="209.8" y2="730.9" stroke="#86857d" stroke-width="1"/>
<line x1="312.5" y1="737.8" x2="219.9" y2="726.9" stroke="#86857d" stroke-width="1"/>
<line x1="319.7" y1="733.4" x2="229.3" y2="723.2" stroke="#86857d" stroke-width="1"/>
<line x1="326.5" y1="729.3" x2="238.2" y2="719.7" stroke="#86857d" stroke-width="1"/>
<line x1="162.1" y1="828.7" x2="326.5" y2="729.3" stroke="#86857d" stroke-width="1"/>
<line x1="133.8" y1="822.2" x2="307.7" y2="727.2" stroke="#86857d" stroke-width="1"/>
<line x1="107" y1="816.1" x2="289.5" y2="725.2" stroke="#86857d" stroke-width="1"/>
<line x1="81.7" y1="810.4" x2="271.9" y2="723.3" stroke="#86857d" stroke-width="1"/>
<line x1="57.7" y1="804.9" x2="254.8" y2="721.5" stroke="#86857d" stroke-width="1"/>
<line x1="35" y1="799.8" x2="238.2" y2="719.7" stroke="#86857d" stroke-width="1"/>
<line x1="238.2" y1="719.7" x2="239.2" y2="599.7" stroke="#000" stroke-width="1"/>
<polygon points="239.3,595.7 243.2,605.2 239.2,602.2 235.2,605.2" fill="#000"/>
<line x1="238.2" y1="719.7" x2="28.9" y2="802.1" stroke="#111" stroke-width="0.9"/>
<polygon points="24.3,804 33.2,795.3 31.5,801.1 36.7,804.2" fill="#000"/>
<line x1="238.2" y1="719.7" x2="331.3" y2="729.8" stroke="#111" stroke-width="0.9"/>
<polygon points="335.3,730.2 325.4,733.1 328.8,729.5 326.2,725.3" fill="#000"/>
<path d="M236.4 585.1H241.8L236.4 592.1H241.8M14.1 801.8L19.5 808.8M19.5 801.8L14.1 808.8M338.4 726.2L341.4 730.1L344.4 726.2M341.4 730.1V733.6" stroke="#3a3a3a" stroke-width="1" fill="none"/>
<path d="M162.6 605.3L163.8 755.6M199.2 638.6L199.3 751.9M243.9 645.7L242.7 768.8M285.2 648.6L283.3 747.7M271.2 650.1L269.5 757.2M278.7 651.2L277.1 743.3M205.2 652.6L205.1 751.2M68.7 653.7L73.2 809M253.5 656.8L252.1 767.4M268.3 656.8L266.6 765.2M249.5 657.1L248.6 747.7M225.2 658.2L224.7 751.9M180 658.5L180.4 759.9M217.8 659.6L217.5 743.1M195.6 663L195.7 757.7M150 664.8L151.3 781.9M229.8 666.6L229.2 756.4M185.7 669L185.9 740.2M236.2 670.1L235.4 764.5M168 672.9L168.8 773.8M130.9 676.6L132.5 776M261.2 678.5L260.2 754.9M298.4 678.5L297.2 735.3M91.9 680.3L94.9 804.5M177.4 680.7L177.9 781.9M142.9 682.7L144.1 776M164.3 684.8L165.1 780.4M294.6 686.3L293.5 738.1M138.6 688.1L140.1 796.5M309.8 688.1L308.8 726.4M274.7 690.3L273.9 738.2M144 692L145.5 813.3M303.2 693.2L302.3 730.8M209.6 694.3L209.5 753.4M137.2 695L138.3 771M159.1 696.9L160 795.1M192.6 699.9L192.7 769.5M121.1 703L122.9 801.6M154.6 704.4L155.3 768.7M96 709.7L98.4 810M128.8 714.6L130.1 792.8M105 717.7L106.4 786.1" stroke="#f0a0a0" stroke-width="3" stroke-opacity="0.55" fill="none"/>
<path d="M162.6 605.3L163.8 755.6M199.2 638.6L199.3 751.9M243.9 645.7L242.7 768.8M285.2 648.6L283.3 747.7M271.2 650.1L269.5 757.2M278.7 651.2L277.1 743.3M205.2 652.6L205.1 751.2M68.7 653.7L73.2 809M253.5 656.8L252.1 767.4M268.3 656.8L266.6 765.2M249.5 657.1L248.6 747.7M225.2 658.2L224.7 751.9M180 658.5L180.4 759.9M217.8 659.6L217.5 743.1M195.6 663L195.7 757.7M150 664.8L151.3 781.9M229.8 666.6L229.2 756.4M185.7 669L185.9 740.2M236.2 670.1L235.4 764.5M168 672.9L168.8 773.8M130.9 676.6L132.5 776M261.2 678.5L260.2 754.9M298.4 678.5L297.2 735.3M91.9 680.3L94.9 804.5M177.4 680.7L177.9 781.9M142.9 682.7L144.1 776M164.3 684.8L165.1 780.4M294.6 686.3L293.5 738.1M138.6 688.1L140.1 796.5M309.8 688.1L308.8 726.4M274.7 690.3L273.9 738.2M144 692L145.5 813.3M303.2 693.2L302.3 730.8M209.6 694.3L209.5 753.4M137.2 695L138.3 771M159.1 696.9L160 795.1M192.6 699.9L192.7 769.5M121.1 703L122.9 801.6M154.6 704.4L155.3 768.7M96 709.7L98.4 810M128.8 714.6L130.1 792.8M105 717.7L106.4 786.1" stroke="#d42424" stroke-width="1.3" fill="none"/>
<path d="M160.8 606.3h3.6M197.4 639.6h3.6M242.1 646.7h3.6M283.4 649.6h3.6M269.4 651.1h3.6M276.9 652.2h3.6M203.4 653.6h3.6M66.9 654.7h3.6M251.7 657.8h3.6M266.5 657.8h3.6M247.7 658.1h3.6M223.4 659.2h3.6M178.2 659.5h3.6M216 660.6h3.6M193.8 664h3.6M148.2 665.8h3.6M228 667.6h3.6M183.9 670h3.6M234.4 671.1h3.6M166.2 673.9h3.6M129.1 677.6h3.6M259.4 679.5h3.6M296.6 679.5h3.6M90.1 681.3h3.6M175.6 681.7h3.6M141.1 683.7h3.6M162.5 685.8h3.6M292.8 687.3h3.6M136.8 689.1h3.6M308 689.1h3.6M272.9 691.3h3.6M142.2 693h3.6M301.4 694.2h3.6M207.8 695.3h3.6M135.4 696h3.6M157.3 697.9h3.6M190.8 700.9h3.6M119.3 704h3.6M152.8 705.4h3.6M94.2 710.7h3.6M127 715.6h3.6M103.2 718.7h3.6M162.6 755.6h2.4M198.1 751.9h2.4M241.5 768.8h2.4M282.1 747.7h2.4M268.3 757.2h2.4M275.9 743.3h2.4M203.9 751.2h2.4M72 809h2.4M250.9 767.4h2.4M265.4 765.2h2.4M247.4 747.7h2.4M223.5 751.9h2.4M179.2 759.9h2.4M216.3 743.1h2.4M194.5 757.7h2.4M150.1 781.9h2.4M228 756.4h2.4M184.7 740.2h2.4M234.2 764.5h2.4M167.6 773.8h2.4M131.3 776h2.4M259 754.9h2.4M296 735.3h2.4M93.7 804.5h2.4M176.7 781.9h2.4M142.9 776h2.4M163.9 780.4h2.4M292.3 738.1h2.4M138.9 796.5h2.4M307.6 726.4h2.4M272.7 738.2h2.4M144.3 813.3h2.4M301.1 730.8h2.4M208.3 753.4h2.4M137.1 771h2.4M158.8 795.1h2.4M191.5 769.5h2.4M121.7 801.6h2.4M154.1 768.7h2.4M97.2 810h2.4M128.9 792.8h2.4M105.2 786.1h2.4" stroke="#d42424" stroke-width="1.4" fill="none"/>
<path d="M40.4 606.3h3M41.9 604.8v3M66.2 652.8h3M67.7 651.3v3M140.7 660.8h3M142.2 659.3v3M144.6 674.2h3M146.1 672.7v3M147.6 672.2h3M149.1 670.7v3M128.8 679.5h3M130.3 678v3M70.8 672.9h3M72.3 671.4v3M68 653.6h3M69.5 652.1v3M147.9 676.9h3M149.4 675.4v3M158.9 678.8h3M160.4 677.3v3M107 684.2h3M108.5 682.7v3M91.3 682h3M92.8 680.5v3M66.3 676.3h3M67.8 674.8v3M65.8 686.8h3M67.3 685.3v3M75.8 684.1h3M77.3 682.6v3M82.4 675.5h3M83.9 674v3M105.1 692.5h3M106.6 691v3M29.3 698.4h3M30.8 696.9v3M126.3 694.7h3M127.8 693.2v3M82.9 689h3M84.4 687.5v3M57.5 689.8h3M59 688.3v3M133.9 713.3h3M135.4 711.8v3M135.9 730.1h3M137.4 728.6v3M77 682.6h3M78.5 681.1v3M104.7 696.3h3M106.2 694.8v3M66.9 698h3M68.4 696.5v3M91.6 700.6h3M93.1 699.1v3M137.8 740.3h3M139.3 738.8v3M98 696.5h3M99.5 695v3M130.8 755.3h3M132.3 753.8v3M115.4 743.4h3M116.9 741.9v3M126.9 695.6h3M128.4 694.1v3M132.7 759.1h3M134.2 757.6v3M81 730.2h3M82.5 728.7v3M53.6 714.1h3M55.1 712.6v3M111.6 708.5h3M113.1 707v3M96.5 726.8h3M98 725.3v3M93.4 709.4h3M94.9 707.9v3M63.4 728.4h3M64.9 726.9v3M88.4 711.2h3M89.9 709.7v3M85.3 726.2h3M86.8 724.7v3M56.8 730.2h3M58.3 728.7v3" stroke="#2a64c8" stroke-width="1.25" fill="none"/>
<path d="M259.8 605.3h2.8M261.2 603.9v2.8M272.4 641.1h2.8M273.8 639.7v2.8M257.6 646.2h2.8M259 644.8v2.8M294.6 649h2.8M296 647.6v2.8M278.8 650.5h2.8M280.2 649.1v2.8M299.5 652.2h2.8M300.9 650.8v2.8M274.4 655.9h2.8M275.8 654.5v2.8M158.6 658.7h2.8M160 657.3v2.8M261.3 657.2h2.8M262.7 655.8v2.8M267.2 656.9h2.8M268.6 655.5v2.8M287.9 659.1h2.8M289.3 657.7v2.8M277.3 660.9h2.8M278.7 659.5v2.8M256.4 662.7h2.8M257.8 661.3v2.8M288.4 663.4h2.8M289.8 662v2.8M262.8 666.9h2.8M264.2 665.5v2.8M218.3 669.1h2.8M219.7 667.7v2.8M271.6 669.1h2.8M273 667.7v2.8M286.3 675.4h2.8M287.7 674v2.8M261.7 671.8h2.8M263.1 670.4v2.8M233.8 677.6h2.8M235.2 676.2v2.8M221.6 683.6h2.8M223 682.2v2.8M279.6 679.8h2.8M281 678.4v2.8M313.5 679.6h2.8M314.9 678.2v2.8M171.5 687h2.8M172.9 685.6v2.8M224.8 684.4h2.8M226.2 683v2.8M224.6 689.4h2.8M226 688v2.8M223.7 689.7h2.8M225.1 688.3v2.8M308.7 687.5h2.8M310.1 686.1v2.8M195.3 693.1h2.8M196.7 691.7v2.8M327.5 689.5h2.8M328.9 688.1v2.8M305.2 692.8h2.8M306.6 691.4v2.8M174.4 694.9h2.8M175.8 693.5v2.8M320.2 694.6h2.8M321.6 693.2v2.8M271.4 699.8h2.8M272.8 698.4v2.8M230.2 703.8h2.8M231.6 702.4v2.8M202.4 701.1h2.8M203.8 699.7v2.8M245.2 705h2.8M246.6 703.6v2.8M183.6 709.7h2.8M185 708.3v2.8M237.5 712.9h2.8M238.9 711.5v2.8M165.4 717.8h2.8M166.8 716.4v2.8M197.5 722.7h2.8M198.9 721.3v2.8M200.4 729.5h2.8M201.8 728.1v2.8" stroke="#1b6848" stroke-width="1.1" fill="none"/>
<g opacity="0.6"><path d="M239.1 642.4L238.4 723.6M232.5 647.1L232 722.8M200.8 657.4L200.8 739.6M258.7 665.7L257.9 727.5M282.7 667.1L281.6 726.3M248.9 670.4L248.3 725.9M253.9 671.9L253.1 739.6M219 682.8L218.8 735.5M213.4 684.2L213.2 736M263.9 686.6L263.3 731.5M150.3 687.2L151.2 770.4M225.1 692.8L224.9 736M195.4 693.1L195.5 758.5M299.2 695.4L298.1 744.1M175.8 699.9L176.3 786.5M128.7 714.9L130.1 802.2M285.4 711L284.8 738.8M166.8 735.9L167.2 788.4M66.5 716.9L69.1 803.9M191.9 748.7L192 785M83.2 672.3L86.9 811.2M112.4 754.8L113.7 817.7M124.5 722.8L126 808.2M117.2 697.4L118.9 786.3M221.3 717.8L221 776.7M207.1 713.7L207 768M221.7 711.9L221.5 752.6M229.6 670.7L229 757M189.1 683.1L189.3 754.7M184.3 693.2L184.5 754.4M223.6 686.1L223.4 726.2M190.3 687.1L190.5 757.2M240.3 686.2L240 729.5M174.7 695.1L175 753.7M231 705.6L230.8 737M242.4 704.1L242.1 734.5M185.4 694.4L185.6 744.6M191.9 683.3L192 743.6M162 691L162.6 755.3M220.7 700.6L220.6 730.7M214.5 682.8L214.3 749.3M197.1 713L197.1 744.5M178.8 738L178.8 745.2M184.6 699.2L184.7 743.5M234.6 703.1L234.4 723.8M231.7 694.8L231.4 738.4M246.3 692.5L246 725.3M243.8 710.1L243.6 731M169.7 689.8L170.1 756.8M244.3 690L243.9 729.5M222.2 689.4L221.9 740.5M216.3 700.8L216.2 740.9M169.6 689.6L170 752.9M223.4 682.8L223 750.1M209.6 689.8L209.4 752.8M214.6 710.5L214.5 763.6M175.9 734.6L176.1 785.9M212.8 762.4L212.8 766.2M204.5 718.6L204.5 772.7M205.6 741.6L205.6 754M225.9 690.9L225.5 756.5M226.7 687.2L226.3 750.3M179.5 741.6L179.7 782.3M218.6 705.9L218.3 763.2M193.1 688.4L193.3 768.5M196.6 751.6L196.6 787.5M196.8 746.6L196.8 780.4M248.5 741.7L248.2 772.9M158.2 765.6L158.6 808.6M255 746.8L254.8 769.1M215.5 767.2L215.4 791.7M224.3 731L224 790.6M191.1 791.3L191.1 805.3M208.7 723.8L208.6 778.5M187.7 782.7L187.7 802.4" stroke="#f0a0a0" stroke-width="3" stroke-opacity="0.55" fill="none"/><path d="M239.1 642.4L238.4 723.6M232.5 647.1L232 722.8M200.8 657.4L200.8 739.6M258.7 665.7L257.9 727.5M282.7 667.1L281.6 726.3M248.9 670.4L248.3 725.9M253.9 671.9L253.1 739.6M219 682.8L218.8 735.5M213.4 684.2L213.2 736M263.9 686.6L263.3 731.5M150.3 687.2L151.2 770.4M225.1 692.8L224.9 736M195.4 693.1L195.5 758.5M299.2 695.4L298.1 744.1M175.8 699.9L176.3 786.5M128.7 714.9L130.1 802.2M285.4 711L284.8 738.8M166.8 735.9L167.2 788.4M66.5 716.9L69.1 803.9M191.9 748.7L192 785M83.2 672.3L86.9 811.2M112.4 754.8L113.7 817.7M124.5 722.8L126 808.2M117.2 697.4L118.9 786.3M221.3 717.8L221 776.7M207.1 713.7L207 768M221.7 711.9L221.5 752.6M229.6 670.7L229 757M189.1 683.1L189.3 754.7M184.3 693.2L184.5 754.4M223.6 686.1L223.4 726.2M190.3 687.1L190.5 757.2M240.3 686.2L240 729.5M174.7 695.1L175 753.7M231 705.6L230.8 737M242.4 704.1L242.1 734.5M185.4 694.4L185.6 744.6M191.9 683.3L192 743.6M162 691L162.6 755.3M220.7 700.6L220.6 730.7M214.5 682.8L214.3 749.3M197.1 713L197.1 744.5M178.8 738L178.8 745.2M184.6 699.2L184.7 743.5M234.6 703.1L234.4 723.8M231.7 694.8L231.4 738.4M246.3 692.5L246 725.3M243.8 710.1L243.6 731M169.7 689.8L170.1 756.8M244.3 690L243.9 729.5M222.2 689.4L221.9 740.5M216.3 700.8L216.2 740.9M169.6 689.6L170 752.9M223.4 682.8L223 750.1M209.6 689.8L209.4 752.8M214.6 710.5L214.5 763.6M175.9 734.6L176.1 785.9M212.8 762.4L212.8 766.2M204.5 718.6L204.5 772.7M205.6 741.6L205.6 754M225.9 690.9L225.5 756.5M226.7 687.2L226.3 750.3M179.5 741.6L179.7 782.3M218.6 705.9L218.3 763.2M193.1 688.4L193.3 768.5M196.6 751.6L196.6 787.5M196.8 746.6L196.8 780.4M248.5 741.7L248.2 772.9M158.2 765.6L158.6 808.6M255 746.8L254.8 769.1M215.5 767.2L215.4 791.7M224.3 731L224 790.6M191.1 791.3L191.1 805.3M208.7 723.8L208.6 778.5M187.7 782.7L187.7 802.4" stroke="#d42424" stroke-width="1.3" fill="none"/><path d="M237.3 643.4h3.6M230.7 648.1h3.6M199 658.4h3.6M256.9 666.7h3.6M280.9 668.1h3.6M247.1 671.4h3.6M252.1 672.9h3.6M217.2 683.8h3.6M211.6 685.2h3.6M262.1 687.6h3.6M148.5 688.2h3.6M223.3 693.8h3.6M193.6 694.1h3.6M297.4 696.4h3.6M174 700.9h3.6M126.9 715.9h3.6M283.6 712h3.6M165 736.9h3.6M64.7 717.9h3.6M190.1 749.7h3.6M81.4 673.3h3.6M110.6 755.8h3.6M122.7 723.8h3.6M115.4 698.4h3.6M219.5 718.8h3.6M205.3 714.7h3.6M219.9 712.9h3.6M227.8 671.7h3.6M187.3 684.1h3.6M182.5 694.2h3.6M221.8 687.1h3.6M188.5 688.1h3.6M238.5 687.2h3.6M172.9 696.1h3.6M229.2 706.6h3.6M240.6 705.1h3.6M183.6 695.4h3.6M190.1 684.3h3.6M160.2 692h3.6M218.9 701.6h3.6M212.7 683.8h3.6M195.3 714h3.6M177 739h3.6M182.8 700.2h3.6M232.8 704.1h3.6M229.9 695.8h3.6M244.5 693.5h3.6M242 711.1h3.6M167.9 690.8h3.6M242.5 691h3.6M220.4 690.4h3.6M214.5 701.8h3.6M167.8 690.6h3.6M221.6 683.8h3.6M207.8 690.8h3.6M212.8 711.5h3.6M174.1 735.6h3.6M211 763.4h3.6M202.7 719.6h3.6M203.8 742.6h3.6M224.1 691.9h3.6M224.9 688.2h3.6M177.7 742.6h3.6M216.8 706.9h3.6M191.3 689.4h3.6M194.8 752.6h3.6M195 747.6h3.6M246.7 742.7h3.6M156.4 766.6h3.6M253.2 747.8h3.6M213.7 768.2h3.6M222.5 732h3.6M189.3 792.3h3.6M206.9 724.8h3.6M185.9 783.7h3.6M237.2 723.6h2.4M230.8 722.8h2.4M199.6 739.6h2.4M256.7 727.5h2.4M280.4 726.3h2.4M247.1 725.9h2.4M251.9 739.6h2.4M217.6 735.5h2.4M212 736h2.4M262.1 731.5h2.4M150 770.4h2.4M223.7 736h2.4M194.3 758.5h2.4M296.9 744.1h2.4M175.1 786.5h2.4M128.9 802.2h2.4M283.6 738.8h2.4M166 788.4h2.4M67.9 803.9h2.4M190.8 785h2.4M85.7 811.2h2.4M112.5 817.7h2.4M124.8 808.2h2.4M117.7 786.3h2.4M219.8 776.7h2.4M205.8 768h2.4M220.3 752.6h2.4M227.8 757h2.4M188.1 754.7h2.4M183.3 754.4h2.4M222.2 726.2h2.4M189.3 757.2h2.4M238.8 729.5h2.4M173.8 753.7h2.4M229.6 737h2.4M240.9 734.5h2.4M184.4 744.6h2.4M190.8 743.6h2.4M161.4 755.3h2.4M219.4 730.7h2.4M213.1 749.3h2.4M195.9 744.5h2.4M177.6 745.2h2.4M183.5 743.5h2.4M233.2 723.8h2.4M230.2 738.4h2.4M244.8 725.3h2.4M242.4 731h2.4M168.9 756.8h2.4M242.7 729.5h2.4M220.7 740.5h2.4M215 740.9h2.4M168.8 752.9h2.4M221.8 750.1h2.4M208.2 752.8h2.4M213.3 763.6h2.4M174.9 785.9h2.4M211.6 766.2h2.4M203.3 772.7h2.4M204.4 754h2.4M224.3 756.5h2.4M225.1 750.3h2.4M178.5 782.3h2.4M217.1 763.2h2.4M192.1 768.5h2.4M195.4 787.5h2.4M195.6 780.4h2.4M247 772.9h2.4M157.4 808.6h2.4M253.6 769.1h2.4M214.2 791.7h2.4M222.8 790.6h2.4M189.9 805.3h2.4M207.4 778.5h2.4M186.5 802.4h2.4" stroke="#d42424" stroke-width="1.4" fill="none"/><path d="M39.2 669.2h3M40.7 667.7v3M30.5 676.7h3M32 675.2v3M41.4 683.4h3M42.9 681.9v3M71.9 708.1h3M73.4 706.6v3M96.5 714.3h3M98 712.8v3M57.5 715.4h3M59 713.9v3M95 710.7h3M96.5 709.2v3M50.7 725.2h3M52.2 723.7v3M46.5 726.2h3M48 724.7v3M88.5 740.5h3M90 739v3M62.7 706.2h3M64.2 704.7v3M58.4 740.9h3M59.9 739.4v3M78.3 723.9h3M79.8 722.4v3M155.4 751.3h3M156.9 749.8v3M111.3 717h3M112.8 715.5v3M99.8 722.5h3M101.3 721v3M129.8 777.7h3M131.3 776.2v3M107.9 756.7h3M109.4 755.2v3M59.3 718.3h3M60.8 716.8v3M123.2 777.2h3M124.7 775.7v3M81.2 672.4h3M82.7 670.9v3M111 754.8h3M112.5 753.3v3M105.8 727.9h3M107.3 726.4v3M65.6 708.8h3M67.1 707.3v3M134.6 749h3M136.1 747.5v3M107 747h3M108.5 745.5v3M91.5 756.8h3M93 755.3v3M106.2 697.9h3M107.7 696.4v3M64.5 711.7h3M66 710.2v3M60.1 724.9h3M61.6 723.4v3M32.8 736.9h3M34.3 735.4v3M70.9 716h3M72.4 714.5v3M58.2 737.4h3M59.7 735.9v3M50.4 726.6h3M51.9 725.1v3M67.2 760.5h3M68.7 759v3M73.1 762.2h3M74.6 760.7v3M40.4 732.1h3M41.9 730.6v3M43.6 717.9h3M45.1 716.4v3M42.7 718.9h3M44.2 717.4v3M42.1 755.9h3M43.6 754.4v3M76.8 717h3M78.3 715.5v3M51.6 760h3M53.1 758.5v3M37.8 790.9h3M39.3 789.4v3M37.5 739.4h3M39 737.9v3M39 767.9h3M40.5 766.4v3M70.8 743.3h3M72.3 741.8v3M54.6 751.6h3M56.1 750.1v3M66.8 774.8h3M68.3 773.3v3M52.3 717.5h3M53.8 716v3M62.6 744.2h3M64.1 742.7v3M65.6 732.5h3M67.1 731v3M61.3 748.1h3M62.8 746.6v3M44.1 719.1h3M45.6 717.6v3M87 717.6h3M88.5 716.1v3M79.6 724.2h3M81.1 722.7v3M105.8 746.6h3M107.3 745.1v3M111.1 757.8h3M112.6 756.3v3M110.4 812.3h3M111.9 810.8v3M113 750.1h3M114.5 748.6v3M80.3 793.7h3M81.8 792.2v3M102.3 725.8h3M103.8 724.3v3M90.6 724.1h3M92.1 722.6v3M108.4 768.8h3M109.9 767.3v3M108.6 741.3h3M110.1 739.8v3M94.8 712.7h3M96.3 711.2v3M131 779.8h3M132.5 778.3v3M120 778.6h3M121.5 777.1v3M154.3 786.6h3M155.8 785.1v3M131.5 776.5h3M133 775v3M154.6 797.6h3M156.1 796.1v3M153.5 798.3h3M155 796.8v3M159 757.4h3M160.5 755.9v3M152.7 811.5h3M154.2 810v3M126.6 753.7h3M128.1 752.2v3M145.9 803.5h3M147.4 802v3" stroke="#2a64c8" stroke-width="1.25" fill="none"/><path d="M321.7 645.4h2.8M323.1 644v2.8M321.6 650.7h2.8M323 649.3v2.8M290.4 662.1h2.8M291.8 660.7v2.8M318.5 669.1h2.8M319.9 667.7v2.8M324 669.5h2.8M325.4 668.1v2.8M319.1 674.8h2.8M320.5 673.4v2.8M299.9 674.8h2.8M301.3 673.4v2.8M299.3 688.9h2.8M300.7 687.5v2.8M297.5 690.7h2.8M298.9 689.3v2.8M313 690.4h2.8M314.4 689v2.8M234.2 694.4h2.8M235.6 693v2.8M299.5 699.2h2.8M300.9 697.8v2.8M261.2 698.9h2.8M262.6 697.5v2.8M301.1 695.7h2.8M302.5 694.3v2.8M218 704h2.8M219.4 702.6v2.8M184.9 721.6h2.8M186.3 720.2v2.8M305.6 713.1h2.8M307 711.7v2.8M213.1 742.2h2.8M214.5 740.8v2.8M164.9 729.4h2.8M166.3 728v2.8M223.5 753.4h2.8M224.9 752v2.8M159.9 678.1h2.8M161.3 676.7v2.8M160.1 762.7h2.8M161.5 761.3v2.8M175.8 729.4h2.8M177.2 728v2.8M203.6 706h2.8M205 704.6v2.8M241.5 720.1h2.8M242.9 718.7v2.8M250.3 718.4h2.8M251.7 717v2.8M274.7 717.5h2.8M276.1 716.1v2.8M270.7 673.3h2.8M272.1 671.9v2.8M265.5 689.1h2.8M266.9 687.7v2.8M264.8 700.4h2.8M266.2 699v2.8M313.9 693.2h2.8M315.3 691.8v2.8M262.1 693h2.8M263.5 691.6v2.8M311.9 691.8h2.8M313.3 690.4v2.8M263.7 703.3h2.8M265.1 701.9v2.8M298.9 712.2h2.8M300.3 710.8v2.8M304.6 710h2.8M306 708.6v2.8M279.2 702.9h2.8M280.6 701.5v2.8M282.1 690.4h2.8M283.5 689v2.8M258.7 699.6h2.8M260.1 698.2v2.8M306.3 708.6h2.8M307.7 707.2v2.8M278.4 687.7h2.8M279.8 686.3v2.8M281.3 722.1h2.8M282.7 720.7v2.8M276.1 751.1h2.8M277.5 749.7v2.8M280.5 708.3h2.8M281.9 706.9v2.8M318.9 711h2.8M320.3 709.6v2.8M297.1 700.5h2.8M298.5 699.1v2.8M318.9 698.5h2.8M320.3 697.1v2.8M309.8 716.7h2.8M311.2 715.3v2.8M258.1 697.5h2.8M259.5 696.1v2.8M312.5 695.6h2.8M313.9 694.2v2.8M292.5 695.2h2.8M293.9 693.8v2.8M290.5 707.8h2.8M291.9 706.4v2.8M263.8 697.7h2.8M265.2 696.3v2.8M279 687.1h2.8M280.4 685.7v2.8M272.3 695.1h2.8M273.7 693.7v2.8M258 715h2.8M259.4 713.6v2.8M218.6 740.3h2.8M220 738.9v2.8M253.2 768.7h2.8M254.6 767.3v2.8M243.2 723h2.8M244.6 721.6v2.8M269 750.2h2.8M270.4 748.8v2.8M270.4 694.7h2.8M271.8 693.3v2.8M279.4 691.5h2.8M280.8 690.1v2.8M224.2 747.9h2.8M225.6 746.5v2.8M259.3 710h2.8M260.7 708.6v2.8M246.8 693h2.8M248.2 691.6v2.8M221.3 755.4h2.8M222.7 754v2.8M230.7 751.5h2.8M232.1 750.1v2.8M252.1 742.3h2.8M253.5 740.9v2.8M184.4 770.2h2.8M185.8 768.8v2.8M258.3 747.4h2.8M259.7 746v2.8M220.3 768.2h2.8M221.7 766.8v2.8M223.8 731.1h2.8M225.2 729.7v2.8M197 792.7h2.8M198.4 791.3v2.8M236.2 727.1h2.8M237.6 725.7v2.8M199.8 785h2.8M201.2 783.6v2.8" stroke="#1b6848" stroke-width="1.1" fill="none"/></g>
<g opacity="0.6"><path d="M239.1 642.4L238.4 728.2M232.5 647.1L232 722.8M200.8 657.4L200.8 748.4M258.7 665.7L257.8 732.7M282.7 667.1L281.5 734.5M248.9 670.4L248.4 720.7M253.9 671.9L253 750.2M219 682.8L218.7 745M213.4 684.2L213.2 743.4M263.9 686.6L263.3 732.3M150.3 687.2L151.5 791.5M225.1 692.8L224.8 739.2M195.4 693.1L195.5 750.4M299.2 695.4L298.1 743.2M175.8 699.9L176.2 766.7M128.7 714.9L129.5 765.3M285.1 724.5L284.8 738.8M166.7 720.8L167.2 788.4M66.1 702.6L69.1 803.9M191.9 739.9L192 785M84.9 736.3L86.9 811.2M112.4 756.8L113.7 817.7M124 692.3L126 808.2M117.2 697.4L118.9 786.3M221.2 722.7L221 776.7M207.1 712.1L207 768M221.8 698.4L221.5 752.6M229.3 715L229 757M191.9 716.3L192 747.4M246.1 681.7L245.7 723.2M194.4 688.1L194.5 738.3M249.7 690.2L249.3 726M192.4 687.7L192.5 746.4M246.8 702.5L246.5 727.7M192.9 683L193 741M241.2 717.6L241.1 725.4M230.9 695.3L230.7 725.2M206.9 703.7L206.9 743M224.9 698.8L224.7 736.2M242.2 682.1L241.7 727.4M230.2 699.8L229.9 741.5M195.1 698.9L195.1 745.2M225.8 681.6L225.5 736.8M175.1 699.8L175.4 758.1M208.3 684L208.2 742.5M196.9 693.8L196.9 753.4M236.1 713L236 728.2M170.7 702.5L171 755.8M256.4 705.6L256.2 724.5M181.9 706.1L182.1 755.9M261.4 689.5L260.9 726.6M234.5 688.4L234.2 730.6M196.4 685.3L196.4 736.5M176.5 742.9L176.7 788.9M245 692.8L244.5 747.1M237 697.8L236.6 751.5M216.1 707.4L215.9 750.9M192.8 698.9L192.9 776.4M183.3 712L183.5 773.9M163.8 741.2L164.1 773.4M220.9 703.8L220.6 751.2M176.3 717L176.6 781.7M186.8 692.3L187.1 766.8M157.2 715.2L157.8 779.7M212.7 713.1L212.5 766.1M173.7 768.3L173.9 809.9M222 689L221.6 771.9M235.7 767.6L235.7 775.7M220.1 718.3L219.8 768.6M242.1 735.6L241.7 775.3M152.8 745L153.5 804.1M202.7 747.7L202.7 780.3M192.2 737.8L192.3 790.1M155.2 723.9L156 806.9M203.7 753.9L203.6 788.9" stroke="#f0a0a0" stroke-width="3" stroke-opacity="0.55" fill="none"/><path d="M239.1 642.4L238.4 728.2M232.5 647.1L232 722.8M200.8 657.4L200.8 748.4M258.7 665.7L257.8 732.7M282.7 667.1L281.5 734.5M248.9 670.4L248.4 720.7M253.9 671.9L253 750.2M219 682.8L218.7 745M213.4 684.2L213.2 743.4M263.9 686.6L263.3 732.3M150.3 687.2L151.5 791.5M225.1 692.8L224.8 739.2M195.4 693.1L195.5 750.4M299.2 695.4L298.1 743.2M175.8 699.9L176.2 766.7M128.7 714.9L129.5 765.3M285.1 724.5L284.8 738.8M166.7 720.8L167.2 788.4M66.1 702.6L69.1 803.9M191.9 739.9L192 785M84.9 736.3L86.9 811.2M112.4 756.8L113.7 817.7M124 692.3L126 808.2M117.2 697.4L118.9 786.3M221.2 722.7L221 776.7M207.1 712.1L207 768M221.8 698.4L221.5 752.6M229.3 715L229 757M191.9 716.3L192 747.4M246.1 681.7L245.7 723.2M194.4 688.1L194.5 738.3M249.7 690.2L249.3 726M192.4 687.7L192.5 746.4M246.8 702.5L246.5 727.7M192.9 683L193 741M241.2 717.6L241.1 725.4M230.9 695.3L230.7 725.2M206.9 703.7L206.9 743M224.9 698.8L224.7 736.2M242.2 682.1L241.7 727.4M230.2 699.8L229.9 741.5M195.1 698.9L195.1 745.2M225.8 681.6L225.5 736.8M175.1 699.8L175.4 758.1M208.3 684L208.2 742.5M196.9 693.8L196.9 753.4M236.1 713L236 728.2M170.7 702.5L171 755.8M256.4 705.6L256.2 724.5M181.9 706.1L182.1 755.9M261.4 689.5L260.9 726.6M234.5 688.4L234.2 730.6M196.4 685.3L196.4 736.5M176.5 742.9L176.7 788.9M245 692.8L244.5 747.1M237 697.8L236.6 751.5M216.1 707.4L215.9 750.9M192.8 698.9L192.9 776.4M183.3 712L183.5 773.9M163.8 741.2L164.1 773.4M220.9 703.8L220.6 751.2M176.3 717L176.6 781.7M186.8 692.3L187.1 766.8M157.2 715.2L157.8 779.7M212.7 713.1L212.5 766.1M173.7 768.3L173.9 809.9M222 689L221.6 771.9M235.7 767.6L235.7 775.7M220.1 718.3L219.8 768.6M242.1 735.6L241.7 775.3M152.8 745L153.5 804.1M202.7 747.7L202.7 780.3M192.2 737.8L192.3 790.1M155.2 723.9L156 806.9M203.7 753.9L203.6 788.9" stroke="#d42424" stroke-width="1.3" fill="none"/><path d="M237.3 643.4h3.6M230.7 648.1h3.6M199 658.4h3.6M256.9 666.7h3.6M280.9 668.1h3.6M247.1 671.4h3.6M252.1 672.9h3.6M217.2 683.8h3.6M211.6 685.2h3.6M262.1 687.6h3.6M148.5 688.2h3.6M223.3 693.8h3.6M193.6 694.1h3.6M297.4 696.4h3.6M174 700.9h3.6M126.9 715.9h3.6M283.3 725.5h3.6M164.9 721.8h3.6M64.3 703.6h3.6M190.1 740.9h3.6M83.1 737.3h3.6M110.6 757.8h3.6M122.2 693.3h3.6M115.4 698.4h3.6M219.4 723.7h3.6M205.3 713.1h3.6M220 699.4h3.6M227.5 716h3.6M190.1 717.3h3.6M244.3 682.7h3.6M192.6 689.1h3.6M247.9 691.2h3.6M190.6 688.7h3.6M245 703.5h3.6M191.1 684h3.6M239.4 718.6h3.6M229.1 696.3h3.6M205.1 704.7h3.6M223.1 699.8h3.6M240.4 683.1h3.6M228.4 700.8h3.6M193.3 699.9h3.6M224 682.6h3.6M173.3 700.8h3.6M206.5 685h3.6M195.1 694.8h3.6M234.3 714h3.6M168.9 703.5h3.6M254.6 706.6h3.6M180.1 707.1h3.6M259.6 690.5h3.6M232.7 689.4h3.6M194.6 686.3h3.6M174.7 743.9h3.6M243.2 693.8h3.6M235.2 698.8h3.6M214.3 708.4h3.6M191 699.9h3.6M181.5 713h3.6M162 742.2h3.6M219.1 704.8h3.6M174.5 718h3.6M185 693.3h3.6M155.4 716.2h3.6M210.9 714.1h3.6M171.9 769.3h3.6M220.2 690h3.6M233.9 768.6h3.6M218.3 719.3h3.6M240.3 736.6h3.6M151 746h3.6M200.9 748.7h3.6M190.4 738.8h3.6M153.4 724.9h3.6M201.9 754.9h3.6M237.2 728.2h2.4M230.8 722.8h2.4M199.6 748.4h2.4M256.6 732.7h2.4M280.3 734.5h2.4M247.2 720.7h2.4M251.8 750.2h2.4M217.5 745h2.4M212 743.4h2.4M262.1 732.3h2.4M150.3 791.5h2.4M223.6 739.2h2.4M194.3 750.4h2.4M296.9 743.2h2.4M175 766.7h2.4M128.3 765.3h2.4M283.6 738.8h2.4M166 788.4h2.4M67.9 803.9h2.4M190.8 785h2.4M85.7 811.2h2.4M112.5 817.7h2.4M124.8 808.2h2.4M117.7 786.3h2.4M219.8 776.7h2.4M205.8 768h2.4M220.3 752.6h2.4M227.8 757h2.4M190.8 747.4h2.4M244.5 723.2h2.4M193.3 738.3h2.4M248.1 726h2.4M191.3 746.4h2.4M245.3 727.7h2.4M191.8 741h2.4M239.9 725.4h2.4M229.5 725.2h2.4M205.7 743h2.4M223.5 736.2h2.4M240.5 727.4h2.4M228.7 741.5h2.4M193.9 745.2h2.4M224.3 736.8h2.4M174.2 758.1h2.4M207 742.5h2.4M195.7 753.4h2.4M234.8 728.2h2.4M169.8 755.8h2.4M255 724.5h2.4M180.9 755.9h2.4M259.7 726.6h2.4M233 730.6h2.4M195.2 736.5h2.4M175.5 788.9h2.4M243.3 747.1h2.4M235.4 751.5h2.4M214.7 750.9h2.4M191.7 776.4h2.4M182.3 773.9h2.4M162.9 773.4h2.4M219.4 751.2h2.4M175.4 781.7h2.4M185.9 766.8h2.4M156.6 779.7h2.4M211.3 766.1h2.4M172.7 809.9h2.4M220.4 771.9h2.4M234.5 775.7h2.4M218.6 768.6h2.4M240.5 775.3h2.4M152.3 804.1h2.4M201.5 780.3h2.4M191.1 790.1h2.4M154.8 806.9h2.4M202.4 788.9h2.4" stroke="#d42424" stroke-width="1.4" fill="none"/><path d="M51.1 667.6h3M52.6 666.1v3M30.5 676.7h3M32 675.2v3M61.1 680.1h3M62.6 678.6v3M84.3 705.2h3M85.8 703.7v3M115.3 709.5h3M116.8 708v3M44.1 718.6h3M45.6 717.1v3M117 705.3h3M118.5 703.8v3M71.9 719.8h3M73.4 718.3v3M63.2 721.9h3M64.7 720.4v3M90.3 739.9h3M91.8 738.4v3M99 698.2h3M100.5 696.7v3M65.8 738.7h3M67.3 737.2v3M61.8 728.3h3M63.3 726.8v3M153.7 751.9h3M155.2 750.4v3M77 726.3h3M78.5 724.8v3M36.7 739.9h3M38.2 738.4v3M130.1 799.2h3M131.6 797.7v3M107.5 739.3h3M109 737.8v3M58.9 703.8h3M60.4 702.3v3M123 766.8h3M124.5 765.3v3M82.9 736.5h3M84.4 735v3M111 756.8h3M112.5 755.3v3M105.1 696.1h3M106.6 694.6v3M65.6 708.8h3M67.1 707.3v3M134.7 755.2h3M136.2 753.7v3M106.9 745.1h3M108.4 743.6v3M91 737.9h3M92.5 736.4v3M107.5 759.2h3M109 757.7v3M53.4 761.7h3M54.9 760.2v3M48.3 735.4h3M49.8 733.9v3M33.9 728.1h3M35.4 726.6v3M60 747.9h3M61.5 746.4v3M50.4 722.6h3M51.9 721.1v3M61.6 766.1h3M63.1 764.6v3M38.6 718.9h3M40.1 717.4v3M51.1 791.3h3M52.6 789.8v3M38.4 753.5h3M39.9 752v3M57.2 749.3h3M58.7 747.8v3M59 749.7h3M60.5 748.2v3M54.7 732.6h3M56.2 731.1v3M76.3 748.3h3M77.8 746.8v3M50.8 739.3h3M52.3 737.8v3M60.4 723.5h3M61.9 722v3M59.9 730.5h3M61.4 729v3M56.3 721.5h3M57.8 720v3M69.5 727.8h3M71 726.3v3M52.3 780.3h3M53.8 778.8v3M51.5 734.8h3M53 733.3v3M64.4 775.9h3M65.9 774.4v3M61.6 740.9h3M63.1 739.4v3M74.3 748.4h3M75.8 746.9v3M55 739.2h3M56.5 737.7v3M31.5 725.2h3M33 723.7v3M116.4 765.7h3M117.9 764.2v3M102.6 736.7h3M104.1 735.2v3M103.7 739.9h3M105.2 738.4v3M82.6 750.8h3M84.1 749.3v3M108.8 722.1h3M110.3 720.6v3M96.8 738.4h3M98.3 736.9v3M80.5 771.8h3M82 770.3v3M87.7 746.2h3M89.2 744.7v3M104.2 739.5h3M105.7 738v3M86.5 717.8h3M88 716.3v3M85.4 736.1h3M86.9 734.6v3M108.7 748.2h3M110.2 746.7v3M145.1 780.7h3M146.6 779.2v3M126.6 714.9h3M128.1 713.4v3M147.4 815.4h3M148.9 813.9v3M119.9 754.5h3M121.4 753v3M151.9 775.8h3M153.4 774.3v3M120.9 756.3h3M122.4 754.8v3M124.8 781.1h3M126.3 779.6v3M131.1 761.3h3M132.6 759.8v3M126.4 732.6h3M127.9 731.1v3M139.1 782.6h3M140.6 781.1v3" stroke="#2a64c8" stroke-width="1.25" fill="none"/><path d="M314.7 645.1h2.8M316.1 643.7v2.8M321.6 650.7h2.8M323 649.3v2.8M277.4 661.4h2.8M278.8 660v2.8M310.9 668.7h2.8M312.3 667.3v2.8M312.3 668.8h2.8M313.7 667.4v2.8M326.8 675.2h2.8M328.2 673.8v2.8M285 673.9h2.8M286.4 672.5v2.8M285.5 687.9h2.8M286.9 686.5v2.8M286.7 689.9h2.8M288.1 688.5v2.8M311.8 690.3h2.8M313.2 688.9v2.8M205 691.9h2.8M206.4 690.5v2.8M294.8 698.8h2.8M296.2 697.4v2.8M272.9 699.9h2.8M274.3 698.5v2.8M302.3 695.8h2.8M303.7 694.4v2.8M245.3 706.6h2.8M246.7 705.2v2.8M236 727.5h2.8M237.4 726.1v2.8M305.3 726.8h2.8M306.7 725.4v2.8M213.1 726.4h2.8M214.5 725v2.8M164.8 713.6h2.8M166.2 712.2v2.8M223.6 744.3h2.8M225 742.9v2.8M160.5 747.5h2.8M161.9 746.1v2.8M160.1 764.8h2.8M161.5 763.4v2.8M175.7 697.2h2.8M177.1 695.8v2.8M203.6 706h2.8M205 704.6v2.8M241.4 725.2h2.8M242.8 723.8v2.8M250.3 716.8h2.8M251.7 715.4v2.8M274.9 703.3h2.8M276.3 701.9v2.8M269.9 719.4h2.8M271.3 718v2.8M276 725.7h2.8M277.4 724.3v2.8M322.3 687.3h2.8M323.7 685.9v2.8M290.5 696.1h2.8M291.9 694.7v2.8M318.5 695.7h2.8M319.9 694.3v2.8M278.1 694.8h2.8M279.5 693.4v2.8M315.3 708.9h2.8M316.7 707.5v2.8M286.2 690.2h2.8M287.6 688.8v2.8M317.2 725.8h2.8M318.6 724.4v2.8M316.3 702.8h2.8M317.7 701.4v2.8M285.6 711.3h2.8M287 709.9v2.8M299 705.5h2.8M300.4 704.1v2.8M315.4 687.5h2.8M316.8 686.1v2.8M292.3 705.5h2.8M293.7 704.1v2.8M280.1 706.9h2.8M281.5 705.5v2.8M298.8 687h2.8M300.2 685.6v2.8M257.3 707.7h2.8M258.7 706.3v2.8M287 690.2h2.8M288.4 688.8v2.8M268.7 700.2h2.8M270.1 698.8v2.8M312.4 720.9h2.8M313.8 719.5v2.8M259.6 711.4h2.8M261 710v2.8M321.5 711.8h2.8M322.9 710.4v2.8M261.8 714.3h2.8M263.2 712.9v2.8M319.6 694.1h2.8M321 692.7v2.8M309.2 694.4h2.8M310.6 693v2.8M293.5 693h2.8M294.9 691.6v2.8M214.8 748.4h2.8M216.2 747v2.8M287.3 696.4h2.8M288.7 695v2.8M279.4 701.6h2.8M280.8 700.2v2.8M276.1 713.5h2.8M277.5 712.1v2.8M235.6 703h2.8M237 701.6v2.8M236.8 717.8h2.8M238.2 716.4v2.8M232.7 750.9h2.8M234.1 749.5v2.8M276.5 709.2h2.8M277.9 707.8v2.8M224.6 722.5h2.8M226 721.1v2.8M247.7 697.7h2.8M249.1 696.3v2.8M222.7 722.7h2.8M224.1 721.3v2.8M254 717.6h2.8M255.4 716.2v2.8M186.7 770.7h2.8M188.1 769.3v2.8M248.3 691.3h2.8M249.7 689.9v2.8M245.4 769.3h2.8M246.8 767.9v2.8M252.2 721.9h2.8M253.6 720.5v2.8M247.6 736.5h2.8M249 735.1v2.8M188.8 750.3h2.8M190.2 748.9v2.8M232.3 752.1h2.8M233.7 750.7v2.8M217 741.3h2.8M218.4 739.9v2.8M185.8 727.8h2.8M187.2 726.4v2.8M221.2 756.6h2.8M222.6 755.2v2.8" stroke="#1b6848" stroke-width="1.1" fill="none"/></g>
<polyline points="162.8,797.1 160.3,793.8 157.8,790.5 155.3,787.3 152.8,784.2 150.3,781.1 147.9,778.1 145.4,775.2 143,772.3 140.5,769.5 138.1,766.8 135.7,764.1 133.3,761.5 130.9,759 128.5,756.5 126.1,754.1 123.8,751.8 121.4,749.5 119.1,747.3 116.8,745.2 114.4,743.1 112.1,741.1 109.8,739.1 107.6,737.2 105.3,735.4 103,733.6 100.8,731.9 98.5,730.3 96.3,728.7 94.1,727.2 91.8,725.7 89.6,724.3 87.4,723 85.3,721.7 83.1,720.5 80.9,719.3 78.8,718.2 76.7,717.1 74.5,716.2 72.4,715.2 70.3,714.3 68.2,713.5 66.1,712.8 64.1,712.1 62,711.4 59.9,710.8 57.9,710.3 55.9,709.8 53.9,709.4 51.8,709 49.9,708.7 47.9,708.4 45.9,708.2 43.9,708 42,707.9 40,707.8 38.1,707.8 36.2,707.9 34.3,707.9 32.4,708.1" fill="none" stroke="#2472e0" stroke-width="2.3" stroke-linecap="round"/>
<polyline points="162.7,739.3 170.1,736.1 177.3,733 184.2,730.1 190.8,727.3 197.2,724.7 203.3,722.2 209.2,719.8 215,717.5 220.5,715.3 225.8,713.2 231,711.2 236,709.3 240.8,707.5 245.5,705.7 250,704 254.4,702.5 258.7,700.9 262.8,699.5 266.9,698.1 270.7,696.8 274.5,695.5 278.2,694.3 281.8,693.1 285.3,692 288.7,691 291.9,690 295.2,689 298.3,688.1 301.3,687.3 304.3,686.4 307.2,685.6 310,684.9 312.7,684.2 315.4,683.5 318,682.8 320.6,682.2 323.1,681.7 325.5,681.1 327.9,680.6" fill="none" stroke="#1a6e4e" stroke-width="2.2" stroke-linecap="round"/>
<text x="177.8" y="847.2" text-anchor="middle" font-family="Liberation Serif" font-weight="bold" font-size="15.7">(5) May</text>
<rect x="399.5" y="583.8" width="339.2" height="247.8" fill="#ECE9D8"/>
<line x1="554.1" y1="828.6" x2="551.5" y2="606.4" stroke="#86857d" stroke-width="1"/>
<line x1="525.7" y1="822.1" x2="521.7" y2="606.4" stroke="#86857d" stroke-width="1"/>
<line x1="498.8" y1="816" x2="493.7" y2="606.3" stroke="#86857d" stroke-width="1"/>
<line x1="473.4" y1="810.2" x2="467.3" y2="606.2" stroke="#86857d" stroke-width="1"/>
<line x1="449.4" y1="804.8" x2="442.3" y2="606.2" stroke="#86857d" stroke-width="1"/>
<line x1="426.6" y1="799.6" x2="418.7" y2="606.1" stroke="#86857d" stroke-width="1"/>
<line x1="554.1" y1="828.6" x2="426.6" y2="799.6" stroke="#86857d" stroke-width="1"/>
<line x1="553.7" y1="793.1" x2="425.4" y2="768.5" stroke="#86857d" stroke-width="1"/>
<line x1="553.2" y1="757" x2="424.1" y2="736.9" stroke="#86857d" stroke-width="1"/>
<line x1="552.8" y1="720.3" x2="422.8" y2="704.9" stroke="#86857d" stroke-width="1"/>
<line x1="552.4" y1="683" x2="421.4" y2="672.5" stroke="#86857d" stroke-width="1"/>
<line x1="551.9" y1="645" x2="420.1" y2="639.6" stroke="#86857d" stroke-width="1"/>
<line x1="551.5" y1="606.4" x2="418.7" y2="606.1" stroke="#86857d" stroke-width="1"/>
<line x1="554.1" y1="828.6" x2="551.5" y2="606.4" stroke="#86857d" stroke-width="1"/>
<line x1="573.9" y1="816.6" x2="572.4" y2="606.2" stroke="#86857d" stroke-width="1"/>
<line x1="591.7" y1="805.8" x2="591.1" y2="606" stroke="#86857d" stroke-width="1"/>
<line x1="607.8" y1="796.1" x2="607.9" y2="605.8" stroke="#86857d" stroke-width="1"/>
<line x1="622.5" y1="787.2" x2="623.2" y2="605.6" stroke="#86857d" stroke-width="1"/>
<line x1="635.8" y1="779.1" x2="637" y2="605.5" stroke="#86857d" stroke-width="1"/>
<line x1="648.1" y1="771.7" x2="649.7" y2="605.3" stroke="#86857d" stroke-width="1"/>
<line x1="659.4" y1="764.9" x2="661.3" y2="605.2" stroke="#86857d" stroke-width="1"/>
<line x1="669.7" y1="758.6" x2="672" y2="605.1" stroke="#86857d" stroke-width="1"/>
<line x1="679.4" y1="752.8" x2="681.8" y2="604.9" stroke="#86857d" stroke-width="1"/>
<line x1="688.3" y1="747.4" x2="691" y2="604.8" stroke="#86857d" stroke-width="1"/>
<line x1="696.6" y1="742.4" x2="699.4" y2="604.7" stroke="#86857d" stroke-width="1"/>
<line x1="704.4" y1="737.7" x2="707.3" y2="604.7" stroke="#86857d" stroke-width="1"/>
<line x1="711.6" y1="733.3" x2="714.7" y2="604.6" stroke="#86857d" stroke-width="1"/>
<line x1="718.4" y1="729.2" x2="721.6" y2="604.5" stroke="#86857d" stroke-width="1"/>
<line x1="554.1" y1="828.6" x2="718.4" y2="729.2" stroke="#86857d" stroke-width="1"/>
<line x1="553.7" y1="793.1" x2="718.9" y2="708.9" stroke="#86857d" stroke-width="1"/>
<line x1="553.2" y1="757" x2="719.4" y2="688.4" stroke="#86857d" stroke-width="1"/>
<line x1="552.8" y1="720.3" x2="720" y2="667.7" stroke="#86857d" stroke-width="1"/>
<line x1="552.4" y1="683" x2="720.5" y2="646.8" stroke="#86857d" stroke-width="1"/>
<line x1="551.9" y1="645" x2="721" y2="625.8" stroke="#86857d" stroke-width="1"/>
<line x1="551.5" y1="606.4" x2="721.6" y2="604.5" stroke="#86857d" stroke-width="1"/>
<line x1="554.1" y1="828.6" x2="426.6" y2="799.6" stroke="#86857d" stroke-width="1"/>
<line x1="573.9" y1="816.6" x2="449.9" y2="790.4" stroke="#86857d" stroke-width="1"/>
<line x1="591.7" y1="805.8" x2="471.1" y2="782.1" stroke="#86857d" stroke-width="1"/>
<line x1="607.8" y1="796.1" x2="490.5" y2="774.4" stroke="#86857d" stroke-width="1"/>
<line x1="622.5" y1="787.2" x2="508.4" y2="767.4" stroke="#86857d" stroke-width="1"/>
<line x1="635.8" y1="779.1" x2="524.8" y2="760.9" stroke="#86857d" stroke-width="1"/>
<line x1="648.1" y1="771.7" x2="540" y2="755" stroke="#86857d" stroke-width="1"/>
<line x1="659.4" y1="764.9" x2="554.1" y2="749.4" stroke="#86857d" stroke-width="1"/>
<line x1="669.7" y1="758.6" x2="567.2" y2="744.3" stroke="#86857d" stroke-width="1"/>
<line x1="679.4" y1="752.8" x2="579.5" y2="739.4" stroke="#86857d" stroke-width="1"/>
<line x1="688.3" y1="747.4" x2="590.9" y2="735" stroke="#86857d" stroke-width="1"/>
<line x1="696.6" y1="742.4" x2="601.6" y2="730.7" stroke="#86857d" stroke-width="1"/>
<line x1="704.4" y1="737.7" x2="611.6" y2="726.8" stroke="#86857d" stroke-width="1"/>
<line x1="711.6" y1="733.3" x2="621.1" y2="723.1" stroke="#86857d" stroke-width="1"/>
<line x1="718.4" y1="729.2" x2="629.9" y2="719.6" stroke="#86857d" stroke-width="1"/>
<line x1="554.1" y1="828.6" x2="718.4" y2="729.2" stroke="#86857d" stroke-width="1"/>
<line x1="525.7" y1="822.1" x2="699.6" y2="727.1" stroke="#86857d" stroke-width="1"/>
<line x1="498.8" y1="816" x2="681.3" y2="725.2" stroke="#86857d" stroke-width="1"/>
<line x1="473.4" y1="810.2" x2="663.6" y2="723.2" stroke="#86857d" stroke-width="1"/>
<line x1="449.4" y1="804.8" x2="646.5" y2="721.4" stroke="#86857d" stroke-width="1"/>
<line x1="426.6" y1="799.6" x2="629.9" y2="719.6" stroke="#86857d" stroke-width="1"/>
<line x1="629.9" y1="719.6" x2="630.6" y2="599.5" stroke="#000" stroke-width="1"/>
<polygon points="630.6,595.5 634.6,605 630.6,601.9 626.6,604.9" fill="#000"/>
<line x1="629.9" y1="719.6" x2="420.6" y2="801.9" stroke="#111" stroke-width="0.9"/>
<polygon points="415.9,803.8 424.9,795.1 423.2,800.9 428.4,804" fill="#000"/>
<line x1="629.9" y1="719.6" x2="723.2" y2="729.7" stroke="#111" stroke-width="0.9"/>
<polygon points="727.2,730.1 717.3,733 720.7,729.4 718.1,725.2" fill="#000"/>
<path d="M627.7 584.9H633.1L627.7 591.9H633.1M405.7 801.6L411.1 808.6M411.1 801.6L405.7 808.6M730.3 726.1L733.3 730L736.3 726.1M733.3 730V733.5" stroke="#3a3a3a" stroke-width="1" fill="none"/>
<path d="M590.2 605.3L590.6 751.7M458.9 621.4L464.9 808.3M635.5 622.2L634.6 768.7M596.6 628.4L596.9 751.1M660.1 633.2L658.6 765.2M670.6 634.8L669 743.2M677 634.7L675.2 747.6M641.2 638.2L640.4 747.6M541 638.2L543.1 781.7M587 639.2L587.5 757.6M559.2 640.9L560.5 773.7M645.1 642.2L644 767.3M482.2 642.4L486.6 804.4M616.8 644.2L616.5 751.8M555.4 645.1L556.9 780.3M571.3 645.1L572.2 759.8M521.9 647.9L524.2 775.9M609.4 649L609.3 743M529.5 649.5L531.9 796.3M533.9 653L535.9 775.9M627.8 657.7L627.3 764.4M535 660.1L537.4 813.2M557.7 662.2L559.1 788.3M653 662.8L652 754.8M568.8 663.8L569.7 781.7M577.1 666.3L577.6 740M677.9 666.8L676.7 738.8M690.3 668.6L689 735.2M511.9 669.1L514.7 801.5M701.9 670.4L700.7 726.3M584.1 670.7L584.5 769.3M528.3 671.1L530 770.8M666.6 672.3L665.7 738.1M495.5 675L498.2 785.9M686.5 675.2L685.4 738.1M550.5 679.9L551.9 795M545.9 684.4L547 768.5M695.1 684.7L694.2 730.7M486.9 685.1L490.2 809.8M519.8 685.1L521.9 792.7M601.2 686.9L601.3 753.3M502.5 689.1L505.5 817.6M457.2 694.2L460.9 803.7" stroke="#f0a0a0" stroke-width="3" stroke-opacity="0.55" fill="none"/>
<path d="M590.2 605.3L590.6 751.7M458.9 621.4L464.9 808.3M635.5 622.2L634.6 768.7M596.6 628.4L596.9 751.1M660.1 633.2L658.6 765.2M670.6 634.8L669 743.2M677 634.7L675.2 747.6M641.2 638.2L640.4 747.6M541 638.2L543.1 781.7M587 639.2L587.5 757.6M559.2 640.9L560.5 773.7M645.1 642.2L644 767.3M482.2 642.4L486.6 804.4M616.8 644.2L616.5 751.8M555.4 645.1L556.9 780.3M571.3 645.1L572.2 759.8M521.9 647.9L524.2 775.9M609.4 649L609.3 743M529.5 649.5L531.9 796.3M533.9 653L535.9 775.9M627.8 657.7L627.3 764.4M535 660.1L537.4 813.2M557.7 662.2L559.1 788.3M653 662.8L652 754.8M568.8 663.8L569.7 781.7M577.1 666.3L577.6 740M677.9 666.8L676.7 738.8M690.3 668.6L689 735.2M511.9 669.1L514.7 801.5M701.9 670.4L700.7 726.3M584.1 670.7L584.5 769.3M528.3 671.1L530 770.8M666.6 672.3L665.7 738.1M495.5 675L498.2 785.9M686.5 675.2L685.4 738.1M550.5 679.9L551.9 795M545.9 684.4L547 768.5M695.1 684.7L694.2 730.7M486.9 685.1L490.2 809.8M519.8 685.1L521.9 792.7M601.2 686.9L601.3 753.3M502.5 689.1L505.5 817.6M457.2 694.2L460.9 803.7" stroke="#d42424" stroke-width="1.3" fill="none"/>
<path d="M588.4 606.3h3.6M457.1 622.4h3.6M633.7 623.2h3.6M594.8 629.4h3.6M658.3 634.2h3.6M668.8 635.8h3.6M675.2 635.7h3.6M639.4 639.2h3.6M539.2 639.2h3.6M585.2 640.2h3.6M557.4 641.9h3.6M643.3 643.2h3.6M480.4 643.4h3.6M615 645.2h3.6M553.6 646.1h3.6M569.5 646.1h3.6M520.1 648.9h3.6M607.6 650h3.6M527.7 650.5h3.6M532.1 654h3.6M626 658.7h3.6M533.2 661.1h3.6M555.9 663.2h3.6M651.2 663.8h3.6M567 664.8h3.6M575.3 667.3h3.6M676.1 667.8h3.6M688.5 669.6h3.6M510.1 670.1h3.6M700.1 671.4h3.6M582.3 671.7h3.6M526.5 672.1h3.6M664.8 673.3h3.6M493.7 676h3.6M684.7 676.2h3.6M548.7 680.9h3.6M544.1 685.4h3.6M693.3 685.7h3.6M485.1 686.1h3.6M518 686.1h3.6M599.4 687.9h3.6M500.7 690.1h3.6M455.4 695.2h3.6M589.4 751.7h2.4M463.7 808.3h2.4M633.4 768.7h2.4M595.7 751.1h2.4M657.4 765.2h2.4M667.8 743.2h2.4M674 747.6h2.4M639.2 747.6h2.4M541.9 781.7h2.4M586.3 757.6h2.4M559.3 773.7h2.4M642.8 767.3h2.4M485.4 804.4h2.4M615.3 751.8h2.4M555.7 780.3h2.4M571 759.8h2.4M523 775.9h2.4M608.1 743h2.4M530.7 796.3h2.4M534.7 775.9h2.4M626.1 764.4h2.4M536.2 813.2h2.4M557.9 788.3h2.4M650.8 754.8h2.4M568.5 781.7h2.4M576.4 740h2.4M675.5 738.8h2.4M687.8 735.2h2.4M513.5 801.5h2.4M699.5 726.3h2.4M583.3 769.3h2.4M528.8 770.8h2.4M664.5 738.1h2.4M497 785.9h2.4M684.2 738.1h2.4M550.7 795h2.4M545.8 768.5h2.4M693 730.7h2.4M489 809.8h2.4M520.7 792.7h2.4M600.1 753.3h2.4M504.3 817.6h2.4M459.7 803.7h2.4" stroke="#d42424" stroke-width="1.4" fill="none"/>
<path d="M455.4 606.6h3M456.9 605.1v3M457.4 621.4h3M458.9 619.9v3M531.6 629.2h3M533.1 627.7v3M461.1 639.1h3M462.6 637.6v3M550 645.8h3M551.5 644.3v3M519.8 653.7h3M521.3 652.2v3M535.8 652.9h3M537.3 651.4v3M497.7 656h3M499.2 654.5v3M472.8 644.4h3M474.3 642.9v3M466.3 652.2h3M467.8 650.7v3M473.2 649.7h3M474.7 648.2v3M539 657h3M540.5 655.5v3M467.2 643.7h3M468.7 642.2v3M482.2 662.2h3M483.7 660.7v3M481.8 653.3h3M483.3 651.8v3M457.1 658.7h3M458.6 657.2v3M447.7 656.1h3M449.2 654.6v3M456.7 671.2h3M458.2 669.7v3M488.4 654.2h3M489.9 652.7v3M457.2 662.7h3M458.7 661.2v3M517.5 677.7h3M519 676.2v3M517.8 662.4h3M519.3 660.9v3M497.5 671.7h3M499 670.2v3M525.1 690.6h3M526.6 689.1v3M495.6 676.1h3M497.1 674.6v3M420.6 694.6h3M422.1 693.1v3M520.2 707.1h3M521.7 705.6v3M527.2 713.6h3M528.7 712.1v3M483.9 673.4h3M485.4 671.9v3M521.9 724.2h3M523.4 722.7v3M487.1 689.8h3M488.6 688.3v3M444 685.4h3M445.5 683.9v3M506.4 714.8h3M507.9 713.3v3M446.7 683h3M448.2 681.5v3M529.2 722.4h3M530.7 720.9v3M502.7 689.4h3M504.2 687.9v3M454 703.8h3M455.5 702.3v3M524.1 744.7h3M525.6 743.2v3M479.2 686.3h3M480.7 684.8v3M475.9 693.7h3M477.4 692.2v3M472.3 719.9h3M473.8 718.4v3M501.1 689.1h3M502.6 687.6v3M450 695.4h3M451.5 693.9v3" stroke="#2a64c8" stroke-width="1.25" fill="none"/>
<path d="M664.5 605.4h2.8M665.9 604v2.8M550.3 623.2h2.8M551.7 621.8v2.8M649.4 622.4h2.8M650.8 621v2.8M666.3 630.1h2.8M667.7 628.7v2.8M659.1 633.2h2.8M660.5 631.8v2.8M691.4 635.4h2.8M692.8 634v2.8M686.4 635h2.8M687.8 633.6v2.8M679.9 639.4h2.8M681.3 638v2.8M609.8 640.7h2.8M611.2 639.3v2.8M654.7 641.6h2.8M656.1 640.2v2.8M625.5 643.4h2.8M626.9 642v2.8M653 642.5h2.8M654.4 641.1v2.8M562.6 645.9h2.8M564 644.5v2.8M669.1 646.3h2.8M670.5 644.9v2.8M615.4 647.6h2.8M616.8 646.2v2.8M648.1 648.3h2.8M649.5 646.9v2.8M613.3 652.2h2.8M614.7 650.8v2.8M680.2 652.1h2.8M681.6 650.7v2.8M586.7 652.3h2.8M588.1 650.9v2.8M616.3 657.2h2.8M617.7 655.8v2.8M653.5 659h2.8M654.9 657.6v2.8M565.7 662h2.8M567.1 660.6v2.8M604.8 665.1h2.8M606.2 663.7v2.8M671.5 663.8h2.8M672.9 662.4v2.8M616.5 666.7h2.8M617.9 665.3v2.8M678 672.6h2.8M679.4 671.2v2.8M698.4 668h2.8M699.8 666.6v2.8M705.5 669.5h2.8M706.9 668.1v2.8M575 673.6h2.8M576.4 672.2v2.8M719.8 671.5h2.8M721.2 670.1v2.8M637.1 674.3h2.8M638.5 672.9v2.8M622 677.8h2.8M623.4 676.4v2.8M697.4 674.3h2.8M698.8 672.9v2.8M592 682.5h2.8M593.4 681.1v2.8M700.7 676.2h2.8M702.1 674.8v2.8M594 683.4h2.8M595.4 682v2.8M629.4 691.3h2.8M630.8 689.9v2.8M712.2 686.1h2.8M713.6 684.7v2.8M556.7 691.4h2.8M558.1 690v2.8M589.1 691.1h2.8M590.5 689.7v2.8M663.3 692h2.8M664.7 690.6v2.8M551 693.7h2.8M552.4 692.3v2.8M556.3 704.4h2.8M557.7 703v2.8" stroke="#1b6848" stroke-width="1.1" fill="none"/>
<g opacity="0.6"><path d="M630.2 613.1L629.5 742.8M623.7 622.5L623.2 735.2M624.8 626.7L624.3 746.8M592.8 633.9L593.1 741.4M631.5 634.7L631 721.5M632.2 635.2L631.7 725.2M659.3 637.6L658.2 732.2M640.6 651.7L640 728.6M650.6 651.7L649.5 757.5M554 653.9L555.3 768.2M674.8 656.8L673.6 732.1M646.2 661.2L645.5 743.7M541.5 661.3L543.1 771.6M610 668.9L609.9 733.9M587.2 673L587.5 743M536.8 673.6L538.3 774.4M634.4 676L634 731.4M557 677L557.8 755.7M605.1 681L605.1 747.1M615.9 681.9L615.7 764.3M690.7 683L689.6 740.7M496.7 691.3L498.9 781.5M501.9 698.4L503.7 776M566.8 699.5L567.2 745.9M621.3 681.9L621 756.3M662.3 687.7L661.4 757.1M583.6 735.9L583.8 784.9M475.2 693.8L478.6 811M515.8 708.7L517.8 808.1M508.3 679.8L510.6 786.1M612.9 726.1L612.9 776.6M598.7 673L598.8 767.8M613.5 687.7L613.3 752.5M621 703.3L620.8 756.9M572.2 686.7L572.8 759.7M582.1 697.4L582.4 756.4M605.5 699.3L605.5 731.5M608.7 702.4L608.7 731.8M556.1 708.9L556.6 752.3M553.9 690.4L554.6 756.9M580 688.5L580.3 747.1M558.2 689.5L558.8 749.1M620.3 683.1L620.2 727.9M597 688.1L597.1 753.4M609.4 682L609.3 742.4M623.1 686L622.9 738.1M569.9 704.2L570.2 746.9M571.6 691.1L572.1 753.4M599.4 710.9L599.5 748.1M580.8 700L581.1 759.9M583.9 682.3L584.2 749.3M570.7 724.4L570.9 744.1M584.3 698.9L584.6 758.9M577.4 700.2L577.7 746.5M625.3 682.3L625 737.2M613.1 683.9L613.1 731.5M582 690.8L582.3 745.2M566.6 691.7L567.2 752.7M583.4 729.4L583.4 739M586.3 686.4L586.7 772.7M543.4 688L544.7 782.7M572.1 701.9L572.6 779M567.4 724.2L568 787.6M544.1 703.3L545.2 781.4M640.1 696.9L639.7 746.5M645.9 686L645.4 747.1M625.5 693.4L625.3 743.6M596.4 718.3L596.6 772.3M639.1 682.6L638.6 749.1M571.5 758.8L571.6 777M639.4 691.1L638.9 752M609.4 707L609.4 771.4M577.9 699.6L578.4 786.1M646.4 748.3L646.2 768.8M612.9 710.4L612.8 773.5M629.7 742.3L629.5 775.6M620.6 733.4L620.5 780.3M580.9 773.7L581.1 807.2M588.9 719.9L589.2 790.1M618.5 695.6L618.3 763.9M623.2 682.4L622.9 761.9" stroke="#f0a0a0" stroke-width="3" stroke-opacity="0.55" fill="none"/><path d="M630.2 613.1L629.5 742.8M623.7 622.5L623.2 735.2M624.8 626.7L624.3 746.8M592.8 633.9L593.1 741.4M631.5 634.7L631 721.5M632.2 635.2L631.7 725.2M659.3 637.6L658.2 732.2M640.6 651.7L640 728.6M650.6 651.7L649.5 757.5M554 653.9L555.3 768.2M674.8 656.8L673.6 732.1M646.2 661.2L645.5 743.7M541.5 661.3L543.1 771.6M610 668.9L609.9 733.9M587.2 673L587.5 743M536.8 673.6L538.3 774.4M634.4 676L634 731.4M557 677L557.8 755.7M605.1 681L605.1 747.1M615.9 681.9L615.7 764.3M690.7 683L689.6 740.7M496.7 691.3L498.9 781.5M501.9 698.4L503.7 776M566.8 699.5L567.2 745.9M621.3 681.9L621 756.3M662.3 687.7L661.4 757.1M583.6 735.9L583.8 784.9M475.2 693.8L478.6 811M515.8 708.7L517.8 808.1M508.3 679.8L510.6 786.1M612.9 726.1L612.9 776.6M598.7 673L598.8 767.8M613.5 687.7L613.3 752.5M621 703.3L620.8 756.9M572.2 686.7L572.8 759.7M582.1 697.4L582.4 756.4M605.5 699.3L605.5 731.5M608.7 702.4L608.7 731.8M556.1 708.9L556.6 752.3M553.9 690.4L554.6 756.9M580 688.5L580.3 747.1M558.2 689.5L558.8 749.1M620.3 683.1L620.2 727.9M597 688.1L597.1 753.4M609.4 682L609.3 742.4M623.1 686L622.9 738.1M569.9 704.2L570.2 746.9M571.6 691.1L572.1 753.4M599.4 710.9L599.5 748.1M580.8 700L581.1 759.9M583.9 682.3L584.2 749.3M570.7 724.4L570.9 744.1M584.3 698.9L584.6 758.9M577.4 700.2L577.7 746.5M625.3 682.3L625 737.2M613.1 683.9L613.1 731.5M582 690.8L582.3 745.2M566.6 691.7L567.2 752.7M583.4 729.4L583.4 739M586.3 686.4L586.7 772.7M543.4 688L544.7 782.7M572.1 701.9L572.6 779M567.4 724.2L568 787.6M544.1 703.3L545.2 781.4M640.1 696.9L639.7 746.5M645.9 686L645.4 747.1M625.5 693.4L625.3 743.6M596.4 718.3L596.6 772.3M639.1 682.6L638.6 749.1M571.5 758.8L571.6 777M639.4 691.1L638.9 752M609.4 707L609.4 771.4M577.9 699.6L578.4 786.1M646.4 748.3L646.2 768.8M612.9 710.4L612.8 773.5M629.7 742.3L629.5 775.6M620.6 733.4L620.5 780.3M580.9 773.7L581.1 807.2M588.9 719.9L589.2 790.1M618.5 695.6L618.3 763.9M623.2 682.4L622.9 761.9" stroke="#d42424" stroke-width="1.3" fill="none"/><path d="M628.4 614.1h3.6M621.9 623.5h3.6M623 627.7h3.6M591 634.9h3.6M629.7 635.7h3.6M630.4 636.2h3.6M657.5 638.6h3.6M638.8 652.7h3.6M648.8 652.7h3.6M552.2 654.9h3.6M673 657.8h3.6M644.4 662.2h3.6M539.7 662.3h3.6M608.2 669.9h3.6M585.4 674h3.6M535 674.6h3.6M632.6 677h3.6M555.2 678h3.6M603.3 682h3.6M614.1 682.9h3.6M688.9 684h3.6M494.9 692.3h3.6M500.1 699.4h3.6M565 700.5h3.6M619.5 682.9h3.6M660.5 688.7h3.6M581.8 736.9h3.6M473.4 694.8h3.6M514 709.7h3.6M506.5 680.8h3.6M611.1 727.1h3.6M596.9 674h3.6M611.7 688.7h3.6M619.2 704.3h3.6M570.4 687.7h3.6M580.3 698.4h3.6M603.7 700.3h3.6M606.9 703.4h3.6M554.3 709.9h3.6M552.1 691.4h3.6M578.2 689.5h3.6M556.4 690.5h3.6M618.5 684.1h3.6M595.2 689.1h3.6M607.6 683h3.6M621.3 687h3.6M568.1 705.2h3.6M569.8 692.1h3.6M597.6 711.9h3.6M579 701h3.6M582.1 683.3h3.6M568.9 725.4h3.6M582.5 699.9h3.6M575.6 701.2h3.6M623.5 683.3h3.6M611.3 684.9h3.6M580.2 691.8h3.6M564.8 692.7h3.6M581.6 730.4h3.6M584.5 687.4h3.6M541.6 689h3.6M570.3 702.9h3.6M565.6 725.2h3.6M542.3 704.3h3.6M638.3 697.9h3.6M644.1 687h3.6M623.7 694.4h3.6M594.6 719.3h3.6M637.3 683.6h3.6M569.7 759.8h3.6M637.6 692.1h3.6M607.6 708h3.6M576.1 700.6h3.6M644.6 749.3h3.6M611.1 711.4h3.6M627.9 743.3h3.6M618.8 734.4h3.6M579.1 774.7h3.6M587.1 720.9h3.6M616.7 696.6h3.6M621.4 683.4h3.6M628.3 742.8h2.4M622 735.2h2.4M623.1 746.8h2.4M591.9 741.4h2.4M629.8 721.5h2.4M630.5 725.2h2.4M657 732.2h2.4M638.8 728.6h2.4M648.3 757.5h2.4M554.1 768.2h2.4M672.4 732.1h2.4M644.3 743.7h2.4M541.9 771.6h2.4M608.7 733.9h2.4M586.3 743h2.4M537.1 774.4h2.4M632.8 731.4h2.4M556.6 755.7h2.4M603.9 747.1h2.4M614.5 764.3h2.4M688.4 740.7h2.4M497.7 781.5h2.4M502.5 776h2.4M566 745.9h2.4M619.8 756.3h2.4M660.2 757.1h2.4M582.6 784.9h2.4M477.4 811h2.4M516.6 808.1h2.4M509.4 786.1h2.4M611.7 776.6h2.4M597.6 767.8h2.4M612.1 752.5h2.4M619.6 756.9h2.4M571.6 759.7h2.4M581.2 756.4h2.4M604.3 731.5h2.4M607.5 731.8h2.4M555.4 752.3h2.4M553.4 756.9h2.4M579.1 747.1h2.4M557.6 749.1h2.4M619 727.9h2.4M595.9 753.4h2.4M608.1 742.4h2.4M621.7 738.1h2.4M569 746.9h2.4M570.9 753.4h2.4M598.3 748.1h2.4M579.9 759.9h2.4M583 749.3h2.4M569.7 744.1h2.4M583.4 758.9h2.4M576.5 746.5h2.4M623.8 737.2h2.4M611.9 731.5h2.4M581.1 745.2h2.4M566 752.7h2.4M582.2 739h2.4M585.5 772.7h2.4M543.5 782.7h2.4M571.4 779h2.4M566.8 787.6h2.4M544 781.4h2.4M638.5 746.5h2.4M644.2 747.1h2.4M624.1 743.6h2.4M595.4 772.3h2.4M637.4 749.1h2.4M570.4 777h2.4M637.7 752h2.4M608.2 771.4h2.4M577.2 786.1h2.4M645 768.8h2.4M611.6 773.5h2.4M628.3 775.6h2.4M619.3 780.3h2.4M579.9 807.2h2.4M588 790.1h2.4M617.1 763.9h2.4M621.7 761.9h2.4" stroke="#d42424" stroke-width="1.4" fill="none"/><path d="M475 618.8h3M476.5 617.3v3M451.5 633.9h3M453 632.4v3M479 638.4h3M480.5 636.9v3M436.5 648.6h3M438 647.1v3M425.8 657.1h3M427.3 655.6v3M436.3 656.9h3M437.8 655.4v3M483.1 660.6h3M484.6 659.1v3M454.9 683.4h3M456.4 681.9v3M527.2 673.4h3M528.7 671.9v3M459 666.8h3M460.5 665.3v3M501.7 693.8h3M503.2 692.3v3M495.8 692.4h3M497.3 690.9v3M455.6 674.2h3M457.1 672.7v3M437.3 704.8h3M438.8 703.3v3M436.8 703.9h3M438.3 702.4v3M457.2 687.8h3M458.7 686.3v3M456.6 720.3h3M458.1 718.8v3M437.6 700.8h3M439.1 699.3v3M463 715.3h3M464.5 713.8v3M506.9 709.3h3M508.4 707.8v3M539.7 733.9h3M541.2 732.4v3M440.1 702.7h3M441.6 701.2v3M434.2 713.3h3M435.7 711.8v3M426.2 737h3M427.7 735.5v3M497.1 713.8h3M498.6 712.3v3M539.8 726.6h3M541.3 725.1v3M514.6 762h3M516.1 760.5v3M473.2 693.9h3M474.7 692.4v3M497 713.2h3M498.5 711.7v3M456.4 689.1h3M457.9 687.6v3M526.5 759.5h3M528 758v3M497.3 694.5h3M498.8 693v3M482.2 722.9h3M483.7 721.4v3M498.8 743.1h3M500.3 741.6v3M459.2 713.2h3M460.7 711.7v3M461.7 730.1h3M463.2 728.6v3M429 752h3M430.5 750.5v3M433 757.1h3M434.5 755.6v3M431.2 744.3h3M432.7 742.8v3M438 717.4h3M439.5 715.9v3M440 722.9h3M441.5 721.4v3M425.3 720.5h3M426.8 719v3M433.8 731.7h3M435.3 730.2v3M468.7 721h3M470.2 719.5v3M456.9 719.7h3M458.4 718.2v3M461.2 730.1h3M462.7 728.6v3M431.3 743.3h3M432.8 741.8v3M446 722.1h3M447.5 720.6v3M460.9 756.1h3M462.4 754.6v3M467.5 731.5h3M469 730v3M448.1 713.6h3M449.6 712.1v3M426.8 773.1h3M428.3 771.6v3M468.6 731h3M470.1 729.5v3M437.1 739h3M438.6 737.5v3M461 725.4h3M462.5 723.9v3M435.4 729.5h3M436.9 728v3M438 727.2h3M439.5 725.7v3M440.3 722.6h3M441.8 721.1v3M427.1 786.4h3M428.6 784.9v3M495.5 708.4h3M497 706.9v3M477.4 702.4h3M478.9 700.9v3M494.7 723.2h3M496.2 721.7v3M505.3 744.7h3M506.8 743.2v3M476.1 720.8h3M477.6 719.3v3M496.9 743.4h3M498.4 741.9v3M503.6 727.7h3M505.1 726.2v3M475.9 738h3M477.4 736.5v3M504.4 749.9h3M505.9 748.4v3M500.5 720.8h3M502 719.3v3M492.1 793h3M493.6 791.5v3M506.8 731.4h3M508.3 729.9v3M514.2 737.8h3M515.7 736.3v3M511 717.8h3M512.5 716.3v3M545.5 799.8h3M547 798.3v3M520.9 741.5h3M522.4 740v3M540.6 783.4h3M542.1 781.9v3M539.4 767.4h3M540.9 765.9v3M545.4 790.5h3M546.9 789v3M526.9 740.9h3M528.4 739.4v3M508.9 728.1h3M510.4 726.6v3M509.5 711.9h3M511 710.4v3" stroke="#2a64c8" stroke-width="1.25" fill="none"/><path d="M685.2 613.6h2.8M686.6 612.2v2.8M695 623.8h2.8M696.4 622.4v2.8M678 627.9h2.8M679.4 626.5v2.8M679.7 636.5h2.8M681.1 635.1v2.8M716.5 637.2h2.8M717.9 635.8v2.8M711.1 637.5h2.8M712.5 636.1v2.8M705.3 639h2.8M706.7 637.6v2.8M707.1 654.7h2.8M708.5 653.3v2.8M667.5 652.5h2.8M668.9 651.1v2.8M632.1 657.9h2.8M633.5 656.5v2.8M707.5 658.4h2.8M708.9 657v2.8M685.9 663.4h2.8M687.3 662v2.8M624.1 666.2h2.8M625.5 664.8v2.8M693.4 674.2h2.8M694.8 672.8v2.8M675.6 679.1h2.8M677 677.7v2.8M619 679.6h2.8M620.4 678.2v2.8M701.3 680.6h2.8M702.7 679.2v2.8M650.5 684h2.8M651.9 682.6v2.8M672.9 686.1h2.8M674.3 684.7v2.8M650.8 684.6h2.8M652.2 683.2v2.8M697.6 683.6h2.8M699 682.2v2.8M598.6 701h2.8M600 699.6v2.8M607.8 709.2h2.8M609.2 707.8v2.8M666.7 709.2h2.8M668.1 707.8v2.8M663 685.1h2.8M664.4 683.7v2.8M669.8 688.4h2.8M671.2 687v2.8M615.4 740.2h2.8M616.8 738.8v2.8M551.7 701.5h2.8M553.1 700.1v2.8M567.4 714.6h2.8M568.8 713.2v2.8M595.2 686.9h2.8M596.6 685.5v2.8M633.2 728.6h2.8M634.6 727.2v2.8M642.4 676h2.8M643.8 674.6v2.8M666.8 692.1h2.8M668.2 690.7v2.8M661.9 707.3h2.8M663.3 705.9v2.8M647.9 693.1h2.8M649.3 691.7v2.8M654.6 704.2h2.8M656 702.8v2.8M695.4 707.7h2.8M696.8 706.3v2.8M695.6 710.8h2.8M697 709.4v2.8M654.8 719.5h2.8M656.2 718.1v2.8M647.9 698.8h2.8M649.3 697.4v2.8M667.8 696h2.8M669.2 694.6v2.8M660.3 698.4h2.8M661.7 697v2.8M703.9 689.4h2.8M705.3 688v2.8M662.2 693.5h2.8M663.6 692.1v2.8M680.6 687.4h2.8M682 686v2.8M689.3 691.2h2.8M690.7 689.8v2.8M665.7 714h2.8M667.1 712.6v2.8M656.8 698.6h2.8M658.2 697.2v2.8M669.9 718.3h2.8M671.3 716.9v2.8M649.4 706.6h2.8M650.8 705.2v2.8M665.4 688.7h2.8M666.8 687.3v2.8M669.7 736.4h2.8M671.1 735v2.8M651.5 705.3h2.8M652.9 703.9v2.8M667.9 708.9h2.8M669.3 707.5v2.8M691.1 687.3h2.8M692.5 685.9v2.8M697.3 690.4h2.8M698.7 689v2.8M670.9 698.5h2.8M672.3 697.1v2.8M656.8 699.7h2.8M658.2 698.3v2.8M679.6 741.4h2.8M681 740v2.8M632.8 690.3h2.8M634.2 688.9v2.8M608.9 693.8h2.8M610.3 692.4v2.8M620.8 706.8h2.8M622.2 705.4v2.8M608 729.2h2.8M609.4 727.8v2.8M610.8 710.2h2.8M612.2 708.8v2.8M680.2 700.4h2.8M681.6 699v2.8M680.7 688.7h2.8M682.1 687.3v2.8M681.7 698.3h2.8M683.1 696.9v2.8M635.4 722.7h2.8M636.8 721.3v2.8M676.7 685.5h2.8M678.1 684.1v2.8M623 767h2.8M624.4 765.6v2.8M672.5 693.9h2.8M673.9 692.5v2.8M639.5 710.1h2.8M640.9 708.7v2.8M612.6 703h2.8M614 701.6v2.8M650.4 749h2.8M651.8 747.6v2.8M637.5 713h2.8M638.9 711.6v2.8M638 743.5h2.8M639.4 742.1v2.8M629.9 734.8h2.8M631.3 733.4v2.8M585.8 774.8h2.8M587.2 773.4v2.8M609.8 722.4h2.8M611.2 721v2.8M651.8 698.6h2.8M653.2 697.2v2.8M655.6 684.9h2.8M657 683.5v2.8" stroke="#1b6848" stroke-width="1.1" fill="none"/></g>
<g opacity="0.6"><path d="M630.2 613.1L629.6 723.1M623.7 622.5L623.2 738.9M624.8 626.7L624.4 728.5M592.8 633.9L593.2 764.8M631.5 634.7L630.9 747.7M632.2 635.2L631.7 723.4M659.3 637.6L658.2 726.6M640.6 651.7L639.9 740M650.6 651.7L649.9 726M554 653.9L555.5 782.2M674.8 656.8L673.7 730.9M646.2 661.2L645.5 739.7M541.5 661.3L543 769.7M610 668.9L609.9 761.8M587.2 673L587.6 771.4M536.8 673.6L538.6 792.9M634.4 676L634 736.1M557 677L557.9 762.3M605.1 681L605.1 740M615.9 681.9L615.7 771.2M690.7 683L689.9 727.7M496.7 691.3L499 785.9M501.9 698.4L503.6 769.9M566.8 699.5L567.5 784.6M621.2 705.8L621 756.3M662 707.8L661.4 757.1M583.4 697.2L583.8 784.9M474.4 664.8L478.6 811M515.7 702.9L517.8 808.1M508.1 669.4L510.6 786.1M613 714.6L612.9 776.6M598.7 669.9L598.8 767.8M613.5 678.3L613.3 752.5M621.1 672.3L620.8 756.9M603 714.4L603 742.1M602.4 684.7L602.4 747.2M615.5 690L615.4 726.8M599.5 683.6L599.5 741.9M580.5 689.3L580.9 752.2M605.1 686.3L605.1 744.2M598.4 685.8L598.5 740.1M628.4 710.3L628.3 733.4M590.5 702.8L590.7 753.9M621.3 686L621.1 734.8M545.8 701.5L546.6 755.9M581.9 699.6L582.2 753.7M623.8 692.6L623.7 740.1M579.9 698.8L580.3 754.6M652 681.2L651.6 725.5M576.2 734.5L576.3 741.6M556.2 682L556.9 753M619.9 693.6L619.8 726.7M580.8 703.5L581 749.7M603.6 700.5L603.6 747.7M586.2 689L586.4 740.7M588.4 683.6L588.7 750.7M608.8 706.1L608.7 743.9M622.4 714.4L622.4 727.2M586.4 688.9L586.6 736.7M579.8 708.1L580.2 782.4M596.1 702.5L596.3 768.7M582.2 691.3L582.6 773.4M619.7 694.1L619.6 748.4M654.5 690L653.9 744.7M614.2 721L614.1 759.9M619.2 724.3L619.1 757.9M599.4 736.8L599.4 770.7M596.7 700.1L596.8 761.3M641.3 693.9L640.9 746.7M561.7 703.9L562.4 774.3M612.5 694L612.4 753.2M622.4 698.9L622.1 767.9M604 723.6L604 792.3M607.6 739.5L607.6 788.1M615 717.1L614.9 775.2M617.2 711.9L617 779.6M566.4 744.2L567 804.7M555.6 739.7L556.2 800.7M610.2 693.4L610.1 771.4M637.8 703.3L637.3 763.8M612.9 728.6L612.8 786.4" stroke="#f0a0a0" stroke-width="3" stroke-opacity="0.55" fill="none"/><path d="M630.2 613.1L629.6 723.1M623.7 622.5L623.2 738.9M624.8 626.7L624.4 728.5M592.8 633.9L593.2 764.8M631.5 634.7L630.9 747.7M632.2 635.2L631.7 723.4M659.3 637.6L658.2 726.6M640.6 651.7L639.9 740M650.6 651.7L649.9 726M554 653.9L555.5 782.2M674.8 656.8L673.7 730.9M646.2 661.2L645.5 739.7M541.5 661.3L543 769.7M610 668.9L609.9 761.8M587.2 673L587.6 771.4M536.8 673.6L538.6 792.9M634.4 676L634 736.1M557 677L557.9 762.3M605.1 681L605.1 740M615.9 681.9L615.7 771.2M690.7 683L689.9 727.7M496.7 691.3L499 785.9M501.9 698.4L503.6 769.9M566.8 699.5L567.5 784.6M621.2 705.8L621 756.3M662 707.8L661.4 757.1M583.4 697.2L583.8 784.9M474.4 664.8L478.6 811M515.7 702.9L517.8 808.1M508.1 669.4L510.6 786.1M613 714.6L612.9 776.6M598.7 669.9L598.8 767.8M613.5 678.3L613.3 752.5M621.1 672.3L620.8 756.9M603 714.4L603 742.1M602.4 684.7L602.4 747.2M615.5 690L615.4 726.8M599.5 683.6L599.5 741.9M580.5 689.3L580.9 752.2M605.1 686.3L605.1 744.2M598.4 685.8L598.5 740.1M628.4 710.3L628.3 733.4M590.5 702.8L590.7 753.9M621.3 686L621.1 734.8M545.8 701.5L546.6 755.9M581.9 699.6L582.2 753.7M623.8 692.6L623.7 740.1M579.9 698.8L580.3 754.6M652 681.2L651.6 725.5M576.2 734.5L576.3 741.6M556.2 682L556.9 753M619.9 693.6L619.8 726.7M580.8 703.5L581 749.7M603.6 700.5L603.6 747.7M586.2 689L586.4 740.7M588.4 683.6L588.7 750.7M608.8 706.1L608.7 743.9M622.4 714.4L622.4 727.2M586.4 688.9L586.6 736.7M579.8 708.1L580.2 782.4M596.1 702.5L596.3 768.7M582.2 691.3L582.6 773.4M619.7 694.1L619.6 748.4M654.5 690L653.9 744.7M614.2 721L614.1 759.9M619.2 724.3L619.1 757.9M599.4 736.8L599.4 770.7M596.7 700.1L596.8 761.3M641.3 693.9L640.9 746.7M561.7 703.9L562.4 774.3M612.5 694L612.4 753.2M622.4 698.9L622.1 767.9M604 723.6L604 792.3M607.6 739.5L607.6 788.1M615 717.1L614.9 775.2M617.2 711.9L617 779.6M566.4 744.2L567 804.7M555.6 739.7L556.2 800.7M610.2 693.4L610.1 771.4M637.8 703.3L637.3 763.8M612.9 728.6L612.8 786.4" stroke="#d42424" stroke-width="1.3" fill="none"/><path d="M628.4 614.1h3.6M621.9 623.5h3.6M623 627.7h3.6M591 634.9h3.6M629.7 635.7h3.6M630.4 636.2h3.6M657.5 638.6h3.6M638.8 652.7h3.6M648.8 652.7h3.6M552.2 654.9h3.6M673 657.8h3.6M644.4 662.2h3.6M539.7 662.3h3.6M608.2 669.9h3.6M585.4 674h3.6M535 674.6h3.6M632.6 677h3.6M555.2 678h3.6M603.3 682h3.6M614.1 682.9h3.6M688.9 684h3.6M494.9 692.3h3.6M500.1 699.4h3.6M565 700.5h3.6M619.4 706.8h3.6M660.2 708.8h3.6M581.6 698.2h3.6M472.6 665.8h3.6M513.9 703.9h3.6M506.3 670.4h3.6M611.2 715.6h3.6M596.9 670.9h3.6M611.7 679.3h3.6M619.3 673.3h3.6M601.2 715.4h3.6M600.6 685.7h3.6M613.7 691h3.6M597.7 684.6h3.6M578.7 690.3h3.6M603.3 687.3h3.6M596.6 686.8h3.6M626.6 711.3h3.6M588.7 703.8h3.6M619.5 687h3.6M544 702.5h3.6M580.1 700.6h3.6M622 693.6h3.6M578.1 699.8h3.6M650.2 682.2h3.6M574.4 735.5h3.6M554.4 683h3.6M618.1 694.6h3.6M579 704.5h3.6M601.8 701.5h3.6M584.4 690h3.6M586.6 684.6h3.6M607 707.1h3.6M620.6 715.4h3.6M584.6 689.9h3.6M578 709.1h3.6M594.3 703.5h3.6M580.4 692.3h3.6M617.9 695.1h3.6M652.7 691h3.6M612.4 722h3.6M617.4 725.3h3.6M597.6 737.8h3.6M594.9 701.1h3.6M639.5 694.9h3.6M559.9 704.9h3.6M610.7 695h3.6M620.6 699.9h3.6M602.2 724.6h3.6M605.8 740.5h3.6M613.2 718.1h3.6M615.4 712.9h3.6M564.6 745.2h3.6M553.8 740.7h3.6M608.4 694.4h3.6M636 704.3h3.6M611.1 729.6h3.6M628.4 723.1h2.4M622 738.9h2.4M623.2 728.5h2.4M592 764.8h2.4M629.7 747.7h2.4M630.5 723.4h2.4M657 726.6h2.4M638.7 740h2.4M648.7 726h2.4M554.3 782.2h2.4M672.5 730.9h2.4M644.3 739.7h2.4M541.8 769.7h2.4M608.7 761.8h2.4M586.4 771.4h2.4M537.4 792.9h2.4M632.8 736.1h2.4M556.7 762.3h2.4M603.9 740h2.4M614.5 771.2h2.4M688.7 727.7h2.4M497.8 785.9h2.4M502.4 769.9h2.4M566.3 784.6h2.4M619.8 756.3h2.4M660.2 757.1h2.4M582.6 784.9h2.4M477.4 811h2.4M516.6 808.1h2.4M509.4 786.1h2.4M611.7 776.6h2.4M597.6 767.8h2.4M612.1 752.5h2.4M619.6 756.9h2.4M601.8 742.1h2.4M601.2 747.2h2.4M614.2 726.8h2.4M598.3 741.9h2.4M579.7 752.2h2.4M603.9 744.2h2.4M597.3 740.1h2.4M627.1 733.4h2.4M589.5 753.9h2.4M619.9 734.8h2.4M545.4 755.9h2.4M581 753.7h2.4M622.5 740.1h2.4M579.1 754.6h2.4M650.4 725.5h2.4M575.1 741.6h2.4M555.7 753h2.4M618.6 726.7h2.4M579.8 749.7h2.4M602.4 747.7h2.4M585.2 740.7h2.4M587.5 750.7h2.4M607.5 743.9h2.4M621.2 727.2h2.4M585.4 736.7h2.4M579 782.4h2.4M595.1 768.7h2.4M581.4 773.4h2.4M618.4 748.4h2.4M652.7 744.7h2.4M612.9 759.9h2.4M617.9 757.9h2.4M598.2 770.7h2.4M595.6 761.3h2.4M639.7 746.7h2.4M561.2 774.3h2.4M611.2 753.2h2.4M620.9 767.9h2.4M602.8 792.3h2.4M606.4 788.1h2.4M613.7 775.2h2.4M615.8 779.6h2.4M565.8 804.7h2.4M555 800.7h2.4M608.9 771.4h2.4M636.1 763.8h2.4M611.6 786.4h2.4" stroke="#d42424" stroke-width="1.4" fill="none"/><path d="M427.1 620.5h3M428.6 619v3M460.1 633.3h3M461.6 631.8v3M436.3 641.8h3M437.8 640.3v3M485.2 643.9h3M486.7 642.4v3M487.9 650.3h3M489.4 648.8v3M431.4 657.4h3M432.9 655.9v3M469.7 662.4h3M471.2 660.9v3M481.4 678.9h3M482.9 677.4v3M459.5 685.5h3M461 684v3M484.3 663.3h3M485.8 661.8v3M498.9 694.4h3M500.4 692.9v3M487.3 694.1h3M488.8 692.6v3M451.9 674.8h3M453.4 673.3v3M496.4 692.4h3M497.9 690.9v3M493.6 692.1h3M495.1 690.6v3M488.8 682.1h3M490.3 680.6v3M467.5 717.5h3M469 716v3M450.9 698.1h3M452.4 696.6v3M447.4 719.1h3M448.9 717.6v3M519.1 706.2h3M520.6 704.7v3M512 743.3h3M513.5 741.8v3M447.9 701.1h3M449.4 699.6v3M422.9 715.9h3M424.4 714.4v3M499.5 717.2h3M501 715.7v3M497.9 746.9h3M499.4 745.4v3M540.2 755.5h3M541.7 754v3M513.7 716h3M515.2 714.5v3M472.3 664.8h3M473.8 663.3v3M496.9 707.1h3M498.4 705.6v3M456.1 677.4h3M457.6 675.9v3M526.2 745h3M527.7 743.5v3M497.2 690.5h3M498.7 689v3M481.8 709.8h3M483.3 708.3v3M497.7 700.2h3M499.2 698.7v3M451.7 766h3M453.2 764.5v3M460.7 720.2h3M462.2 718.7v3M426.7 742.6h3M428.2 741.1v3M446.3 721.2h3M447.8 719.7v3M451.4 721.3h3M452.9 719.8v3M457 724.4h3M458.5 722.9v3M441.4 725.1h3M442.9 723.6v3M457 771.6h3M458.5 770.1v3M464.3 739.9h3M465.8 738.4v3M451.6 732h3M453.1 730.5v3M429.8 731.2h3M431.3 729.7v3M456.1 734.6h3M457.6 733.1v3M466.5 738.9h3M468 737.4v3M456.1 732.7h3M457.6 731.2v3M461.7 735.3h3M463.2 733.8v3M426.8 790.2h3M428.3 788.7v3M431.4 708.4h3M432.9 706.9v3M431 749.2h3M432.5 747.7v3M447 742.1h3M448.5 740.6v3M463.7 742.4h3M465.2 740.9v3M431.5 727.9h3M433 726.4v3M455.2 715.1h3M456.7 713.6v3M460.8 753.7h3M462.3 752.2v3M436.4 782.1h3M437.9 780.6v3M422.3 730.1h3M423.8 728.6v3M506.8 729.8h3M508.3 728.3v3M497.5 731.8h3M499 730.3v3M493.2 713.8h3M494.7 712.3v3M480.3 735.2h3M481.8 733.7v3M507.9 736.5h3M509.4 735v3M498.5 764.2h3M500 762.7v3M499.5 770.9h3M501 769.4v3M504.8 774.8h3M506.3 773.3v3M484.4 732.8h3M485.9 731.3v3M498.3 739.1h3M499.8 737.6v3M477.9 726.7h3M479.4 725.2v3M483 731.2h3M484.5 729.7v3M519.8 730.8h3M521.3 729.3v3M542.8 746h3M544.3 744.5v3M540 767.8h3M541.5 766.3v3M525.8 749.3h3M527.3 747.8v3M534.8 740.4h3M536.3 738.9v3M530.3 757.8h3M531.8 756.3v3M516.1 753.7h3M517.6 752.2v3M514.6 720.4h3M516.1 718.9v3M527.4 741.2h3M528.9 739.7v3M541.9 756.4h3M543.4 754.9v3" stroke="#2a64c8" stroke-width="1.25" fill="none"/><path d="M714.5 613.8h2.8M715.9 612.4v2.8M689.5 623.7h2.8M690.9 622.3v2.8M705.1 628.4h2.8M706.5 627v2.8M645.8 635.5h2.8M647.2 634.1v2.8M677.9 636.1h2.8M679.3 634.7v2.8M713.9 637.6h2.8M715.3 636.2v2.8M713.5 639.3h2.8M714.9 637.9v2.8M690.4 654h2.8M691.8 652.6v2.8M712.5 654.5h2.8M713.9 653.1v2.8M612.3 656.9h2.8M613.7 655.5v2.8M709.3 658.5h2.8M710.7 657.1v2.8M691.6 663.7h2.8M693 662.3v2.8M626.9 666.4h2.8M628.3 665v2.8M653.2 671.7h2.8M654.6 670.3v2.8M634.9 676.3h2.8M636.3 674.9v2.8M593.3 677.7h2.8M594.7 676.3v2.8M694.5 680.1h2.8M695.9 678.7v2.8M641 683.3h2.8M642.4 681.9v2.8M683.3 686.9h2.8M684.7 685.5v2.8M641.3 683.9h2.8M642.7 682.5v2.8M715.8 684.9h2.8M717.2 683.5v2.8M592.3 700.4h2.8M593.7 699v2.8M616.5 710.1h2.8M617.9 708.7v2.8M612 703.9h2.8M613.4 702.5v2.8M662.7 710h2.8M664.1 708.6v2.8M669.5 708.6h2.8M670.9 707.2v2.8M615.5 700.2h2.8M616.9 698.8v2.8M551.3 670h2.8M552.7 668.6v2.8M567.3 708.4h2.8M568.7 707v2.8M595.1 675.5h2.8M596.5 674.1v2.8M633.2 716.9h2.8M634.6 715.5v2.8M642.4 672.8h2.8M643.8 671.4v2.8M667 682.2h2.8M668.4 680.8v2.8M662.3 675.1h2.8M663.7 673.7v2.8M679.2 722.6h2.8M680.6 721.2v2.8M672.3 690.3h2.8M673.7 688.9v2.8M704.5 697.5h2.8M705.9 696.1v2.8M679.4 689.9h2.8M680.8 688.5v2.8M660.4 696.1h2.8M661.8 694.7v2.8M677 692.1h2.8M678.4 690.7v2.8M681.7 692.5h2.8M683.1 691.1v2.8M696.7 717.3h2.8M698.1 715.9v2.8M660 709.6h2.8M661.4 708.2v2.8M693.9 691.8h2.8M695.3 690.4v2.8M647.3 711.7h2.8M648.7 710.3v2.8M658.4 706.9h2.8M659.8 705.5v2.8M686.5 698h2.8M687.9 696.6v2.8M656.8 706.1h2.8M658.2 704.7v2.8M712.8 685.7h2.8M714.2 684.3v2.8M674.2 747.4h2.8M675.6 746v2.8M654.3 689.8h2.8M655.7 688.4v2.8M705.4 701h2.8M706.8 699.6v2.8M663.9 711.8h2.8M665.3 710.4v2.8M671.4 706.9h2.8M672.8 705.5v2.8M678.4 696.8h2.8M679.8 695.4v2.8M664.3 689.6h2.8M665.7 688.2v2.8M677.8 713h2.8M679.2 711.6v2.8M704.5 723.1h2.8M705.9 721.7v2.8M684.5 697.2h2.8M685.9 695.8v2.8M617.9 712.2h2.8M619.3 710.8v2.8M640.3 706.9h2.8M641.7 705.5v2.8M630.9 695.6h2.8M632.3 694.2v2.8M673.7 698.9h2.8M675.1 697.5v2.8M685.5 692.5h2.8M686.9 691.1v2.8M656.1 725.8h2.8M657.5 724.4v2.8M660 729.1h2.8M661.4 727.7v2.8M638 741.9h2.8M639.4 740.5v2.8M650.7 705.2h2.8M652.1 703.8v2.8M680.3 697.2h2.8M681.7 695.8v2.8M624.9 710.4h2.8M626.3 709v2.8M665.5 698.7h2.8M666.9 697.3v2.8M647.1 701.2h2.8M648.5 699.8v2.8M610.4 724.5h2.8M611.8 723.1v2.8M616.7 740.8h2.8M618.1 739.4v2.8M635.5 719.5h2.8M636.9 718.1v2.8M630.2 713.4h2.8M631.6 712v2.8M585.3 747h2.8M586.7 745.6v2.8M587.7 744.3h2.8M589.1 742.9v2.8M639.8 696h2.8M641.2 694.6v2.8M655.8 705.1h2.8M657.2 703.7v2.8M620.1 729.6h2.8M621.5 728.2v2.8" stroke="#1b6848" stroke-width="1.1" fill="none"/></g>
<polyline points="553.1,792.6 550.6,787.8 548,783 545.5,778.4 543,773.9 540.5,769.5 538,765.3 535.5,761.1 533,757.1 530.6,753.2 528.1,749.4 525.7,745.8 523.2,742.2 520.8,738.8 518.4,735.5 516,732.3 513.6,729.3 511.2,726.3 508.9,723.5 506.5,720.8 504.2,718.2 501.8,715.7 499.5,713.3 497.2,711.1 494.9,709 492.6,706.9 490.3,705 488.1,703.2 485.8,701.5 483.6,700 481.3,698.5 479.1,697.1 476.9,695.9 474.7,694.8 472.6,693.7 470.4,692.8 468.3,692 466.1,691.3 464,690.7 461.9,690.2 459.8,689.8 457.7,689.5 455.6,689.3 453.6,689.2 451.5,689.3 449.5,689.4 447.5,689.6 445.4,689.9 443.4,690.3 441.5,690.9 439.5,691.5 437.5,692.2 435.6,693 433.7,693.9 431.8,694.9 429.9,696 428,697.1 426.1,698.4 424.2,699.8 422.4,701.2" fill="none" stroke="#2472e0" stroke-width="2.3" stroke-linecap="round"/>
<polyline points="553.4,705.5 560.8,703.9 568,702.4 574.9,700.9 581.5,699.5 587.8,698.1 594,696.8 599.9,695.5 605.6,694.3 611.1,693.1 616.5,692 621.6,690.9 626.6,689.8 631.4,688.8 636.1,687.8 640.6,686.8 645,685.9 649.3,685 653.4,684.1 657.4,683.2 661.3,682.4 665.1,681.6 668.8,680.8 672.3,680 675.8,679.3 679.2,678.6 682.5,677.9 685.7,677.2 688.8,676.5 691.9,675.9 694.8,675.2 697.7,674.6 700.5,674 703.3,673.4 706,672.9 708.6,672.3 711.2,671.8 713.7,671.2 716.1,670.7 718.5,670.2" fill="none" stroke="#1a6e4e" stroke-width="2.2" stroke-linecap="round"/>
<text x="569.3" y="846.5" text-anchor="middle" font-family="Liberation Serif" font-weight="bold" font-size="15.7">(6) June</text>
<line x1="7.2" y1="293.4" x2="349.2" y2="293.4" stroke="#000" stroke-width="1.2"/></svg></body></html>
